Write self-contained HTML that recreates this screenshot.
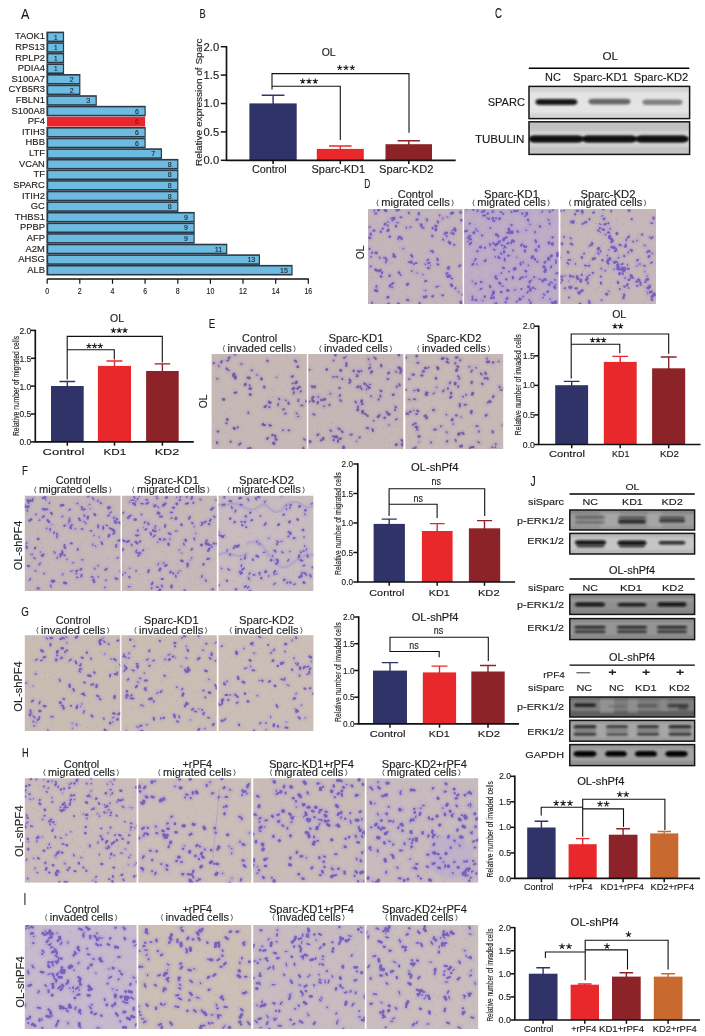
<!DOCTYPE html>
<html><head><meta charset="utf-8"><title>Figure</title>
<style>html,body{margin:0;padding:0;background:#fff;}body{width:705px;height:1036px;overflow:hidden;font-family:"Liberation Sans",sans-serif;}svg{display:block;opacity:0.999;}text{font-family:"Liberation Sans",sans-serif;}</style>
</head><body>
<svg width="705" height="1036" viewBox="0 0 705 1036" font-family="Liberation Sans, sans-serif"><rect x="46.4" y="31.6" width="17.7" height="10.6" fill="#2b3946" />
<rect x="48.2" y="33.2" width="14.7" height="7.4" fill="#6dbbe0" />
<text x="44.9" y="39.4" font-size="8.6" text-anchor="end" fill="#222" textLength="30.0" lengthAdjust="spacingAndGlyphs" stroke="#222" stroke-width="0.14">TAOK1</text>
<text x="55.7" y="39.5" font-size="8" text-anchor="middle" fill="#1c2733" textLength="3.6" lengthAdjust="spacingAndGlyphs" stroke="#1c2733" stroke-width="0.14">1</text>
<rect x="46.4" y="42.2" width="17.7" height="10.6" fill="#2b3946" />
<rect x="48.2" y="43.8" width="14.7" height="7.4" fill="#6dbbe0" />
<text x="44.9" y="50.0" font-size="8.6" text-anchor="end" fill="#222" textLength="29.7" lengthAdjust="spacingAndGlyphs" stroke="#222" stroke-width="0.14">RPS13</text>
<text x="55.7" y="50.1" font-size="8" text-anchor="middle" fill="#1c2733" textLength="3.6" lengthAdjust="spacingAndGlyphs" stroke="#1c2733" stroke-width="0.14">1</text>
<rect x="46.4" y="52.8" width="17.7" height="10.6" fill="#2b3946" />
<rect x="48.2" y="54.4" width="14.7" height="7.4" fill="#6dbbe0" />
<text x="44.9" y="60.6" font-size="8.6" text-anchor="end" fill="#222" textLength="29.7" lengthAdjust="spacingAndGlyphs" stroke="#222" stroke-width="0.14">RPLP2</text>
<text x="55.7" y="60.7" font-size="8" text-anchor="middle" fill="#1c2733" textLength="3.6" lengthAdjust="spacingAndGlyphs" stroke="#1c2733" stroke-width="0.14">1</text>
<rect x="46.4" y="63.4" width="17.7" height="10.6" fill="#2b3946" />
<rect x="48.2" y="65.0" width="14.7" height="7.4" fill="#6dbbe0" />
<text x="44.9" y="71.2" font-size="8.6" text-anchor="end" fill="#222" textLength="27.1" lengthAdjust="spacingAndGlyphs" stroke="#222" stroke-width="0.14">PDIA4</text>
<text x="55.7" y="71.3" font-size="8" text-anchor="middle" fill="#1c2733" textLength="3.6" lengthAdjust="spacingAndGlyphs" stroke="#1c2733" stroke-width="0.14">1</text>
<rect x="46.4" y="74.0" width="34.0" height="10.6" fill="#2b3946" />
<rect x="48.2" y="75.6" width="31.0" height="7.4" fill="#6dbbe0" />
<text x="44.9" y="81.8" font-size="8.6" text-anchor="end" fill="#222" textLength="33.4" lengthAdjust="spacingAndGlyphs" stroke="#222" stroke-width="0.14">S100A7</text>
<text x="71.7" y="81.9" font-size="8" text-anchor="middle" fill="#1c2733" textLength="3.9" lengthAdjust="spacingAndGlyphs" stroke="#1c2733" stroke-width="0.14">2</text>
<rect x="46.4" y="84.6" width="34.0" height="10.6" fill="#2b3946" />
<rect x="48.2" y="86.2" width="31.0" height="7.4" fill="#6dbbe0" />
<text x="44.9" y="92.4" font-size="8.6" text-anchor="end" fill="#222" textLength="36.5" lengthAdjust="spacingAndGlyphs" stroke="#222" stroke-width="0.14">CYB5R3</text>
<text x="71.7" y="92.5" font-size="8" text-anchor="middle" fill="#1c2733" textLength="3.9" lengthAdjust="spacingAndGlyphs" stroke="#1c2733" stroke-width="0.14">2</text>
<rect x="46.4" y="95.2" width="50.4" height="10.6" fill="#2b3946" />
<rect x="48.2" y="96.8" width="47.4" height="7.4" fill="#6dbbe0" />
<text x="44.9" y="103.0" font-size="8.6" text-anchor="end" fill="#222" textLength="29.2" lengthAdjust="spacingAndGlyphs" stroke="#222" stroke-width="0.14">FBLN1</text>
<text x="88.1" y="103.1" font-size="8" text-anchor="middle" fill="#1c2733" textLength="3.9" lengthAdjust="spacingAndGlyphs" stroke="#1c2733" stroke-width="0.14">3</text>
<rect x="46.4" y="105.8" width="99.3" height="10.6" fill="#2b3946" />
<rect x="48.2" y="107.4" width="96.3" height="7.4" fill="#6dbbe0" />
<text x="44.9" y="113.6" font-size="8.6" text-anchor="end" fill="#222" textLength="33.4" lengthAdjust="spacingAndGlyphs" stroke="#222" stroke-width="0.14">S100A8</text>
<text x="137.0" y="113.7" font-size="8" text-anchor="middle" fill="#1c2733" textLength="3.9" lengthAdjust="spacingAndGlyphs" stroke="#1c2733" stroke-width="0.14">6</text>
<rect x="47.0" y="116.8" width="98.1" height="9.8" fill="#e8262b" />
<text x="44.9" y="124.2" font-size="8.6" text-anchor="end" fill="#222" textLength="17.2" lengthAdjust="spacingAndGlyphs" stroke="#222" stroke-width="0.14">PF4</text>
<text x="137.0" y="124.3" font-size="8" text-anchor="middle" fill="#8a1518" textLength="3.9" lengthAdjust="spacingAndGlyphs" stroke="#8a1518" stroke-width="0.14">6</text>
<rect x="46.4" y="127.0" width="99.3" height="10.6" fill="#2b3946" />
<rect x="48.2" y="128.6" width="96.3" height="7.4" fill="#6dbbe0" />
<text x="44.9" y="134.8" font-size="8.6" text-anchor="end" fill="#222" textLength="22.9" lengthAdjust="spacingAndGlyphs" stroke="#222" stroke-width="0.14">ITIH3</text>
<text x="137.0" y="134.9" font-size="8" text-anchor="middle" fill="#1c2733" textLength="3.9" lengthAdjust="spacingAndGlyphs" stroke="#1c2733" stroke-width="0.14">6</text>
<rect x="46.4" y="137.7" width="99.3" height="10.6" fill="#2b3946" />
<rect x="48.2" y="139.3" width="96.3" height="7.4" fill="#6dbbe0" />
<text x="44.9" y="145.4" font-size="8.6" text-anchor="end" fill="#222" textLength="19.3" lengthAdjust="spacingAndGlyphs" stroke="#222" stroke-width="0.14">HBB</text>
<text x="137.0" y="145.5" font-size="8" text-anchor="middle" fill="#1c2733" textLength="3.9" lengthAdjust="spacingAndGlyphs" stroke="#1c2733" stroke-width="0.14">6</text>
<rect x="46.4" y="148.3" width="115.6" height="10.6" fill="#2b3946" />
<rect x="48.2" y="149.9" width="112.6" height="7.4" fill="#6dbbe0" />
<text x="44.9" y="156.1" font-size="8.6" text-anchor="end" fill="#222" textLength="16.0" lengthAdjust="spacingAndGlyphs" stroke="#222" stroke-width="0.14">LTF</text>
<text x="153.3" y="156.1" font-size="8" text-anchor="middle" fill="#1c2733" textLength="3.9" lengthAdjust="spacingAndGlyphs" stroke="#1c2733" stroke-width="0.14">7</text>
<rect x="46.4" y="158.9" width="132.0" height="10.6" fill="#2b3946" />
<rect x="48.2" y="160.5" width="129.0" height="7.4" fill="#6dbbe0" />
<text x="44.9" y="166.7" font-size="8.6" text-anchor="end" fill="#222" textLength="26.0" lengthAdjust="spacingAndGlyphs" stroke="#222" stroke-width="0.14">VCAN</text>
<text x="169.7" y="166.7" font-size="8" text-anchor="middle" fill="#1c2733" textLength="3.9" lengthAdjust="spacingAndGlyphs" stroke="#1c2733" stroke-width="0.14">8</text>
<rect x="46.4" y="169.5" width="132.0" height="10.6" fill="#2b3946" />
<rect x="48.2" y="171.1" width="129.0" height="7.4" fill="#6dbbe0" />
<text x="44.9" y="177.3" font-size="8.6" text-anchor="end" fill="#222" textLength="11.5" lengthAdjust="spacingAndGlyphs" stroke="#222" stroke-width="0.14">TF</text>
<text x="169.7" y="177.3" font-size="8" text-anchor="middle" fill="#1c2733" textLength="3.9" lengthAdjust="spacingAndGlyphs" stroke="#1c2733" stroke-width="0.14">8</text>
<rect x="46.4" y="180.1" width="132.0" height="10.6" fill="#2b3946" />
<rect x="48.2" y="181.7" width="129.0" height="7.4" fill="#6dbbe0" />
<text x="44.9" y="187.9" font-size="8.6" text-anchor="end" fill="#222" textLength="31.6" lengthAdjust="spacingAndGlyphs" stroke="#222" stroke-width="0.14">SPARC</text>
<text x="169.7" y="187.9" font-size="8" text-anchor="middle" fill="#1c2733" textLength="3.9" lengthAdjust="spacingAndGlyphs" stroke="#1c2733" stroke-width="0.14">8</text>
<rect x="46.4" y="190.7" width="132.0" height="10.6" fill="#2b3946" />
<rect x="48.2" y="192.3" width="129.0" height="7.4" fill="#6dbbe0" />
<text x="44.9" y="198.5" font-size="8.6" text-anchor="end" fill="#222" textLength="22.9" lengthAdjust="spacingAndGlyphs" stroke="#222" stroke-width="0.14">ITIH2</text>
<text x="169.7" y="198.6" font-size="8" text-anchor="middle" fill="#1c2733" textLength="3.9" lengthAdjust="spacingAndGlyphs" stroke="#1c2733" stroke-width="0.14">8</text>
<rect x="46.4" y="201.3" width="132.0" height="10.6" fill="#2b3946" />
<rect x="48.2" y="202.9" width="129.0" height="7.4" fill="#6dbbe0" />
<text x="44.9" y="209.1" font-size="8.6" text-anchor="end" fill="#222" textLength="14.1" lengthAdjust="spacingAndGlyphs" stroke="#222" stroke-width="0.14">GC</text>
<text x="169.7" y="209.2" font-size="8" text-anchor="middle" fill="#1c2733" textLength="3.9" lengthAdjust="spacingAndGlyphs" stroke="#1c2733" stroke-width="0.14">8</text>
<rect x="46.4" y="211.9" width="148.3" height="10.6" fill="#2b3946" />
<rect x="48.2" y="213.5" width="145.3" height="7.4" fill="#6dbbe0" />
<text x="44.9" y="219.7" font-size="8.6" text-anchor="end" fill="#222" textLength="30.2" lengthAdjust="spacingAndGlyphs" stroke="#222" stroke-width="0.14">THBS1</text>
<text x="186.0" y="219.8" font-size="8" text-anchor="middle" fill="#1c2733" textLength="3.9" lengthAdjust="spacingAndGlyphs" stroke="#1c2733" stroke-width="0.14">9</text>
<rect x="46.4" y="222.5" width="148.3" height="10.6" fill="#2b3946" />
<rect x="48.2" y="224.1" width="145.3" height="7.4" fill="#6dbbe0" />
<text x="44.9" y="230.3" font-size="8.6" text-anchor="end" fill="#222" textLength="25.0" lengthAdjust="spacingAndGlyphs" stroke="#222" stroke-width="0.14">PPBP</text>
<text x="186.0" y="230.4" font-size="8" text-anchor="middle" fill="#1c2733" textLength="3.9" lengthAdjust="spacingAndGlyphs" stroke="#1c2733" stroke-width="0.14">9</text>
<rect x="46.4" y="233.1" width="148.3" height="10.6" fill="#2b3946" />
<rect x="48.2" y="234.7" width="145.3" height="7.4" fill="#6dbbe0" />
<text x="44.9" y="240.9" font-size="8.6" text-anchor="end" fill="#222" textLength="18.2" lengthAdjust="spacingAndGlyphs" stroke="#222" stroke-width="0.14">AFP</text>
<text x="186.0" y="241.0" font-size="8" text-anchor="middle" fill="#1c2733" textLength="3.9" lengthAdjust="spacingAndGlyphs" stroke="#1c2733" stroke-width="0.14">9</text>
<rect x="46.4" y="243.7" width="180.9" height="10.6" fill="#2b3946" />
<rect x="48.2" y="245.3" width="177.9" height="7.4" fill="#6dbbe0" />
<text x="44.9" y="251.5" font-size="8.6" text-anchor="end" fill="#222" textLength="19.3" lengthAdjust="spacingAndGlyphs" stroke="#222" stroke-width="0.14">A2M</text>
<text x="218.6" y="251.6" font-size="8" text-anchor="middle" fill="#1c2733" textLength="7.8" lengthAdjust="spacingAndGlyphs" stroke="#1c2733" stroke-width="0.14">11</text>
<rect x="46.4" y="254.3" width="213.6" height="10.6" fill="#2b3946" />
<rect x="48.2" y="255.9" width="210.6" height="7.4" fill="#6dbbe0" />
<text x="44.9" y="262.1" font-size="8.6" text-anchor="end" fill="#222" textLength="26.6" lengthAdjust="spacingAndGlyphs" stroke="#222" stroke-width="0.14">AHSG</text>
<text x="251.3" y="262.2" font-size="8" text-anchor="middle" fill="#1c2733" textLength="7.8" lengthAdjust="spacingAndGlyphs" stroke="#1c2733" stroke-width="0.14">13</text>
<rect x="46.4" y="264.9" width="246.2" height="10.6" fill="#2b3946" />
<rect x="48.2" y="266.5" width="243.2" height="7.4" fill="#6dbbe0" />
<text x="44.9" y="272.7" font-size="8.6" text-anchor="end" fill="#222" textLength="17.7" lengthAdjust="spacingAndGlyphs" stroke="#222" stroke-width="0.14">ALB</text>
<text x="283.9" y="272.8" font-size="8" text-anchor="middle" fill="#1c2733" textLength="7.8" lengthAdjust="spacingAndGlyphs" stroke="#1c2733" stroke-width="0.14">15</text>
<path d="M47.2 279H308.82" stroke="#111" stroke-width="1.3" fill="none"/>
<path d="M47.2 279V283.8" stroke="#111" stroke-width="1.2" fill="none"/>
<text x="47.2" y="294.4" font-size="8.8" text-anchor="middle" fill="#1a1a1a" textLength="3.9" lengthAdjust="spacingAndGlyphs" stroke="#1a1a1a" stroke-width="0.14">0</text>
<path d="M79.8 279V283.8" stroke="#111" stroke-width="1.2" fill="none"/>
<text x="79.8" y="294.4" font-size="8.8" text-anchor="middle" fill="#1a1a1a" textLength="3.9" lengthAdjust="spacingAndGlyphs" stroke="#1a1a1a" stroke-width="0.14">2</text>
<path d="M112.5 279V283.8" stroke="#111" stroke-width="1.2" fill="none"/>
<text x="112.5" y="294.4" font-size="8.8" text-anchor="middle" fill="#1a1a1a" textLength="3.9" lengthAdjust="spacingAndGlyphs" stroke="#1a1a1a" stroke-width="0.14">4</text>
<path d="M145.1 279V283.8" stroke="#111" stroke-width="1.2" fill="none"/>
<text x="145.1" y="294.4" font-size="8.8" text-anchor="middle" fill="#1a1a1a" textLength="3.9" lengthAdjust="spacingAndGlyphs" stroke="#1a1a1a" stroke-width="0.14">6</text>
<path d="M177.8 279V283.8" stroke="#111" stroke-width="1.2" fill="none"/>
<text x="177.8" y="294.4" font-size="8.8" text-anchor="middle" fill="#1a1a1a" textLength="3.9" lengthAdjust="spacingAndGlyphs" stroke="#1a1a1a" stroke-width="0.14">8</text>
<path d="M210.4 279V283.8" stroke="#111" stroke-width="1.2" fill="none"/>
<text x="210.4" y="294.4" font-size="8.8" text-anchor="middle" fill="#1a1a1a" textLength="7.8" lengthAdjust="spacingAndGlyphs" stroke="#1a1a1a" stroke-width="0.14">10</text>
<path d="M243.0 279V283.8" stroke="#111" stroke-width="1.2" fill="none"/>
<text x="243.0" y="294.4" font-size="8.8" text-anchor="middle" fill="#1a1a1a" textLength="7.8" lengthAdjust="spacingAndGlyphs" stroke="#1a1a1a" stroke-width="0.14">12</text>
<path d="M275.7 279V283.8" stroke="#111" stroke-width="1.2" fill="none"/>
<text x="275.7" y="294.4" font-size="8.8" text-anchor="middle" fill="#1a1a1a" textLength="7.8" lengthAdjust="spacingAndGlyphs" stroke="#1a1a1a" stroke-width="0.14">14</text>
<path d="M308.3 279V283.8" stroke="#111" stroke-width="1.2" fill="none"/>
<text x="308.3" y="294.4" font-size="8.8" text-anchor="middle" fill="#1a1a1a" textLength="7.8" lengthAdjust="spacingAndGlyphs" stroke="#1a1a1a" stroke-width="0.14">16</text>
<text x="25.1" y="18.7" font-size="15.1" text-anchor="middle" fill="#1a1a1a" textLength="8.4" lengthAdjust="spacingAndGlyphs" stroke="#1a1a1a" stroke-width="0.14">A</text>
<path d="M273.1 104.4V95.2M261.7 95.2H284.4" stroke="#2f3368" stroke-width="1.4" fill="none"/>
<rect x="249.4" y="103.4" width="47.3" height="56.9" fill="#2f3368" />
<path d="M340.3 149.9V146.0M329.0 146.0H351.6" stroke="#e9282b" stroke-width="1.4" fill="none"/>
<rect x="316.8" y="148.9" width="47.0" height="11.4" fill="#e9282b" />
<path d="M408.8 145.2V140.7M397.6 140.7H419.9" stroke="#8c2329" stroke-width="1.4" fill="none"/>
<rect x="385.5" y="144.2" width="46.5" height="16.1" fill="#8c2329" />
<path d="M226.5 46.0V160.3H455.7" stroke="#111" stroke-width="1.65" fill="none"/>
<path d="M220.8 46.7H226.5" stroke="#111" stroke-width="1.5" fill="none"/>
<text x="219.2" y="50.5" font-size="10.6" text-anchor="end" fill="#222" textLength="15.6" lengthAdjust="spacingAndGlyphs" stroke="#222" stroke-width="0.14">2.0</text>
<path d="M220.8 75.1H226.5" stroke="#111" stroke-width="1.5" fill="none"/>
<text x="219.2" y="78.9" font-size="10.6" text-anchor="end" fill="#222" textLength="15.6" lengthAdjust="spacingAndGlyphs" stroke="#222" stroke-width="0.14">1.5</text>
<path d="M220.8 103.5H226.5" stroke="#111" stroke-width="1.5" fill="none"/>
<text x="219.2" y="107.3" font-size="10.6" text-anchor="end" fill="#222" textLength="15.6" lengthAdjust="spacingAndGlyphs" stroke="#222" stroke-width="0.14">1.0</text>
<path d="M220.8 131.9H226.5" stroke="#111" stroke-width="1.5" fill="none"/>
<text x="219.2" y="135.7" font-size="10.6" text-anchor="end" fill="#222" textLength="15.6" lengthAdjust="spacingAndGlyphs" stroke="#222" stroke-width="0.14">0.5</text>
<path d="M220.8 160.3H226.5" stroke="#111" stroke-width="1.5" fill="none"/>
<text x="219.2" y="164.1" font-size="10.6" text-anchor="end" fill="#222" textLength="15.6" lengthAdjust="spacingAndGlyphs" stroke="#222" stroke-width="0.14">0.0</text>
<path d="M273.1 160.3V164.1" stroke="#111" stroke-width="1.5" fill="none"/>
<path d="M340.3 160.3V164.1" stroke="#111" stroke-width="1.5" fill="none"/>
<path d="M408.8 160.3V164.1" stroke="#111" stroke-width="1.5" fill="none"/>
<text x="198.6" y="105.5" font-size="9.2" text-anchor="middle" fill="#222" textLength="127.7" lengthAdjust="spacingAndGlyphs" stroke="#222" stroke-width="0.14" transform="rotate(-90 198.6 102.2)">Relative expression of Sparc</text>
<path d="M272 89.4V73.6H409V132.8" stroke="#111" stroke-width="1.1" fill="none"/>
<path d="M272 86.3H340.3V139.9" stroke="#111" stroke-width="1.1" fill="none"/>
<path d="M302.7 81.2l0.00 -2.70M302.7 81.2l2.57 -0.83M302.7 81.2l1.59 2.18M302.7 81.2l-1.59 2.18M302.7 81.2l-2.57 -0.83M309.0 81.2l0.00 -2.70M309.0 81.2l2.57 -0.83M309.0 81.2l1.59 2.18M309.0 81.2l-1.59 2.18M309.0 81.2l-2.57 -0.83M315.3 81.2l0.00 -2.70M315.3 81.2l2.57 -0.83M315.3 81.2l1.59 2.18M315.3 81.2l-1.59 2.18M315.3 81.2l-2.57 -0.83" stroke="#1a1a1a" stroke-width="1.05" fill="none"/>
<path d="M339.7 67.8l0.00 -2.70M339.7 67.8l2.57 -0.83M339.7 67.8l1.59 2.18M339.7 67.8l-1.59 2.18M339.7 67.8l-2.57 -0.83M346.0 67.8l0.00 -2.70M346.0 67.8l2.57 -0.83M346.0 67.8l1.59 2.18M346.0 67.8l-1.59 2.18M346.0 67.8l-2.57 -0.83M352.3 67.8l0.00 -2.70M352.3 67.8l2.57 -0.83M352.3 67.8l1.59 2.18M352.3 67.8l-1.59 2.18M352.3 67.8l-2.57 -0.83" stroke="#1a1a1a" stroke-width="1.05" fill="none"/>
<text x="328.7" y="56.0" font-size="10.3" text-anchor="middle" fill="#1a1a1a" textLength="14.0" lengthAdjust="spacingAndGlyphs" stroke="#1a1a1a" stroke-width="0.14">OL</text>
<text x="269.4" y="173.4" font-size="10" text-anchor="middle" fill="#1a1a1a" textLength="34.7" lengthAdjust="spacingAndGlyphs" stroke="#1a1a1a" stroke-width="0.14">Control</text>
<text x="338.3" y="173.4" font-size="10" text-anchor="middle" fill="#1a1a1a" textLength="53.6" lengthAdjust="spacingAndGlyphs" stroke="#1a1a1a" stroke-width="0.14">Sparc-KD1</text>
<text x="406.2" y="173.4" font-size="10" text-anchor="middle" fill="#1a1a1a" textLength="54.2" lengthAdjust="spacingAndGlyphs" stroke="#1a1a1a" stroke-width="0.14">Sparc-KD2</text>
<text x="202.7" y="18.2" font-size="13.3" text-anchor="middle" fill="#1a1a1a" textLength="6.2" lengthAdjust="spacingAndGlyphs" stroke="#1a1a1a" stroke-width="0.14">B</text>
<defs><filter id="b1" x="-20%" y="-80%" width="140%" height="260%"><feGaussianBlur stdDeviation="1.0"/></filter><filter id="b2" x="-20%" y="-50%" width="140%" height="200%"><feGaussianBlur stdDeviation="0.7"/></filter><filter id="cb" x="-5%" y="-5%" width="110%" height="110%"><feGaussianBlur stdDeviation="0.65"/></filter><filter id="hb" x="-5%" y="-5%" width="110%" height="110%"><feGaussianBlur stdDeviation="1.2"/></filter></defs>
<text x="498.5" y="18.3" font-size="13.8" text-anchor="middle" fill="#1a1a1a" textLength="6.9" lengthAdjust="spacingAndGlyphs" stroke="#1a1a1a" stroke-width="0.14">C</text>
<text x="610.3" y="59.5" font-size="10.8" text-anchor="middle" fill="#1a1a1a" textLength="15.5" lengthAdjust="spacingAndGlyphs" stroke="#1a1a1a" stroke-width="0.14">OL</text>
<path d="M528.8 68.2L689.3 68.2" stroke="#000" stroke-width="1.45" fill="none"/>
<text x="552.9" y="80.8" font-size="10.4" text-anchor="middle" fill="#1a1a1a" textLength="15.8" lengthAdjust="spacingAndGlyphs" stroke="#1a1a1a" stroke-width="0.14">NC</text>
<text x="600.4" y="80.8" font-size="10.4" text-anchor="middle" fill="#1a1a1a" textLength="54.8" lengthAdjust="spacingAndGlyphs" stroke="#1a1a1a" stroke-width="0.14">Sparc-KD1</text>
<text x="661.0" y="80.8" font-size="10.4" text-anchor="middle" fill="#1a1a1a" textLength="54.6" lengthAdjust="spacingAndGlyphs" stroke="#1a1a1a" stroke-width="0.14">Sparc-KD2</text>
<clipPath id="bc1"><rect x="529" y="86.4" width="160.6" height="32.2"/></clipPath>
<rect x="529.0" y="86.4" width="160.6" height="32.2" fill="#e4e4e4" />
<g clip-path="url(#bc1)">
<rect x="529" y="86" width="161" height="6" fill="#cfcfcf" opacity="0.8" filter="url(#hb)"/>
<rect x="529" y="113" width="161" height="6" fill="#d0d0d0" opacity="0.7" filter="url(#hb)"/>
<rect x="535.4" y="99.0" width="42.0" height="6.0" rx="4.8" ry="3.0" fill="#101010" opacity="0.95" filter="url(#b1)"/>
<rect x="588.5" y="98.8" width="42.0" height="5.6" rx="4.5" ry="2.8" fill="#333" opacity="0.7" filter="url(#b1)"/>
<rect x="642.4" y="99.6" width="40.0" height="5.3" rx="4.2" ry="2.6" fill="#444" opacity="0.62" filter="url(#b1)"/>
</g>
<rect x="529" y="86.4" width="160.6" height="32.2" fill="none" stroke="#151515" stroke-width="1.5"/>
<clipPath id="bc2"><rect x="529" y="121.8" width="160.6" height="32.6"/></clipPath>
<rect x="529.0" y="121.8" width="160.6" height="32.6" fill="#d2d2d2" />
<g clip-path="url(#bc2)">
<rect x="529" y="121.8" width="161" height="9" fill="#bdbdbd" opacity="0.8" filter="url(#hb)"/>
<rect x="529" y="147" width="161" height="8" fill="#c0c0c0" opacity="0.8" filter="url(#hb)"/>
<rect x="529.0" y="135.6" width="54.0" height="6.9" rx="5.5" ry="3.4" fill="#0c0c0c" opacity="0.97" filter="url(#b1)"/>
<rect x="582.5" y="135.6" width="54.0" height="6.9" rx="5.5" ry="3.4" fill="#0c0c0c" opacity="0.97" filter="url(#b1)"/>
<rect x="636.0" y="135.6" width="52.0" height="6.9" rx="5.5" ry="3.4" fill="#0c0c0c" opacity="0.97" filter="url(#b1)"/>
<rect x="529.0" y="137.2" width="160.0" height="3.5" rx="2.8" ry="1.8" fill="#111" opacity="0.9" filter="url(#b1)"/>
</g>
<rect x="529" y="121.8" width="160.6" height="32.6" fill="none" stroke="#151515" stroke-width="1.5"/>
<text x="525.0" y="105.8" font-size="11.2" text-anchor="end" fill="#1a1a1a" textLength="37.3" lengthAdjust="spacingAndGlyphs" stroke="#1a1a1a" stroke-width="0.14">SPARC</text>
<text x="524.4" y="142.6" font-size="11.2" text-anchor="end" fill="#1a1a1a" textLength="49.5" lengthAdjust="spacingAndGlyphs" stroke="#1a1a1a" stroke-width="0.14">TUBULIN</text>
<text x="367.2" y="188.2" font-size="13.2" text-anchor="middle" fill="#1a1a1a" textLength="6.1" lengthAdjust="spacingAndGlyphs" stroke="#1a1a1a" stroke-width="0.14">D</text>
<clipPath id="tc1"><rect x="368.0" y="209.0" width="94.6" height="95.0"/></clipPath>
<rect x="368.0" y="209.0" width="94.6" height="95.0" fill="#c4b5ba" />
<g clip-path="url(#tc1)" fill="none" stroke-linecap="round">
<path d="M410.8 262.2l-0.1 0.3M412.1 257.2l-0.0 0.2M385.5 257.6l-1.5 0.2M443.0 217.9l-0.5 1.1M376.6 285.9l-0.5 0.7M372.0 302.3l0.1 1.4M429.9 267.5l-0.0 0.1M411.3 261.4l0.1 1.5M439.4 215.3l0.3 0.2M423.9 227.6l-1.6 0.4M395.8 209.4l0.9 0.4M394.2 218.3l-0.6 0.5M447.5 276.2l0.2 0.6M389.7 236.5l-0.2 0.7M448.5 277.0l1.1 0.1M374.3 210.6l0.0 0.3M388.2 297.1l-0.6 0.2M450.1 275.9l-0.0 0.3M430.2 265.4l0.5 0.1M398.5 209.7l-1.4 0.4M380.7 276.2l0.8 0.5M448.9 275.5l-1.4 1.0M410.3 227.1l0.4 0.2M380.4 270.2l-1.1 0.7M389.8 236.5l0.1 0.2M460.2 265.3l-0.9 0.8M369.9 226.8l-0.4 0.5M425.0 263.8l0.8 1.1M377.0 287.9l0.0 0.0M399.1 237.2l1.5 0.2M386.4 261.2l-0.8 1.4M392.3 220.4l0.1 0.4M413.8 263.6l0.3 0.9M385.3 223.6l-0.6 0.9M445.4 232.7l1.7 0.1M446.5 273.9l0.1 0.1M375.4 213.5l0.7 0.1M415.6 263.1l1.1 0.0M392.3 287.3l-0.4 0.1M395.8 225.7l0.2 0.9M374.5 230.7l-1.0 0.0M448.6 267.4l-0.3 0.7M454.8 228.4l-0.7 0.7M448.4 277.0l-0.6 0.1M427.9 267.9l0.7 0.4M382.2 272.3l-0.3 0.9M437.3 258.6l0.4 1.6M423.8 296.7l0.4 0.6M401.8 238.6l-0.2 0.4M390.4 285.0l-0.8 1.4M398.2 303.9l0.5 0.0M444.8 233.3l-0.4 0.9M437.7 221.3l0.4 1.2M400.3 217.1l1.3 0.2M375.3 290.4l1.6 0.4M370.9 256.5l0.1 0.7M452.2 230.7l0.1 0.0M375.6 269.7l1.4 0.7M451.2 278.2l1.0 0.4M437.5 264.2l0.7 0.3M447.3 217.0l0.5 0.3M370.8 266.1l-0.4 0.7M389.8 275.3l-0.4 0.9M426.1 296.4l-0.5 0.5M369.1 237.6l1.3 0.6M387.2 225.1l0.9 0.8M430.4 251.0l0.5 0.7M398.9 272.3l0.5 1.0M372.3 252.4l-0.7 0.8M388.3 229.9l-0.4 0.9M387.9 221.8l0.2 0.2M452.7 212.9l-1.4 0.6M447.0 272.7l1.1 0.0M455.6 287.9l-0.3 0.7M417.2 272.9l0.2 0.3M447.6 268.4l1.4 0.8M446.4 235.4l0.4 1.0M432.2 235.7l0.3 0.5M429.4 262.6l-1.1 0.6M406.3 227.0l0.2 1.3M393.2 283.0l-1.1 0.9M461.1 220.0l0.5 0.5M369.7 248.5l-0.3 0.6M432.8 227.9l-0.1 0.5M384.9 210.0l1.2 0.8M435.6 226.0l0.6 0.2M400.7 275.2l0.1 0.0M426.1 280.8l-0.8 0.5M442.9 295.1l-0.4 0.3M392.3 287.1l-0.5 0.1M454.1 244.8l0.1 0.1M451.2 284.7l0.7 1.1M411.9 270.9l-0.2 0.3M436.3 286.7l0.6 0.2M435.9 229.3l-0.2 0.7M460.8 301.8l0.3 1.5M442.8 239.4l0.6 0.5M449.0 242.1l1.1 1.1M450.8 233.0l1.4 0.1M455.0 229.7l0.2 0.6M408.6 212.3l0.5 1.1M433.0 296.0l-0.8 0.5M462.6 294.6l0.3 0.1M432.1 250.8l0.9 1.2M422.8 274.5l0.4 0.1M409.6 262.1l-1.0 0.1M421.1 224.6l0.3 1.4M453.8 233.4l-0.7 0.6M458.3 291.7l0.4 0.4M396.8 222.4l1.5 0.4M393.8 256.3l1.1 0.3M378.8 209.5l-0.4 0.6M418.9 213.2l-0.1 1.3M419.5 303.0l0.3 0.6M393.9 217.4l0.0 1.1M407.1 299.9l1.3 0.3M393.5 254.0l0.4 1.5M375.8 252.9l0.6 0.0M417.7 219.3l-1.3 0.5M370.8 233.7l-0.1 1.1M460.5 212.4l0.0 0.0M411.2 255.1l1.1 1.1M426.6 219.0l0.6 1.6M379.6 257.5l0.2 0.5M386.7 259.4l-0.5 0.0M403.5 248.3l-0.5 0.6M383.1 228.4l-0.8 0.7M428.4 259.3l-1.1 1.1M425.9 290.4l-1.0 0.3M438.1 286.0l0.4 0.3M397.9 238.9l0.3 0.2M388.6 303.8l-0.0 0.8M380.7 231.7l0.2 0.2M392.5 218.2l-1.5 0.3M407.9 284.0l-0.8 0.5" stroke="#ab96d8" stroke-width="4.8" opacity="0.5" filter="url(#hb)"/>
<g stroke="#5c48b2" opacity="0.72" filter="url(#cb)">
<path d="M412.1 257.2l-0.0 0.2M443.0 217.9l-0.5 1.1M429.9 267.5l-0.0 0.1M395.8 209.4l0.9 0.4M448.5 277.0l1.1 0.1M430.2 265.4l0.5 0.1M425.0 263.8l0.8 1.1M377.0 287.9l0.0 0.0M448.4 277.0l-0.6 0.1M447.3 217.0l0.5 0.3M430.4 251.0l0.5 0.7M447.0 272.7l1.1 0.0M417.2 272.9l0.2 0.3M447.6 268.4l1.4 0.8M406.3 227.0l0.2 1.3M392.3 287.1l-0.5 0.1M422.8 274.5l0.4 0.1M458.3 291.7l0.4 0.4M396.8 222.4l1.5 0.4M403.5 248.3l-0.5 0.6M425.9 290.4l-1.0 0.3M438.1 286.0l0.4 0.3" stroke-width="1.2"/>
<path d="M410.8 262.2l-0.1 0.3M385.5 257.6l-1.5 0.2M376.6 285.9l-0.5 0.7M372.0 302.3l0.1 1.4M439.4 215.3l0.3 0.2M423.9 227.6l-1.6 0.4M447.5 276.2l0.2 0.6M389.7 236.5l-0.2 0.7M374.3 210.6l0.0 0.3M410.3 227.1l0.4 0.2M369.9 226.8l-0.4 0.5M386.4 261.2l-0.8 1.4M392.3 220.4l0.1 0.4M413.8 263.6l0.3 0.9M415.6 263.1l1.1 0.0M392.3 287.3l-0.4 0.1M444.8 233.3l-0.4 0.9M400.3 217.1l1.3 0.2M370.9 256.5l0.1 0.7M452.2 230.7l0.1 0.0M451.2 278.2l1.0 0.4M370.8 266.1l-0.4 0.7M387.2 225.1l0.9 0.8M372.3 252.4l-0.7 0.8M387.9 221.8l0.2 0.2M455.6 287.9l-0.3 0.7M446.4 235.4l0.4 1.0M369.7 248.5l-0.3 0.6M400.7 275.2l0.1 0.0M411.9 270.9l-0.2 0.3M436.3 286.7l0.6 0.2M442.8 239.4l0.6 0.5M450.8 233.0l1.4 0.1M408.6 212.3l0.5 1.1M409.6 262.1l-1.0 0.1M393.9 217.4l0.0 1.1M426.6 219.0l0.6 1.6M379.6 257.5l0.2 0.5M383.1 228.4l-0.8 0.7M428.4 259.3l-1.1 1.1M397.9 238.9l0.3 0.2M392.5 218.2l-1.5 0.3" stroke-width="1.7"/>
<path d="M411.3 261.4l0.1 1.5M450.1 275.9l-0.0 0.3M380.7 276.2l0.8 0.5M448.9 275.5l-1.4 1.0M389.8 236.5l0.1 0.2M460.2 265.3l-0.9 0.8M385.3 223.6l-0.6 0.9M445.4 232.7l1.7 0.1M446.5 273.9l0.1 0.1M375.4 213.5l0.7 0.1M395.8 225.7l0.2 0.9M374.5 230.7l-1.0 0.0M454.8 228.4l-0.7 0.7M427.9 267.9l0.7 0.4M382.2 272.3l-0.3 0.9M437.3 258.6l0.4 1.6M423.8 296.7l0.4 0.6M401.8 238.6l-0.2 0.4M390.4 285.0l-0.8 1.4M437.7 221.3l0.4 1.2M437.5 264.2l0.7 0.3M389.8 275.3l-0.4 0.9M369.1 237.6l1.3 0.6M398.9 272.3l0.5 1.0M432.2 235.7l0.3 0.5M429.4 262.6l-1.1 0.6M393.2 283.0l-1.1 0.9M461.1 220.0l0.5 0.5M432.8 227.9l-0.1 0.5M426.1 280.8l-0.8 0.5M442.9 295.1l-0.4 0.3M454.1 244.8l0.1 0.1M433.0 296.0l-0.8 0.5M462.6 294.6l0.3 0.1M432.1 250.8l0.9 1.2M453.8 233.4l-0.7 0.6M418.9 213.2l-0.1 1.3M419.5 303.0l0.3 0.6M407.1 299.9l1.3 0.3M393.5 254.0l0.4 1.5M417.7 219.3l-1.3 0.5M370.8 233.7l-0.1 1.1M411.2 255.1l1.1 1.1M386.7 259.4l-0.5 0.0M380.7 231.7l0.2 0.2" stroke-width="2.2"/>
<path d="M394.2 218.3l-0.6 0.5M388.2 297.1l-0.6 0.2M398.5 209.7l-1.4 0.4M380.4 270.2l-1.1 0.7M399.1 237.2l1.5 0.2M448.6 267.4l-0.3 0.7M398.2 303.9l0.5 0.0M375.3 290.4l1.6 0.4M375.6 269.7l1.4 0.7M426.1 296.4l-0.5 0.5M388.3 229.9l-0.4 0.9M452.7 212.9l-1.4 0.6M384.9 210.0l1.2 0.8M435.6 226.0l0.6 0.2M451.2 284.7l0.7 1.1M435.9 229.3l-0.2 0.7M460.8 301.8l0.3 1.5M449.0 242.1l1.1 1.1M455.0 229.7l0.2 0.6M421.1 224.6l0.3 1.4M393.8 256.3l1.1 0.3M378.8 209.5l-0.4 0.6M375.8 252.9l0.6 0.0M460.5 212.4l0.0 0.0M388.6 303.8l-0.0 0.8M407.9 284.0l-0.8 0.5" stroke-width="2.8"/>
</g>
<path d="M413.4 233.7h0M451.9 295.9h0M400.4 261.0h0M458.5 254.8h0M388.9 213.7h0M457.6 285.1h0M404.4 259.1h0M416.8 235.1h0M461.7 271.5h0M390.5 210.0h0M412.7 244.3h0M443.4 276.8h0M425.3 223.9h0M382.8 239.6h0M392.5 291.6h0M416.8 269.5h0M461.9 234.3h0M418.6 223.3h0M440.9 209.1h0M445.7 289.4h0M445.8 216.8h0M393.5 277.1h0M377.2 254.6h0M412.3 299.8h0M423.5 290.4h0M396.7 284.0h0M407.4 296.1h0M376.6 287.5h0M387.7 260.6h0M417.7 224.0h0M446.7 238.6h0M397.4 216.2h0M396.9 253.4h0M435.7 243.2h0M433.0 219.0h0M405.3 252.9h0M459.5 287.8h0M429.9 210.2h0M403.7 276.5h0M390.5 262.6h0M411.3 210.0h0M461.8 284.9h0M387.6 267.5h0M395.5 244.7h0M419.1 237.3h0M399.9 246.3h0M431.1 233.4h0M386.9 278.5h0M399.2 298.8h0M421.2 277.8h0M399.4 287.6h0M376.7 222.4h0M376.9 273.4h0M435.0 226.1h0M406.1 288.5h0M424.1 217.6h0M389.4 223.9h0M379.7 247.6h0M374.9 296.5h0M408.4 257.6h0M429.2 281.9h0M445.7 245.7h0M399.4 248.2h0M369.5 247.1h0M434.2 302.3h0M442.7 271.7h0M425.6 210.8h0M399.3 241.5h0M429.6 219.1h0M403.7 257.4h0M442.6 287.4h0M425.8 224.0h0M440.5 294.8h0M419.9 242.5h0M415.3 222.5h0M435.5 302.7h0M416.8 277.0h0M447.0 227.7h0M457.4 268.6h0M386.7 216.9h0M391.1 263.8h0M433.9 240.3h0M455.9 243.3h0M411.8 220.8h0M460.1 221.9h0M453.5 260.6h0M421.0 262.2h0M393.0 295.4h0M461.9 286.7h0M424.9 220.7h0M446.0 236.4h0M452.9 231.9h0M422.3 287.9h0M385.6 261.0h0M375.2 212.0h0M385.0 302.8h0M456.9 271.5h0M397.1 272.8h0M437.8 245.3h0M424.0 285.4h0M369.5 228.0h0M412.3 222.6h0M404.6 263.1h0M384.4 258.4h0M392.9 263.0h0M399.4 270.0h0M371.6 272.7h0M381.7 300.1h0M424.8 253.6h0M406.9 268.3h0M433.2 281.0h0M439.1 255.1h0M462.1 288.6h0M448.9 247.9h0M409.1 262.8h0M453.6 259.0h0M417.7 250.1h0M453.5 239.5h0M373.2 277.9h0M453.2 278.5h0M424.5 280.4h0" stroke="#8d7cb6" stroke-width="0.9" opacity="0.45"/>
</g>
<clipPath id="tc2"><rect x="464.1" y="209.0" width="94.5" height="95.0"/></clipPath>
<rect x="464.1" y="209.0" width="94.5" height="95.0" fill="#beadc4" />
<g clip-path="url(#tc2)" fill="none" stroke-linecap="round">
<path d="M508.9 271.5l0.1 0.1M477.6 210.0l-0.2 1.5M490.0 286.0l0.3 1.1M520.9 262.0l-0.0 0.8M477.8 250.8l-0.8 0.7M482.1 211.8l0.3 0.1M483.7 208.2l-0.0 0.0M472.4 296.3l-0.1 0.7M526.7 230.2l-0.7 0.2M504.1 251.2l-0.0 1.4M555.9 260.3l0.1 0.1M516.8 301.7l0.0 0.0M516.6 257.2l0.2 0.1M501.1 252.9l0.5 1.2M500.4 211.9l1.1 0.4M555.5 301.7l0.2 1.0M497.8 243.5l-0.1 0.1M527.8 219.8l0.4 0.5M498.4 257.6l1.6 0.6M511.4 211.7l0.2 0.3M504.7 258.3l0.1 1.3M504.5 245.9l0.0 0.0M473.8 261.2l0.1 0.3M473.4 264.0l-1.0 0.5M521.0 278.0l-1.1 1.0M498.9 241.3l1.1 0.3M530.0 290.3l0.9 0.5M557.5 253.1l0.2 1.4M481.3 281.8l-0.3 0.4M521.5 299.0l0.0 0.0M539.8 226.1l0.4 0.6M511.5 232.5l-1.6 0.4M476.5 264.0l0.7 0.2M507.6 255.7l1.7 0.0M475.3 283.5l0.5 0.1M510.4 242.6l0.6 0.2M506.1 279.2l0.3 0.2M522.4 213.4l-0.2 0.1M545.6 269.8l-0.6 1.6M539.0 278.7l1.0 0.8M466.8 209.4l-0.1 0.1M512.4 240.8l1.1 0.5M505.2 302.1l0.9 0.2M523.1 296.4l0.1 0.3M536.0 248.7l0.1 0.0M549.2 284.0l0.0 0.6M496.9 244.0l-0.7 0.8M517.3 210.6l0.6 0.4M549.5 284.8l-0.4 0.4M550.1 259.8l0.0 0.0M500.0 218.3l-0.9 0.8M493.6 297.7l0.0 0.0M515.3 268.1l0.2 0.7M472.1 281.2l0.5 0.2M470.9 242.8l-0.9 1.4M505.2 246.8l-0.3 0.7M529.9 281.2l-0.3 1.3M552.4 243.7l0.0 0.9M509.3 230.4l-0.1 1.0M544.5 271.4l0.2 0.1M553.3 209.7l-1.2 1.0M490.5 228.1l-0.3 0.0M484.9 296.3l-0.1 0.5M530.1 224.4l-0.3 0.2M521.4 289.1l0.0 0.0M507.5 290.2l0.6 0.5M485.6 260.1l-0.6 1.0M501.5 273.0l-0.2 0.3M556.0 261.6l-0.2 1.5M497.2 278.6l-1.1 0.3M511.3 243.3l-0.0 0.0M476.9 230.4l1.1 1.0M487.9 213.4l-0.3 0.3M491.1 297.9l0.2 0.4M500.9 291.9l0.7 0.2M494.4 221.0l-0.0 0.0M543.7 266.8l0.8 0.3M503.1 267.7l0.8 0.4M502.6 245.1l-0.9 0.2M501.9 285.7l1.4 0.6M530.6 289.2l-0.7 0.1M548.0 291.5l-0.6 0.4M534.2 277.0l0.0 0.1M550.6 282.2l1.5 0.5M493.5 291.9l-0.2 1.6M545.3 261.8l-0.5 0.8M505.1 247.5l0.5 0.2M551.7 302.2l0.0 0.4M515.7 211.1l-1.5 0.1M498.6 256.3l-0.5 1.2M473.4 209.6l-0.1 0.1M496.3 218.2l-0.5 0.5M524.0 245.9l-0.0 0.6M512.9 276.9l0.0 1.4M551.5 255.7l-0.4 0.6M529.3 299.9l0.0 0.5M504.4 247.6l-0.9 0.7M535.3 288.7l0.0 0.0M472.7 299.0l-0.3 0.7M543.2 297.6l-0.1 0.0M550.3 298.9l-0.4 0.8M554.9 279.9l0.4 0.1M466.8 230.7l-1.5 0.6M509.0 228.6l-0.4 1.2M504.1 260.6l1.1 0.4M486.9 217.3l-0.1 0.3M554.1 302.7l-1.5 0.1M552.3 243.4l-0.3 0.2M551.4 266.0l-0.5 1.6M465.3 230.7l1.6 0.5M533.2 287.5l-0.5 0.4M496.2 245.3l-0.4 0.1M557.6 255.1l-0.5 0.5M499.5 283.0l0.4 0.3M520.4 298.8l-0.2 0.1M495.8 276.1l-0.5 1.3M496.6 303.1l-0.1 0.1M493.3 219.8l-0.9 1.0M520.4 263.8l0.4 0.6M493.4 242.7l-1.0 0.6M495.3 256.7l0.0 0.5M480.4 247.0l0.2 0.2M494.6 243.9l-0.3 0.1M552.7 237.2l-0.2 0.2M526.2 246.7l-1.0 0.3M525.3 216.0l-0.5 0.2M473.7 232.8l0.4 0.2M557.6 273.0l-1.4 0.6M557.7 256.0l-0.2 0.2M481.8 235.0l0.5 0.9M468.4 241.2l-0.7 0.7M507.4 298.0l-0.8 1.1M508.1 243.1l-0.6 0.5M535.1 231.7l-0.3 0.8M532.8 256.6l-0.9 1.0M522.3 276.9l0.8 0.4M493.1 211.3l-0.5 0.6M538.7 246.1l0.3 0.8M549.4 223.4l0.4 0.6M503.9 238.9l-0.4 1.0M503.2 213.9l-0.0 0.0M519.5 298.7l0.2 1.1M537.7 261.4l-0.6 0.7M493.2 217.8l-0.9 0.7M507.0 232.6l1.2 0.6M554.5 286.9l0.6 0.9M476.0 228.7l0.2 0.8M474.3 231.7l-1.0 1.2M504.9 238.2l0.9 0.0M481.6 288.6l-1.3 0.6M525.0 250.4l0.0 1.2M469.9 236.1l-0.2 0.1M506.6 237.3l-0.8 0.2M543.7 294.2l0.8 0.7M515.5 289.5l-0.9 0.5M549.2 211.3l0.8 0.5M514.0 268.1l-0.1 0.7M484.9 247.7l0.0 0.2M534.7 258.8l0.3 0.9M528.1 291.6l-1.0 1.2M498.4 236.2l-0.5 0.1M512.1 231.4l0.4 1.2M470.2 223.3l-0.8 0.6M511.7 224.9l-0.2 0.1M548.9 242.6l0.3 0.6M542.7 210.9l-0.9 1.2M489.7 218.1l0.0 0.0M542.0 280.3l1.2 1.0M535.5 250.2l1.1 0.4M484.3 210.8l-1.2 0.8M522.0 244.3l-0.8 1.2M467.9 237.7l-0.0 0.0M522.9 261.7l0.6 1.3M529.7 289.9l0.4 0.8M469.5 239.2l1.5 0.2M526.6 276.1l-1.2 1.0M475.6 300.2l0.8 0.0M535.6 240.4l0.4 1.7M496.3 234.4l0.4 0.2M531.8 280.0l-0.7 0.5M529.0 286.7l-0.6 0.2M484.8 215.4l-1.6 0.1M489.8 244.1l0.6 1.4M492.2 295.1l-0.5 0.9M530.8 302.6l-0.2 1.0M528.2 265.1l0.5 0.4M493.8 249.3l0.7 0.6M488.3 218.9l0.5 0.0M495.1 302.8l-0.3 1.3M512.9 250.2l0.2 0.4M483.0 300.5l-0.4 0.5M525.5 270.8l0.7 0.7M548.1 219.4l1.1 0.9M526.7 213.1l0.1 1.0M544.6 279.4l0.9 0.2M475.6 259.0l-0.1 0.7M517.2 230.8l0.8 1.4M555.8 284.4l-0.7 0.4M548.5 258.1l-0.1 1.2M513.7 268.9l0.5 0.7" stroke="#ab96d8" stroke-width="4.8" opacity="0.6" filter="url(#hb)"/>
<g stroke="#5c48b2" opacity="0.72" filter="url(#cb)">
<path d="M520.9 262.0l-0.0 0.8M483.7 208.2l-0.0 0.0M526.7 230.2l-0.7 0.2M516.6 257.2l0.2 0.1M473.8 261.2l0.1 0.3M521.5 299.0l0.0 0.0M476.5 264.0l0.7 0.2M539.0 278.7l1.0 0.8M466.8 209.4l-0.1 0.1M536.0 248.7l0.1 0.0M550.1 259.8l0.0 0.0M472.1 281.2l0.5 0.2M505.2 246.8l-0.3 0.7M553.3 209.7l-1.2 1.0M530.1 224.4l-0.3 0.2M476.9 230.4l1.1 1.0M501.9 285.7l1.4 0.6M504.4 247.6l-0.9 0.7M550.3 298.9l-0.4 0.8M504.1 260.6l1.1 0.4M486.9 217.3l-0.1 0.3M465.3 230.7l1.6 0.5M493.3 219.8l-0.9 1.0M493.4 242.7l-1.0 0.6M495.3 256.7l0.0 0.5M468.4 241.2l-0.7 0.7M476.0 228.7l0.2 0.8M515.5 289.5l-0.9 0.5M514.0 268.1l-0.1 0.7M542.7 210.9l-0.9 1.2M489.7 218.1l0.0 0.0M522.9 261.7l0.6 1.3M526.6 276.1l-1.2 1.0M531.8 280.0l-0.7 0.5M528.2 265.1l0.5 0.4M495.1 302.8l-0.3 1.3M483.0 300.5l-0.4 0.5M548.1 219.4l1.1 0.9M555.8 284.4l-0.7 0.4" stroke-width="1.2"/>
<path d="M508.9 271.5l0.1 0.1M477.6 210.0l-0.2 1.5M477.8 250.8l-0.8 0.7M472.4 296.3l-0.1 0.7M555.9 260.3l0.1 0.1M501.1 252.9l0.5 1.2M500.4 211.9l1.1 0.4M498.4 257.6l1.6 0.6M511.4 211.7l0.2 0.3M504.7 258.3l0.1 1.3M504.5 245.9l0.0 0.0M530.0 290.3l0.9 0.5M507.6 255.7l1.7 0.0M510.4 242.6l0.6 0.2M505.2 302.1l0.9 0.2M523.1 296.4l0.1 0.3M496.9 244.0l-0.7 0.8M517.3 210.6l0.6 0.4M549.5 284.8l-0.4 0.4M490.5 228.1l-0.3 0.0M501.5 273.0l-0.2 0.3M556.0 261.6l-0.2 1.5M497.2 278.6l-1.1 0.3M511.3 243.3l-0.0 0.0M502.6 245.1l-0.9 0.2M550.6 282.2l1.5 0.5M505.1 247.5l0.5 0.2M551.7 302.2l0.0 0.4M498.6 256.3l-0.5 1.2M496.3 218.2l-0.5 0.5M529.3 299.9l0.0 0.5M535.3 288.7l0.0 0.0M543.2 297.6l-0.1 0.0M554.9 279.9l0.4 0.1M551.4 266.0l-0.5 1.6M496.6 303.1l-0.1 0.1M525.3 216.0l-0.5 0.2M557.6 273.0l-1.4 0.6M481.8 235.0l0.5 0.9M535.1 231.7l-0.3 0.8M522.3 276.9l0.8 0.4M549.4 223.4l0.4 0.6M537.7 261.4l-0.6 0.7M507.0 232.6l1.2 0.6M474.3 231.7l-1.0 1.2M504.9 238.2l0.9 0.0M481.6 288.6l-1.3 0.6M543.7 294.2l0.8 0.7M549.2 211.3l0.8 0.5M528.1 291.6l-1.0 1.2M470.2 223.3l-0.8 0.6M529.7 289.9l0.4 0.8M489.8 244.1l0.6 1.4M492.2 295.1l-0.5 0.9M493.8 249.3l0.7 0.6M512.9 250.2l0.2 0.4M517.2 230.8l0.8 1.4" stroke-width="1.7"/>
<path d="M490.0 286.0l0.3 1.1M482.1 211.8l0.3 0.1M504.1 251.2l-0.0 1.4M516.8 301.7l0.0 0.0M527.8 219.8l0.4 0.5M473.4 264.0l-1.0 0.5M521.0 278.0l-1.1 1.0M498.9 241.3l1.1 0.3M481.3 281.8l-0.3 0.4M539.8 226.1l0.4 0.6M475.3 283.5l0.5 0.1M506.1 279.2l0.3 0.2M522.4 213.4l-0.2 0.1M549.2 284.0l0.0 0.6M500.0 218.3l-0.9 0.8M515.3 268.1l0.2 0.7M470.9 242.8l-0.9 1.4M529.9 281.2l-0.3 1.3M509.3 230.4l-0.1 1.0M544.5 271.4l0.2 0.1M484.9 296.3l-0.1 0.5M521.4 289.1l0.0 0.0M485.6 260.1l-0.6 1.0M487.9 213.4l-0.3 0.3M491.1 297.9l0.2 0.4M500.9 291.9l0.7 0.2M494.4 221.0l-0.0 0.0M503.1 267.7l0.8 0.4M530.6 289.2l-0.7 0.1M548.0 291.5l-0.6 0.4M534.2 277.0l0.0 0.1M545.3 261.8l-0.5 0.8M515.7 211.1l-1.5 0.1M473.4 209.6l-0.1 0.1M524.0 245.9l-0.0 0.6M512.9 276.9l0.0 1.4M472.7 299.0l-0.3 0.7M466.8 230.7l-1.5 0.6M509.0 228.6l-0.4 1.2M554.1 302.7l-1.5 0.1M552.3 243.4l-0.3 0.2M533.2 287.5l-0.5 0.4M496.2 245.3l-0.4 0.1M557.6 255.1l-0.5 0.5M520.4 298.8l-0.2 0.1M495.8 276.1l-0.5 1.3M520.4 263.8l0.4 0.6M494.6 243.9l-0.3 0.1M552.7 237.2l-0.2 0.2M526.2 246.7l-1.0 0.3M473.7 232.8l0.4 0.2M557.7 256.0l-0.2 0.2M507.4 298.0l-0.8 1.1M508.1 243.1l-0.6 0.5M493.1 211.3l-0.5 0.6M538.7 246.1l0.3 0.8M503.2 213.9l-0.0 0.0M519.5 298.7l0.2 1.1M493.2 217.8l-0.9 0.7M525.0 250.4l0.0 1.2M506.6 237.3l-0.8 0.2M484.9 247.7l0.0 0.2M534.7 258.8l0.3 0.9M498.4 236.2l-0.5 0.1M512.1 231.4l0.4 1.2M511.7 224.9l-0.2 0.1M542.0 280.3l1.2 1.0M535.5 250.2l1.1 0.4M484.3 210.8l-1.2 0.8M522.0 244.3l-0.8 1.2M467.9 237.7l-0.0 0.0M469.5 239.2l1.5 0.2M475.6 300.2l0.8 0.0M535.6 240.4l0.4 1.7M484.8 215.4l-1.6 0.1M530.8 302.6l-0.2 1.0M488.3 218.9l0.5 0.0M525.5 270.8l0.7 0.7M475.6 259.0l-0.1 0.7M513.7 268.9l0.5 0.7" stroke-width="2.2"/>
<path d="M555.5 301.7l0.2 1.0M497.8 243.5l-0.1 0.1M557.5 253.1l0.2 1.4M511.5 232.5l-1.6 0.4M545.6 269.8l-0.6 1.6M512.4 240.8l1.1 0.5M493.6 297.7l0.0 0.0M552.4 243.7l0.0 0.9M507.5 290.2l0.6 0.5M543.7 266.8l0.8 0.3M493.5 291.9l-0.2 1.6M551.5 255.7l-0.4 0.6M499.5 283.0l0.4 0.3M480.4 247.0l0.2 0.2M532.8 256.6l-0.9 1.0M503.9 238.9l-0.4 1.0M554.5 286.9l0.6 0.9M469.9 236.1l-0.2 0.1M548.9 242.6l0.3 0.6M496.3 234.4l0.4 0.2M529.0 286.7l-0.6 0.2M526.7 213.1l0.1 1.0M544.6 279.4l0.9 0.2M548.5 258.1l-0.1 1.2" stroke-width="2.8"/>
</g>
<path d="M474.7 242.9h0M473.4 287.3h0M493.4 233.7h0M531.9 213.9h0M548.6 230.6h0M530.7 261.3h0M503.7 247.1h0M525.2 270.7h0M473.6 216.5h0M513.6 219.3h0M530.8 209.7h0M508.4 272.6h0M467.6 256.7h0M536.1 209.3h0M516.2 270.1h0M482.4 263.4h0M545.6 280.3h0M508.9 224.1h0M557.2 241.6h0M539.5 244.8h0M495.4 250.2h0M517.9 292.5h0M531.9 231.2h0M498.2 274.7h0M472.9 252.1h0M505.7 297.5h0M474.7 252.1h0M488.7 292.3h0M545.2 226.2h0M491.8 277.0h0M483.0 263.9h0M488.1 278.7h0M493.6 296.6h0M521.3 272.7h0M497.4 262.8h0M498.2 248.6h0M514.0 218.6h0M527.4 302.1h0M478.6 302.3h0M509.2 262.5h0M551.0 256.8h0M539.7 289.6h0M512.9 288.1h0M486.6 283.3h0M471.0 272.0h0M551.4 226.8h0M515.7 241.9h0M504.0 245.9h0M519.8 212.2h0M498.5 228.1h0M550.5 286.7h0M477.0 263.2h0M537.0 252.7h0M523.6 275.0h0M481.0 299.0h0M493.3 219.1h0M555.4 260.8h0M555.1 236.9h0M509.2 219.5h0M529.0 218.8h0M465.7 226.8h0M551.2 276.7h0M549.4 237.0h0M491.2 263.4h0M524.6 228.6h0M557.8 298.3h0M505.2 219.5h0M534.8 293.3h0M538.6 298.4h0M553.7 263.9h0M547.0 257.3h0M507.0 290.1h0M509.3 210.4h0M466.9 297.4h0M468.8 299.5h0M483.3 282.8h0M502.1 283.5h0M479.8 237.8h0M471.5 262.9h0M491.7 219.3h0M492.5 218.4h0M492.6 263.7h0M537.1 282.7h0M511.0 246.0h0M477.5 291.1h0M511.8 235.7h0M481.3 225.4h0M495.4 272.1h0M525.4 227.5h0M537.8 289.3h0M476.7 223.1h0M527.6 213.8h0M509.3 291.0h0M539.4 266.8h0M520.7 220.7h0M557.7 300.7h0M536.8 224.6h0M475.4 259.9h0M479.5 256.4h0M528.7 217.3h0M482.6 260.5h0M499.9 219.6h0M529.0 222.7h0M497.3 228.4h0M525.2 288.7h0M480.7 300.3h0M499.2 285.9h0M554.6 281.8h0M478.5 269.3h0M467.0 230.7h0M541.2 223.8h0M554.5 217.4h0M522.8 269.5h0M515.6 295.4h0M529.0 275.0h0M551.3 210.1h0M550.4 285.2h0M511.7 255.9h0M514.8 286.5h0M558.6 217.7h0M488.8 241.7h0M475.0 224.6h0M530.7 287.3h0M525.8 238.1h0M505.7 211.9h0M474.2 224.5h0M470.4 249.7h0M540.5 226.0h0M521.4 209.0h0M483.9 278.6h0M488.8 247.5h0M549.7 259.0h0M545.9 299.7h0M543.3 261.9h0M480.7 264.3h0M515.7 270.7h0M558.2 292.6h0M472.0 298.6h0M548.9 281.7h0M512.4 244.0h0M495.5 290.2h0M544.4 267.5h0M547.1 246.0h0M548.8 229.2h0M504.5 236.7h0M519.8 231.6h0M499.3 275.1h0M509.2 246.2h0M480.9 272.2h0M476.5 297.2h0M535.6 267.0h0M470.8 258.6h0M526.7 282.4h0M540.3 299.5h0M547.6 301.8h0M470.5 222.3h0M493.4 236.4h0M472.7 240.6h0M547.7 218.7h0M492.7 232.9h0M480.2 212.1h0M500.4 253.7h0M502.2 254.2h0M522.7 210.0h0M498.5 237.5h0M478.7 265.1h0M495.1 212.9h0M550.5 242.3h0M494.7 255.4h0M481.1 235.1h0M485.0 233.3h0M492.4 227.2h0M512.4 277.4h0M487.9 232.8h0M479.1 276.1h0M513.8 290.6h0M507.9 241.3h0M536.2 278.7h0M490.2 274.2h0M555.6 263.6h0" stroke="#8d7cb6" stroke-width="0.9" opacity="0.45"/>
</g>
<clipPath id="tc3"><rect x="560.4" y="209.0" width="95.6" height="95.0"/></clipPath>
<rect x="560.4" y="209.0" width="95.6" height="95.0" fill="#c6b8b8" />
<g clip-path="url(#tc3)" fill="none" stroke-linecap="round">
<path d="M613.0 261.2L656.0 296.4" stroke="#9b88c4" stroke-width="0.8" opacity="0.6"/>
<path d="M603.4 218.5L619.7 256.5" stroke="#9b88c4" stroke-width="0.8" opacity="0.6"/>
<path d="M570.0 289.8L603.4 242.2" stroke="#9b88c4" stroke-width="0.8" opacity="0.6"/>
<path d="M623.2 268.1l1.4 0.0M650.0 292.2l-0.2 0.0M619.7 269.0l0.5 0.3M617.5 265.6l-0.7 1.1M622.9 272.9l-0.3 0.4M640.4 282.8l0.3 0.1M621.3 264.3l0.1 0.1M648.9 287.2l-0.4 1.3M654.2 293.4l-0.6 1.3M646.9 291.3l-0.0 0.0M635.9 281.7l1.6 0.3M631.2 277.1l1.1 0.5M649.6 285.6l0.3 1.5M640.2 284.6l0.4 0.4M618.0 264.4l-0.3 0.6M621.1 269.3l-0.2 0.1M621.8 270.7l0.1 0.0M631.3 276.5l0.3 0.1M623.2 270.6l0.4 0.4M630.8 275.2l0.8 0.3M652.0 296.4l0.2 0.5M654.0 294.3l0.2 0.7M648.9 287.6l-0.0 1.0M617.1 268.5l-0.3 0.4M651.5 291.4l-0.1 0.9M647.9 293.1l-0.5 0.3M608.3 223.2l0.0 0.0M615.8 248.7l0.3 1.0M611.3 239.5l0.6 0.3M614.3 247.6l-0.3 0.1M605.7 223.9l-1.3 0.6M609.7 228.3l0.8 0.6M611.9 239.5l0.5 1.4M610.1 235.9l-1.0 0.5M604.5 218.6l-0.9 0.4M608.0 232.6l1.2 0.0M570.2 286.5l0.0 1.4M600.1 250.2l0.6 1.5M589.5 265.6l-1.1 0.5M584.8 265.4l1.4 0.2M565.5 288.2l-1.3 0.1M594.5 258.5l-1.4 0.5M598.2 252.7l0.6 1.3M581.9 274.9l-0.0 0.1M593.9 212.6l-0.7 0.0M568.7 281.0l0.0 0.0M560.8 282.5l-1.3 1.0M608.3 223.7l0.0 0.0M608.8 236.5l0.2 1.7M571.1 287.2l-1.6 0.2M589.4 245.9l-0.1 0.1M656.6 295.2l0.0 0.1M616.2 250.3l-1.3 0.8M588.6 300.9l0.5 0.6M638.4 279.7l0.7 0.7M627.7 264.6l-0.3 0.8M569.0 297.5l0.0 0.0M622.3 269.0l0.3 0.7M624.1 297.9l-0.9 0.4M648.4 250.9l-1.0 1.2M619.7 288.8l0.3 0.5M571.4 222.0l0.9 0.2M638.1 259.7l-1.2 0.8M652.4 237.3l-1.1 1.0M622.7 263.6l-0.2 0.5M611.4 210.9l-0.3 0.6M601.0 268.1l0.4 1.2M628.9 236.6l-1.2 1.1M570.9 238.3l-0.5 0.1M605.4 234.4l0.0 0.1M603.4 209.3l-0.1 0.1M609.8 237.8l1.1 0.8M651.6 299.5l0.7 0.3M575.4 288.4l1.6 0.0M599.5 223.7l1.4 0.9M652.0 253.0l0.5 0.7M628.7 288.0l-0.1 0.0M619.8 273.2l-0.4 0.6M621.3 266.9l0.4 0.3M607.9 258.5l0.1 1.5M580.9 279.8l-0.1 1.5M601.4 300.1l0.3 0.0M622.1 274.0l0.9 0.1M630.4 249.7l1.0 1.2M582.0 211.0l0.4 1.0M565.2 288.1l-0.1 0.3M633.0 241.3l0.2 0.5M565.3 275.6l-0.0 0.2M647.8 279.4l-1.0 0.1M627.6 268.6l1.1 0.2M625.5 277.5l-0.6 0.9M616.9 233.4l0.0 0.5M648.1 287.1l-0.7 0.9M618.7 257.6l-0.4 0.1M644.2 245.2l1.2 0.5M608.1 263.3l0.3 0.4M649.6 251.2l0.1 0.6M592.7 272.9l0.3 0.1M625.8 244.7l-0.0 0.4M573.4 221.1l-0.1 0.2M562.9 276.7l0.1 0.0M606.4 294.0l0.5 0.2M612.2 240.9l-0.9 1.2M589.1 301.0l-0.1 1.6M649.6 237.0l0.0 0.0M653.5 217.5l-0.0 1.3M624.9 269.8l-0.0 0.3M590.4 303.2l-0.4 1.6M618.9 269.1l-0.3 0.2M644.9 271.6l-0.0 0.1M627.4 284.7l-0.6 1.0M575.2 214.1l-0.1 0.3M610.0 258.5l-0.8 1.2M577.1 276.1l-0.4 0.8M600.7 232.2l0.1 0.0M615.7 261.6l-1.1 1.3M587.2 277.0l-0.0 0.5M631.1 250.1l1.1 0.2M649.5 255.9l-1.0 1.3M589.6 218.8l-0.4 0.8M570.4 275.9l0.1 0.5M600.6 276.4l0.5 0.2M592.1 243.5l-0.6 1.2M573.1 276.3l0.5 0.3M642.2 234.5l-0.5 0.2M631.2 250.2l0.5 1.4M583.7 223.3l-1.4 0.7M562.2 243.4l-0.3 0.9M631.8 219.2l-0.1 0.0M614.3 268.8l-0.5 0.7M636.7 265.9l0.4 0.1M607.4 261.4l0.1 0.8M619.6 244.8l0.9 0.3M561.4 279.1l0.8 1.5M613.5 247.1l-1.7 0.1M617.2 262.0l-1.2 0.2M602.5 260.0l-0.1 0.4M629.5 279.6l-0.9 0.3M613.7 261.7l-0.2 0.1M572.2 221.9l1.0 0.6M601.0 282.6l-0.1 1.0M628.2 252.2l0.1 0.5M580.1 280.6l0.3 0.6M597.8 230.1l1.0 1.0M578.7 292.5l0.5 0.9M563.9 210.6l-0.0 0.0M625.9 246.3l-1.0 0.3M608.6 291.2l0.5 0.2M607.5 255.5l-0.1 0.0M568.2 259.8l0.6 0.1M561.7 276.5l-1.2 0.0M577.3 277.7l0.7 1.2M599.8 228.0l-0.1 0.4M637.1 285.8l0.3 0.0M652.5 223.0l-1.6 0.0M629.3 210.6l-0.4 0.0M588.6 275.1l1.6 0.2M624.1 255.9l0.2 0.1M584.2 253.4l-0.2 0.3M602.7 229.2l1.4 0.7M582.3 290.4l-1.2 0.9M580.0 303.9l0.7 1.4M637.3 240.2l-0.4 0.7M617.8 281.9l0.5 1.0M640.6 264.0l-1.5 0.2M627.5 284.2l-0.1 0.5M608.6 249.8l0.4 0.1M598.6 248.3l-0.5 0.7M587.8 282.3l-0.0 1.3M573.1 277.2l0.4 0.2M578.1 210.9l-1.4 0.0M652.1 262.2l-1.3 1.0M647.5 276.0l-0.6 0.1M623.7 296.5l-0.7 0.9M582.1 213.8l-0.1 0.2M586.3 222.1l-1.3 0.2M602.7 215.7l-0.8 0.4M570.9 243.7l1.4 0.7M623.9 294.4l0.4 0.9M560.6 210.9l0.2 0.0M560.5 257.6l-0.3 0.0M581.9 257.0l0.1 0.9M645.3 281.6l0.3 0.2M643.9 265.6l1.1 0.6M575.3 263.5l0.3 0.8M567.4 262.7l1.1 1.3M624.3 286.5l0.3 0.3M570.3 259.9l0.1 0.0M567.8 251.9l0.5 0.8M618.6 266.5l0.2 1.6M587.3 278.6l-1.1 1.3M626.3 239.7l-0.1 0.8M605.4 270.6l-0.2 0.1M564.0 236.7l-0.1 0.5" stroke="#ab96d8" stroke-width="4.8" opacity="0.5" filter="url(#hb)"/>
<g stroke="#5c48b2" opacity="0.72" filter="url(#cb)">
<path d="M619.7 269.0l0.5 0.3M646.9 291.3l-0.0 0.0M621.8 270.7l0.1 0.0M647.9 293.1l-0.5 0.3M609.7 228.3l0.8 0.6M565.5 288.2l-1.3 0.1M568.7 281.0l0.0 0.0M608.3 223.7l0.0 0.0M588.6 300.9l0.5 0.6M627.7 264.6l-0.3 0.8M601.0 268.1l0.4 1.2M599.5 223.7l1.4 0.9M652.0 253.0l0.5 0.7M621.3 266.9l0.4 0.3M607.9 258.5l0.1 1.5M565.3 275.6l-0.0 0.2M625.5 277.5l-0.6 0.9M644.2 245.2l1.2 0.5M590.4 303.2l-0.4 1.6M644.9 271.6l-0.0 0.1M600.7 232.2l0.1 0.0M631.2 250.2l0.5 1.4M614.3 268.8l-0.5 0.7M636.7 265.9l0.4 0.1M580.1 280.6l0.3 0.6M608.6 291.2l0.5 0.2M588.6 275.1l1.6 0.2M637.3 240.2l-0.4 0.7M640.6 264.0l-1.5 0.2M608.6 249.8l0.4 0.1M573.1 277.2l0.4 0.2M647.5 276.0l-0.6 0.1M582.1 213.8l-0.1 0.2M602.7 215.7l-0.8 0.4M560.5 257.6l-0.3 0.0M575.3 263.5l0.3 0.8" stroke-width="1.2"/>
<path d="M617.5 265.6l-0.7 1.1M622.9 272.9l-0.3 0.4M621.3 264.3l0.1 0.1M648.9 287.2l-0.4 1.3M635.9 281.7l1.6 0.3M640.2 284.6l0.4 0.4M631.3 276.5l0.3 0.1M648.9 287.6l-0.0 1.0M617.1 268.5l-0.3 0.4M570.2 286.5l0.0 1.4M600.1 250.2l0.6 1.5M589.5 265.6l-1.1 0.5M584.8 265.4l1.4 0.2M598.2 252.7l0.6 1.3M560.8 282.5l-1.3 1.0M608.8 236.5l0.2 1.7M589.4 245.9l-0.1 0.1M624.1 297.9l-0.9 0.4M619.7 288.8l0.3 0.5M638.1 259.7l-1.2 0.8M622.7 263.6l-0.2 0.5M611.4 210.9l-0.3 0.6M570.9 238.3l-0.5 0.1M605.4 234.4l0.0 0.1M628.7 288.0l-0.1 0.0M601.4 300.1l0.3 0.0M622.1 274.0l0.9 0.1M630.4 249.7l1.0 1.2M565.2 288.1l-0.1 0.3M633.0 241.3l0.2 0.5M618.7 257.6l-0.4 0.1M649.6 251.2l0.1 0.6M562.9 276.7l0.1 0.0M649.6 237.0l0.0 0.0M631.1 250.1l1.1 0.2M589.6 218.8l-0.4 0.8M600.6 276.4l0.5 0.2M573.1 276.3l0.5 0.3M583.7 223.3l-1.4 0.7M617.2 262.0l-1.2 0.2M613.7 261.7l-0.2 0.1M628.2 252.2l0.1 0.5M597.8 230.1l1.0 1.0M563.9 210.6l-0.0 0.0M607.5 255.5l-0.1 0.0M568.2 259.8l0.6 0.1M652.5 223.0l-1.6 0.0M584.2 253.4l-0.2 0.3M587.8 282.3l-0.0 1.3M652.1 262.2l-1.3 1.0M623.7 296.5l-0.7 0.9M560.6 210.9l0.2 0.0M643.9 265.6l1.1 0.6M567.4 262.7l1.1 1.3M570.3 259.9l0.1 0.0M626.3 239.7l-0.1 0.8M605.4 270.6l-0.2 0.1M564.0 236.7l-0.1 0.5" stroke-width="1.7"/>
<path d="M650.0 292.2l-0.2 0.0M640.4 282.8l0.3 0.1M654.2 293.4l-0.6 1.3M649.6 285.6l0.3 1.5M621.1 269.3l-0.2 0.1M630.8 275.2l0.8 0.3M651.5 291.4l-0.1 0.9M608.3 223.2l0.0 0.0M615.8 248.7l0.3 1.0M611.3 239.5l0.6 0.3M605.7 223.9l-1.3 0.6M610.1 235.9l-1.0 0.5M604.5 218.6l-0.9 0.4M608.0 232.6l1.2 0.0M581.9 274.9l-0.0 0.1M593.9 212.6l-0.7 0.0M656.6 295.2l0.0 0.1M616.2 250.3l-1.3 0.8M569.0 297.5l0.0 0.0M648.4 250.9l-1.0 1.2M652.4 237.3l-1.1 1.0M628.9 236.6l-1.2 1.1M603.4 209.3l-0.1 0.1M651.6 299.5l0.7 0.3M575.4 288.4l1.6 0.0M627.6 268.6l1.1 0.2M648.1 287.1l-0.7 0.9M608.1 263.3l0.3 0.4M592.7 272.9l0.3 0.1M625.8 244.7l-0.0 0.4M573.4 221.1l-0.1 0.2M612.2 240.9l-0.9 1.2M589.1 301.0l-0.1 1.6M653.5 217.5l-0.0 1.3M624.9 269.8l-0.0 0.3M627.4 284.7l-0.6 1.0M575.2 214.1l-0.1 0.3M577.1 276.1l-0.4 0.8M615.7 261.6l-1.1 1.3M587.2 277.0l-0.0 0.5M649.5 255.9l-1.0 1.3M642.2 234.5l-0.5 0.2M562.2 243.4l-0.3 0.9M631.8 219.2l-0.1 0.0M619.6 244.8l0.9 0.3M561.4 279.1l0.8 1.5M602.5 260.0l-0.1 0.4M629.5 279.6l-0.9 0.3M601.0 282.6l-0.1 1.0M625.9 246.3l-1.0 0.3M561.7 276.5l-1.2 0.0M599.8 228.0l-0.1 0.4M637.1 285.8l0.3 0.0M624.1 255.9l0.2 0.1M602.7 229.2l1.4 0.7M617.8 281.9l0.5 1.0M627.5 284.2l-0.1 0.5M578.1 210.9l-1.4 0.0M586.3 222.1l-1.3 0.2M570.9 243.7l1.4 0.7M623.9 294.4l0.4 0.9M581.9 257.0l0.1 0.9M645.3 281.6l0.3 0.2M624.3 286.5l0.3 0.3M567.8 251.9l0.5 0.8M618.6 266.5l0.2 1.6" stroke-width="2.2"/>
<path d="M623.2 268.1l1.4 0.0M631.2 277.1l1.1 0.5M618.0 264.4l-0.3 0.6M623.2 270.6l0.4 0.4M652.0 296.4l0.2 0.5M654.0 294.3l0.2 0.7M614.3 247.6l-0.3 0.1M611.9 239.5l0.5 1.4M594.5 258.5l-1.4 0.5M571.1 287.2l-1.6 0.2M638.4 279.7l0.7 0.7M622.3 269.0l0.3 0.7M571.4 222.0l0.9 0.2M609.8 237.8l1.1 0.8M619.8 273.2l-0.4 0.6M580.9 279.8l-0.1 1.5M582.0 211.0l0.4 1.0M647.8 279.4l-1.0 0.1M616.9 233.4l0.0 0.5M606.4 294.0l0.5 0.2M618.9 269.1l-0.3 0.2M610.0 258.5l-0.8 1.2M570.4 275.9l0.1 0.5M592.1 243.5l-0.6 1.2M607.4 261.4l0.1 0.8M613.5 247.1l-1.7 0.1M572.2 221.9l1.0 0.6M578.7 292.5l0.5 0.9M577.3 277.7l0.7 1.2M629.3 210.6l-0.4 0.0M582.3 290.4l-1.2 0.9M580.0 303.9l0.7 1.4M598.6 248.3l-0.5 0.7M587.3 278.6l-1.1 1.3" stroke-width="2.8"/>
</g>
<path d="M567.9 215.4h0M608.6 267.3h0M588.5 234.1h0M649.6 238.5h0M610.1 278.9h0M609.5 223.8h0M564.9 282.5h0M595.1 217.6h0M613.7 248.1h0M588.0 280.5h0M596.3 257.5h0M596.8 303.6h0M569.5 236.3h0M634.8 266.5h0M602.3 263.0h0M602.4 303.7h0M640.7 265.9h0M619.9 225.8h0M566.7 275.4h0M654.0 223.5h0M576.7 282.3h0M565.4 213.6h0M650.9 251.9h0M592.4 245.4h0M644.6 299.8h0M598.3 287.5h0M576.5 291.5h0M597.2 291.6h0M571.3 269.6h0M568.4 273.8h0M601.4 246.6h0M616.8 230.4h0M601.5 291.5h0M571.2 289.6h0M588.8 212.6h0M608.3 267.3h0M567.3 267.3h0M562.6 226.5h0M596.4 272.2h0M648.0 289.5h0M597.2 254.7h0M592.0 301.8h0M649.1 274.9h0M602.5 284.9h0M616.3 220.6h0M625.1 291.1h0M643.4 302.7h0M632.2 284.0h0M641.9 213.9h0M622.6 246.7h0M616.7 219.2h0M644.7 252.4h0M609.6 256.6h0M600.0 264.9h0M610.4 282.7h0M583.3 286.1h0M591.4 241.6h0M653.1 257.1h0M607.4 290.3h0M616.5 266.6h0M581.6 290.5h0M655.9 254.4h0M605.1 234.4h0M591.3 296.0h0M573.5 258.9h0M637.4 234.3h0M569.4 296.6h0M602.6 268.4h0M610.9 287.3h0M651.1 245.9h0M573.6 266.0h0M606.8 263.3h0M606.5 234.9h0M638.1 236.0h0M567.2 291.0h0M636.0 230.3h0M602.8 270.4h0M603.7 301.9h0M569.9 230.5h0M569.7 232.9h0M652.3 231.5h0M595.9 223.5h0M560.4 243.8h0M622.4 285.7h0M634.1 242.0h0M627.1 247.5h0M580.5 257.2h0M578.2 230.0h0M613.9 277.8h0M594.5 210.4h0M580.6 266.4h0M563.2 224.1h0M625.3 224.0h0M572.7 238.5h0M623.4 224.2h0M573.5 261.1h0M651.7 284.4h0M598.9 211.9h0M594.0 290.2h0M587.1 283.2h0M599.8 227.4h0M595.9 289.4h0M616.5 224.0h0M623.4 252.3h0M595.5 223.2h0M653.5 235.2h0M586.6 274.8h0M626.9 269.6h0M560.4 260.6h0M631.5 240.5h0M649.2 293.8h0M576.7 223.5h0M621.5 237.5h0M570.3 222.8h0M560.8 225.0h0M588.0 236.4h0M630.3 235.4h0M646.5 297.1h0M563.3 269.9h0M605.5 243.4h0M617.0 283.8h0M628.9 233.9h0M638.8 226.7h0M566.1 262.4h0M602.1 238.9h0M588.2 272.9h0M600.2 216.6h0M589.0 251.6h0M649.4 219.9h0M593.0 239.1h0M590.9 254.5h0M638.8 254.4h0M613.1 230.4h0M561.9 301.3h0M616.2 209.5h0" stroke="#8d7cb6" stroke-width="0.9" opacity="0.45"/>
</g>
<text x="415.5" y="197.5" font-size="10.4" text-anchor="middle" fill="#222" textLength="35.5" lengthAdjust="spacingAndGlyphs" stroke="#222" stroke-width="0.14">Control</text>
<text x="415.5" y="206.3" font-size="10.4" text-anchor="middle" fill="#222" textLength="68.5" lengthAdjust="spacingAndGlyphs" stroke="#222" stroke-width="0.14">migrated cells</text>
<path d="M378.2 199.7Q375.6 203.0 378.2 206.3M452.0 199.7Q454.6 203.0 452.0 206.3" stroke="#333" stroke-width="0.75" fill="none"/>
<text x="511.5" y="197.5" font-size="10.4" text-anchor="middle" fill="#222" textLength="55.0" lengthAdjust="spacingAndGlyphs" stroke="#222" stroke-width="0.14">Sparc-KD1</text>
<text x="511.5" y="206.3" font-size="10.4" text-anchor="middle" fill="#222" textLength="68.5" lengthAdjust="spacingAndGlyphs" stroke="#222" stroke-width="0.14">migrated cells</text>
<path d="M474.2 199.7Q471.6 203.0 474.2 206.3M548.0 199.7Q550.6 203.0 548.0 206.3" stroke="#333" stroke-width="0.75" fill="none"/>
<text x="608.0" y="197.5" font-size="10.4" text-anchor="middle" fill="#222" textLength="55.0" lengthAdjust="spacingAndGlyphs" stroke="#222" stroke-width="0.14">Sparc-KD2</text>
<text x="608.0" y="206.3" font-size="10.4" text-anchor="middle" fill="#222" textLength="68.5" lengthAdjust="spacingAndGlyphs" stroke="#222" stroke-width="0.14">migrated cells</text>
<path d="M570.7 199.7Q568.1 203.0 570.7 206.3M644.5 199.7Q647.1 203.0 644.5 206.3" stroke="#333" stroke-width="0.75" fill="none"/>
<text x="360.2" y="256.2" font-size="10.6" text-anchor="middle" fill="#222" textLength="13.6" lengthAdjust="spacingAndGlyphs" stroke="#222" stroke-width="0.14" transform="rotate(-90 360.2 252.4)">OL</text>
<path d="M67.3 387.0V381.5M59.5 381.5H75.2" stroke="#2f3368" stroke-width="1.4" fill="none"/>
<rect x="51.0" y="386.0" width="32.7" height="55.9" fill="#2f3368" />
<path d="M114.5 366.9V361.0M106.5 361.0H122.4" stroke="#e9282b" stroke-width="1.4" fill="none"/>
<rect x="97.9" y="365.9" width="33.1" height="76.0" fill="#e9282b" />
<path d="M162.4 372.0V363.9M154.6 363.9H170.2" stroke="#8c2329" stroke-width="1.4" fill="none"/>
<rect x="146.1" y="371.0" width="32.6" height="70.9" fill="#8c2329" />
<path d="M35.3 329.7V441.9H193.8" stroke="#111" stroke-width="1.65" fill="none"/>
<path d="M30.8 330.4H35.3" stroke="#111" stroke-width="1.5" fill="none"/>
<text x="31.2" y="333.7" font-size="9.2" text-anchor="end" fill="#222" textLength="11.8" lengthAdjust="spacingAndGlyphs" stroke="#222" stroke-width="0.14">2.0</text>
<path d="M30.8 358.3H35.3" stroke="#111" stroke-width="1.5" fill="none"/>
<text x="31.2" y="361.6" font-size="9.2" text-anchor="end" fill="#222" textLength="11.8" lengthAdjust="spacingAndGlyphs" stroke="#222" stroke-width="0.14">1.5</text>
<path d="M30.8 386.1H35.3" stroke="#111" stroke-width="1.5" fill="none"/>
<text x="31.2" y="389.5" font-size="9.2" text-anchor="end" fill="#222" textLength="11.8" lengthAdjust="spacingAndGlyphs" stroke="#222" stroke-width="0.14">1.0</text>
<path d="M30.8 414.0H35.3" stroke="#111" stroke-width="1.5" fill="none"/>
<text x="31.2" y="417.3" font-size="9.2" text-anchor="end" fill="#222" textLength="11.8" lengthAdjust="spacingAndGlyphs" stroke="#222" stroke-width="0.14">0.5</text>
<path d="M30.8 441.9H35.3" stroke="#111" stroke-width="1.5" fill="none"/>
<text x="31.2" y="445.2" font-size="9.2" text-anchor="end" fill="#222" textLength="11.8" lengthAdjust="spacingAndGlyphs" stroke="#222" stroke-width="0.14">0.0</text>
<path d="M67.3 441.9V445.7" stroke="#111" stroke-width="1.5" fill="none"/>
<path d="M114.5 441.9V445.7" stroke="#111" stroke-width="1.5" fill="none"/>
<path d="M162.4 441.9V445.7" stroke="#111" stroke-width="1.5" fill="none"/>
<text x="15.6" y="389.1" font-size="8.6" text-anchor="middle" fill="#222" textLength="100.0" lengthAdjust="spacingAndGlyphs" stroke="#222" stroke-width="0.14" transform="rotate(-90 15.6 386.0)">Relative number of migrated cells</text>
<path d="M67.2 379.5V336.4H162.3V362.5" stroke="#111" stroke-width="1.1" fill="none"/>
<path d="M67.2 349.7H114.3V359.6" stroke="#111" stroke-width="1.1" fill="none"/>
<path d="M113.4 330.4l0.00 -2.70M113.4 330.4l2.57 -0.83M113.4 330.4l1.59 2.18M113.4 330.4l-1.59 2.18M113.4 330.4l-2.57 -0.83M119.2 330.4l0.00 -2.70M119.2 330.4l2.57 -0.83M119.2 330.4l1.59 2.18M119.2 330.4l-1.59 2.18M119.2 330.4l-2.57 -0.83M125.0 330.4l0.00 -2.70M125.0 330.4l2.57 -0.83M125.0 330.4l1.59 2.18M125.0 330.4l-1.59 2.18M125.0 330.4l-2.57 -0.83" stroke="#1a1a1a" stroke-width="1.05" fill="none"/>
<path d="M88.9 346.0l0.00 -2.70M88.9 346.0l2.57 -0.83M88.9 346.0l1.59 2.18M88.9 346.0l-1.59 2.18M88.9 346.0l-2.57 -0.83M94.6 346.0l0.00 -2.70M94.6 346.0l2.57 -0.83M94.6 346.0l1.59 2.18M94.6 346.0l-1.59 2.18M94.6 346.0l-2.57 -0.83M100.3 346.0l0.00 -2.70M100.3 346.0l2.57 -0.83M100.3 346.0l1.59 2.18M100.3 346.0l-1.59 2.18M100.3 346.0l-2.57 -0.83" stroke="#1a1a1a" stroke-width="1.05" fill="none"/>
<text x="117.0" y="321.6" font-size="10.3" text-anchor="middle" fill="#1a1a1a" textLength="14.0" lengthAdjust="spacingAndGlyphs" stroke="#1a1a1a" stroke-width="0.14">OL</text>
<text x="63.5" y="455.0" font-size="8.8" text-anchor="middle" fill="#1a1a1a" textLength="42.0" lengthAdjust="spacingAndGlyphs" stroke="#1a1a1a" stroke-width="0.14">Control</text>
<text x="114.8" y="455.0" font-size="8.8" text-anchor="middle" fill="#1a1a1a" textLength="22.7" lengthAdjust="spacingAndGlyphs" stroke="#1a1a1a" stroke-width="0.14">KD1</text>
<text x="167.0" y="455.0" font-size="8.8" text-anchor="middle" fill="#1a1a1a" textLength="24.7" lengthAdjust="spacingAndGlyphs" stroke="#1a1a1a" stroke-width="0.14">KD2</text>
<text x="211.9" y="328.2" font-size="13.2" text-anchor="middle" fill="#1a1a1a" textLength="6.5" lengthAdjust="spacingAndGlyphs" stroke="#1a1a1a" stroke-width="0.14">E</text>
<clipPath id="tc4"><rect x="211.6" y="354.0" width="95.2" height="95.0"/></clipPath>
<rect x="211.6" y="354.0" width="95.2" height="95.0" fill="#c6b8b5" />
<g clip-path="url(#tc4)" fill="none" stroke-linecap="round">
<path d="M227.3 419.5l-0.0 0.2M257.2 374.5l-0.3 0.8M288.5 402.7l0.1 1.3M234.1 354.3l1.5 0.8M267.3 360.6l0.2 0.3M233.7 376.1l0.8 0.6M234.1 373.5l0.9 1.4M302.7 405.3l-1.6 0.2M273.4 443.1l0.6 0.6M261.4 378.7l0.2 0.4M264.2 386.6l0.2 0.8M229.4 357.5l-0.6 1.0M234.0 428.1l0.4 0.5M303.8 438.9l1.3 1.0M284.2 409.2l-1.3 0.3M223.3 399.3l0.6 0.1M230.7 441.7l-0.0 0.1M250.6 388.7l-0.8 0.0M248.3 448.5l-0.3 0.0M214.2 362.9l-0.7 0.3M306.1 401.1l-0.1 0.3M264.0 425.1l0.9 0.1M269.6 406.9l-0.7 0.3M228.8 370.2l-0.3 0.2M299.9 386.9l-1.5 0.6M240.8 363.8l1.1 0.3M234.1 373.6l-1.1 1.1M275.9 439.4l0.3 0.1M250.3 448.0l-0.4 1.0M267.8 437.9l-0.6 1.0M247.4 377.5l0.2 0.4M227.1 360.6l1.1 0.0M285.3 399.9l0.9 0.6M216.6 378.5l1.0 0.6M251.5 370.2l0.5 0.3M263.1 423.9l-0.5 0.7M248.7 377.9l0.7 0.1M298.4 399.5l-0.2 1.6M297.2 388.7l0.3 0.2M226.6 368.5l0.4 0.6M292.5 383.3l0.4 0.0M237.9 427.0l-0.4 0.9M273.9 442.9l-0.2 0.2M272.9 434.9l-0.7 0.3M236.1 392.5l-1.3 0.4M297.8 366.7l-0.1 0.1M235.5 376.9l-0.2 1.5M218.4 365.3l0.6 1.6M240.5 443.5l-1.3 1.0M296.1 413.0l1.3 0.8M301.1 391.0l-0.7 0.7M269.1 402.0l1.1 0.7M217.0 442.3l0.2 0.8M293.9 391.8l-0.3 1.7M292.9 376.2l-1.2 0.5M269.2 424.9l1.1 1.1M226.5 423.0l-0.0 0.3M289.4 430.3l-1.0 0.0M266.1 405.8l-1.2 1.1M296.6 382.0l-0.9 0.9M278.2 403.9l-0.1 1.6M217.7 431.4l0.4 0.2M245.4 384.2l-0.3 0.7M221.8 361.2l-0.6 1.1M283.1 430.1l-0.3 0.2M278.8 398.7l0.6 0.6M295.0 360.7l1.2 0.9M271.2 425.4l-0.8 0.6M250.1 394.6l0.2 0.2M249.6 385.1l0.2 0.6M298.7 416.2l-1.2 0.5M265.4 407.1l-1.0 0.0M285.8 413.5l-0.8 0.3M275.2 435.6l0.1 1.4M276.6 377.3l-0.0 0.0M248.3 412.4l0.1 0.8M303.3 448.0l0.2 0.9M294.0 388.3l-1.1 0.5" stroke="#a893c6" stroke-width="4.8" opacity="0.5" filter="url(#hb)"/>
<g stroke="#5a4299" opacity="0.72" filter="url(#cb)">
<path d="M257.2 374.5l-0.3 0.8M234.1 354.3l1.5 0.8M234.1 373.5l0.9 1.4M240.8 363.8l1.1 0.3M285.3 399.9l0.9 0.6M216.6 378.5l1.0 0.6M218.4 365.3l0.6 1.6M296.1 413.0l1.3 0.8M298.7 416.2l-1.2 0.5M276.6 377.3l-0.0 0.0" stroke-width="1.2"/>
<path d="M302.7 405.3l-1.6 0.2M303.8 438.9l1.3 1.0M284.2 409.2l-1.3 0.3M214.2 362.9l-0.7 0.3M306.1 401.1l-0.1 0.3M269.6 406.9l-0.7 0.3M228.8 370.2l-0.3 0.2M247.4 377.5l0.2 0.4M227.1 360.6l1.1 0.0M251.5 370.2l0.5 0.3M298.4 399.5l-0.2 1.6M292.5 383.3l0.4 0.0M237.9 427.0l-0.4 0.9M301.1 391.0l-0.7 0.7M293.9 391.8l-0.3 1.7M269.2 424.9l1.1 1.1M289.4 430.3l-1.0 0.0M278.2 403.9l-0.1 1.6M283.1 430.1l-0.3 0.2M278.8 398.7l0.6 0.6M271.2 425.4l-0.8 0.6M249.6 385.1l0.2 0.6M265.4 407.1l-1.0 0.0M285.8 413.5l-0.8 0.3M248.3 412.4l0.1 0.8" stroke-width="1.7"/>
<path d="M288.5 402.7l0.1 1.3M267.3 360.6l0.2 0.3M264.2 386.6l0.2 0.8M229.4 357.5l-0.6 1.0M230.7 441.7l-0.0 0.1M248.3 448.5l-0.3 0.0M264.0 425.1l0.9 0.1M299.9 386.9l-1.5 0.6M234.1 373.6l-1.1 1.1M250.3 448.0l-0.4 1.0M267.8 437.9l-0.6 1.0M263.1 423.9l-0.5 0.7M297.2 388.7l0.3 0.2M226.6 368.5l0.4 0.6M272.9 434.9l-0.7 0.3M236.1 392.5l-1.3 0.4M240.5 443.5l-1.3 1.0M217.0 442.3l0.2 0.8M292.9 376.2l-1.2 0.5M226.5 423.0l-0.0 0.3M266.1 405.8l-1.2 1.1M217.7 431.4l0.4 0.2M221.8 361.2l-0.6 1.1M295.0 360.7l1.2 0.9M275.2 435.6l0.1 1.4M303.3 448.0l0.2 0.9" stroke-width="2.2"/>
<path d="M227.3 419.5l-0.0 0.2M233.7 376.1l0.8 0.6M273.4 443.1l0.6 0.6M261.4 378.7l0.2 0.4M234.0 428.1l0.4 0.5M223.3 399.3l0.6 0.1M250.6 388.7l-0.8 0.0M275.9 439.4l0.3 0.1M248.7 377.9l0.7 0.1M273.9 442.9l-0.2 0.2M297.8 366.7l-0.1 0.1M235.5 376.9l-0.2 1.5M269.1 402.0l1.1 0.7M296.6 382.0l-0.9 0.9M245.4 384.2l-0.3 0.7M250.1 394.6l0.2 0.2M294.0 388.3l-1.1 0.5" stroke-width="2.8"/>
</g>
<path d="M283.1 389.6h0M235.4 428.3h0M287.1 442.2h0M230.5 434.5h0M296.4 361.3h0M240.9 414.2h0M225.5 433.0h0M236.8 418.8h0M239.8 374.7h0M231.3 401.3h0M279.5 374.7h0M276.9 385.8h0M273.4 389.0h0M230.0 367.4h0M217.1 420.2h0M251.0 365.7h0M295.4 416.2h0M213.6 422.9h0M268.2 396.2h0M259.3 445.4h0M247.2 414.4h0M272.1 388.7h0M244.6 425.7h0M272.1 397.4h0M260.5 375.2h0M286.8 355.9h0M272.8 397.2h0M232.7 409.7h0M267.1 362.2h0M258.3 369.7h0M287.7 385.1h0M242.9 374.5h0M216.2 371.7h0M226.0 413.3h0M292.3 375.0h0M222.2 404.8h0M222.6 392.5h0M284.0 373.3h0M278.2 405.2h0M219.7 377.0h0M268.7 363.1h0M231.0 408.8h0M289.5 403.4h0M274.8 354.9h0M240.4 384.2h0M298.6 388.0h0M286.3 357.3h0M259.0 438.7h0M285.0 409.1h0M228.9 442.0h0M219.2 445.6h0M285.5 422.4h0M262.1 369.6h0M244.0 417.1h0M274.0 391.0h0M287.9 359.1h0M238.9 362.6h0M242.5 429.3h0M283.3 368.2h0M241.0 364.7h0M274.6 396.0h0M233.6 389.5h0M294.0 394.4h0M277.4 413.6h0M256.7 406.9h0M246.2 372.8h0M258.7 382.9h0M243.0 371.7h0M298.6 394.4h0M230.7 357.0h0" stroke="#8d7cb6" stroke-width="0.9" opacity="0.45"/>
</g>
<clipPath id="tc5"><rect x="308.2" y="354.0" width="95.1" height="95.0"/></clipPath>
<rect x="308.2" y="354.0" width="95.1" height="95.0" fill="#c5b7b6" />
<g clip-path="url(#tc5)" fill="none" stroke-linecap="round">
<path d="M399.3 367.3l-0.8 0.3M399.9 368.5l0.6 0.1M341.1 438.5l-1.6 0.4M399.4 384.3l0.3 1.1M396.8 419.1l-0.9 0.5M375.5 358.6l0.3 0.1M364.3 383.5l1.2 0.7M366.7 385.6l1.6 0.6M401.7 444.3l0.8 1.2M374.0 357.3l0.7 0.4M337.9 428.2l1.4 1.0M370.1 367.5l-1.0 0.8M371.7 371.6l-0.2 0.4M403.9 442.7l0.5 1.1M335.2 437.8l-0.9 0.1M396.1 371.6l0.1 0.3M346.0 356.4l-1.0 0.9M361.6 404.1l1.3 0.0M393.7 394.6l-0.8 0.3M333.5 440.0l0.3 0.2M396.6 444.5l-0.5 0.2M346.3 363.2l0.1 0.2M324.5 405.9l-1.1 0.2M339.4 387.9l0.2 0.2M401.1 369.1l-0.5 1.2M378.5 416.3l-0.5 0.5M360.1 386.1l0.2 0.1M352.0 434.4l-1.6 0.4M358.0 409.5l-0.4 0.5M378.9 398.9l-0.5 0.9M369.4 387.6l-0.6 0.2M386.2 411.8l1.0 0.4M309.9 401.5l-0.4 0.1M340.6 370.3l0.4 0.1M349.5 379.6l0.9 1.1M370.9 372.6l-0.5 0.5M332.4 436.3l1.3 0.1M361.6 400.6l0.1 1.3M346.5 365.2l-0.4 0.6M358.1 371.1l1.1 0.7M388.2 413.3l0.1 0.0M379.9 414.3l0.2 1.3M358.2 386.5l0.4 0.8M333.5 360.2l0.2 0.4M323.2 438.5l0.1 0.0M313.6 401.4l0.0 0.0M312.2 400.2l0.6 0.2M400.4 372.0l-0.0 0.9M371.1 396.1l0.0 0.2M342.0 378.6l0.5 0.5M373.7 420.8l0.1 0.1M318.4 434.4l-1.0 0.7M367.3 415.5l0.4 0.4M388.5 379.0l-1.2 0.2M358.2 387.1l-1.3 0.1M355.3 401.5l0.9 1.1M350.5 382.0l-1.3 1.0M380.6 390.7l0.8 0.5M326.7 369.4l0.1 0.1M400.7 369.8l1.0 0.9M389.1 372.7l-0.9 0.6M398.8 354.1l0.1 1.4M381.1 364.8l0.2 1.6M313.1 414.1l1.5 0.6M403.5 443.3l-1.1 0.2M337.9 440.7l0.2 1.0M358.2 406.2l-0.5 1.6M372.5 429.3l0.5 1.6M380.1 395.4l0.5 1.2M335.0 376.7l-1.2 0.2M388.0 413.9l1.4 0.5M318.0 396.3l0.6 1.1M324.9 399.3l-1.4 0.5M341.9 431.3l0.7 0.9M359.7 437.4l0.0 0.0M343.8 357.8l0.8 0.1M357.1 374.7l0.7 1.5M369.4 384.3l0.9 0.1M332.7 377.2l-0.0 0.0M313.4 396.9l-1.2 1.2M314.8 386.3l-0.3 1.1M395.2 409.4l-0.2 0.8M368.2 358.6l0.8 1.2M385.0 417.7l-0.6 0.1M335.4 355.0l0.1 0.0M335.9 436.4l1.1 0.8M321.2 399.9l-0.0 0.3M310.2 441.5l-0.1 0.4M337.0 376.7l0.3 0.4M396.9 386.0l-0.2 1.3M361.2 370.6l0.4 0.5M395.5 406.9l0.4 0.5M333.1 436.5l1.6 0.2M329.6 404.3l-0.4 1.1M362.7 411.2l-0.4 1.5M360.9 387.7l0.8 1.5M343.6 447.0l-0.1 1.3M329.9 393.5l0.9 0.4M364.8 413.7l0.6 0.5M370.1 364.3l-0.2 0.1M356.6 441.2l-0.0 0.2M317.9 402.0l-0.3 1.2M309.4 369.7l0.2 0.0M340.1 399.9l1.1 1.2M357.7 375.7l-1.4 0.9M353.5 370.7l0.3 0.4M401.5 439.9l0.7 1.2M339.2 428.5l0.9 1.0M388.8 424.7l0.2 0.6M366.6 388.5l-0.1 1.5M366.8 427.8l1.2 0.4M340.1 394.9l-0.5 1.2M330.2 430.3l1.0 0.7M312.2 386.6l0.2 0.1M322.1 440.0l-1.1 0.3" stroke="#a893c6" stroke-width="4.8" opacity="0.5" filter="url(#hb)"/>
<g stroke="#5a4299" opacity="0.72" filter="url(#cb)">
<path d="M337.9 428.2l1.4 1.0M335.2 437.8l-0.9 0.1M346.0 356.4l-1.0 0.9M324.5 405.9l-1.1 0.2M370.9 372.6l-0.5 0.5M332.4 436.3l1.3 0.1M379.9 414.3l0.2 1.3M335.0 376.7l-1.2 0.2M318.0 396.3l0.6 1.1M369.4 384.3l0.9 0.1M332.7 377.2l-0.0 0.0M368.2 358.6l0.8 1.2M329.9 393.5l0.9 0.4M370.1 364.3l-0.2 0.1M356.6 441.2l-0.0 0.2M357.7 375.7l-1.4 0.9M388.8 424.7l0.2 0.6M366.6 388.5l-0.1 1.5" stroke-width="1.2"/>
<path d="M396.8 419.1l-0.9 0.5M366.7 385.6l1.6 0.6M374.0 357.3l0.7 0.4M403.9 442.7l0.5 1.1M396.1 371.6l0.1 0.3M361.6 404.1l1.3 0.0M401.1 369.1l-0.5 1.2M360.1 386.1l0.2 0.1M352.0 434.4l-1.6 0.4M378.9 398.9l-0.5 0.9M386.2 411.8l1.0 0.4M309.9 401.5l-0.4 0.1M388.2 413.3l0.1 0.0M333.5 360.2l0.2 0.4M371.1 396.1l0.0 0.2M342.0 378.6l0.5 0.5M373.7 420.8l0.1 0.1M388.5 379.0l-1.2 0.2M358.2 387.1l-1.3 0.1M355.3 401.5l0.9 1.1M350.5 382.0l-1.3 1.0M400.7 369.8l1.0 0.9M313.1 414.1l1.5 0.6M403.5 443.3l-1.1 0.2M358.2 406.2l-0.5 1.6M380.1 395.4l0.5 1.2M343.8 357.8l0.8 0.1M357.1 374.7l0.7 1.5M395.2 409.4l-0.2 0.8M337.0 376.7l0.3 0.4M396.9 386.0l-0.2 1.3M361.2 370.6l0.4 0.5M333.1 436.5l1.6 0.2M329.6 404.3l-0.4 1.1M360.9 387.7l0.8 1.5M309.4 369.7l0.2 0.0M340.1 399.9l1.1 1.2M339.2 428.5l0.9 1.0M340.1 394.9l-0.5 1.2M330.2 430.3l1.0 0.7" stroke-width="1.7"/>
<path d="M399.3 367.3l-0.8 0.3M341.1 438.5l-1.6 0.4M399.4 384.3l0.3 1.1M375.5 358.6l0.3 0.1M364.3 383.5l1.2 0.7M401.7 444.3l0.8 1.2M370.1 367.5l-1.0 0.8M393.7 394.6l-0.8 0.3M333.5 440.0l0.3 0.2M346.3 363.2l0.1 0.2M339.4 387.9l0.2 0.2M349.5 379.6l0.9 1.1M346.5 365.2l-0.4 0.6M358.1 371.1l1.1 0.7M358.2 386.5l0.4 0.8M312.2 400.2l0.6 0.2M400.4 372.0l-0.0 0.9M318.4 434.4l-1.0 0.7M367.3 415.5l0.4 0.4M380.6 390.7l0.8 0.5M389.1 372.7l-0.9 0.6M398.8 354.1l0.1 1.4M381.1 364.8l0.2 1.6M337.9 440.7l0.2 1.0M372.5 429.3l0.5 1.6M341.9 431.3l0.7 0.9M359.7 437.4l0.0 0.0M313.4 396.9l-1.2 1.2M314.8 386.3l-0.3 1.1M385.0 417.7l-0.6 0.1M321.2 399.9l-0.0 0.3M395.5 406.9l0.4 0.5M364.8 413.7l0.6 0.5M317.9 402.0l-0.3 1.2M353.5 370.7l0.3 0.4M401.5 439.9l0.7 1.2M366.8 427.8l1.2 0.4M322.1 440.0l-1.1 0.3" stroke-width="2.2"/>
<path d="M399.9 368.5l0.6 0.1M371.7 371.6l-0.2 0.4M396.6 444.5l-0.5 0.2M378.5 416.3l-0.5 0.5M358.0 409.5l-0.4 0.5M369.4 387.6l-0.6 0.2M340.6 370.3l0.4 0.1M361.6 400.6l0.1 1.3M323.2 438.5l0.1 0.0M313.6 401.4l0.0 0.0M326.7 369.4l0.1 0.1M388.0 413.9l1.4 0.5M324.9 399.3l-1.4 0.5M335.4 355.0l0.1 0.0M335.9 436.4l1.1 0.8M310.2 441.5l-0.1 0.4M362.7 411.2l-0.4 1.5M343.6 447.0l-0.1 1.3M312.2 386.6l0.2 0.1" stroke-width="2.8"/>
</g>
<path d="M401.0 373.9h0M353.8 358.3h0M402.0 364.1h0M348.7 412.6h0M349.0 370.3h0M356.0 375.2h0M354.8 421.9h0M336.6 396.4h0M368.3 404.5h0M384.4 438.7h0M400.2 369.7h0M354.1 365.2h0M374.6 391.6h0M389.0 399.9h0M384.1 356.9h0M366.5 393.3h0M387.4 363.8h0M316.7 419.3h0M339.2 395.3h0M346.6 447.6h0M367.5 433.1h0M388.0 435.5h0M350.7 381.6h0M357.2 439.0h0M392.2 399.4h0M394.4 426.4h0M312.0 414.2h0M383.7 358.1h0M344.1 415.3h0M356.4 404.3h0M316.8 378.9h0M390.8 387.2h0M353.8 410.1h0M335.1 393.4h0M356.3 436.5h0M388.3 370.8h0M356.1 425.4h0M393.5 404.4h0M368.3 415.3h0M371.7 438.9h0M401.9 448.2h0M320.0 422.1h0M345.1 380.6h0M317.7 440.5h0M393.2 404.2h0M355.5 373.5h0M396.4 425.9h0M324.1 408.5h0M402.9 379.0h0M343.7 388.5h0M343.6 365.2h0M367.9 377.3h0M372.9 398.5h0M388.4 424.9h0M389.8 368.7h0M383.8 427.6h0M336.0 354.1h0M317.6 427.4h0M400.3 360.4h0M331.3 392.2h0M314.7 414.9h0M389.8 434.0h0M325.2 440.5h0M382.9 368.8h0M389.4 442.4h0M391.8 425.4h0M385.9 404.8h0M309.0 418.5h0M355.7 368.1h0M320.9 438.1h0M394.2 358.9h0M310.0 420.3h0M335.9 436.6h0M352.2 421.7h0M312.6 427.8h0M327.2 394.8h0M354.4 384.9h0M331.3 396.5h0M313.1 369.0h0M320.6 435.1h0M337.9 447.5h0M393.8 369.7h0M389.6 447.8h0M350.3 399.9h0M372.3 400.6h0M333.2 423.6h0M329.1 390.5h0M310.4 384.8h0M384.9 367.1h0M326.3 391.6h0M336.5 354.6h0M313.4 373.1h0M383.6 427.8h0M384.9 420.0h0M403.1 378.5h0M375.5 396.7h0M399.5 396.1h0M377.0 427.7h0M399.9 426.7h0M339.3 415.7h0M384.0 443.3h0M331.7 423.4h0M376.8 369.0h0" stroke="#8d7cb6" stroke-width="0.9" opacity="0.45"/>
</g>
<clipPath id="tc6"><rect x="405.4" y="354.0" width="97.8" height="95.0"/></clipPath>
<rect x="405.4" y="354.0" width="97.8" height="95.0" fill="#c7b9b6" />
<g clip-path="url(#tc6)" fill="none" stroke-linecap="round">
<path d="M495.9 444.1l-0.3 0.2M413.6 410.2l0.2 0.1M457.2 366.4l1.1 0.4M417.2 410.6l1.0 0.7M415.8 447.2l-0.1 0.9M407.3 413.6l-1.0 0.3M480.8 373.5l1.0 1.1M455.3 363.3l-0.0 0.2M440.9 426.2l0.0 0.2M461.3 416.8l-0.0 0.3M413.8 399.0l1.2 0.4M463.2 396.5l-0.1 0.2M423.2 371.0l0.7 0.4M485.2 372.6l0.7 1.2M410.6 411.8l-1.0 0.0M432.8 410.0l1.1 0.6M456.0 415.3l0.6 0.1M426.7 368.2l0.7 0.1M417.1 429.5l0.5 0.4M437.5 367.5l0.6 1.2M415.2 390.4l-1.3 0.4M408.7 413.9l-0.3 0.6M421.3 375.4l1.1 0.1M457.4 357.4l-1.5 0.3M502.0 425.2l-0.1 0.0M500.7 389.8l1.1 0.4M456.9 369.6l-0.5 1.0M450.3 382.1l-0.7 1.5M425.2 367.9l0.1 0.2M484.9 378.0l-0.1 0.5M493.5 396.2l-0.4 1.0M492.7 431.3l-0.0 1.1M472.7 393.2l-0.4 1.2M486.6 414.8l-0.8 0.9M434.3 392.9l-1.2 0.9M459.9 406.2l0.0 0.1M416.0 414.0l1.2 0.2M460.1 433.4l-1.0 0.5M498.5 361.5l0.3 0.0M458.4 376.3l-0.4 0.0M451.4 396.7l-1.3 0.8M405.8 389.8l-0.1 0.1M419.3 436.4l-0.4 0.1M472.0 370.5l-0.9 1.4M446.7 361.8l1.5 0.8M452.4 419.5l-0.4 0.4M459.8 404.0l-0.1 0.6M493.3 362.2l-0.5 0.5M489.8 401.3l0.4 0.5M471.3 411.5l0.2 0.0M436.7 387.2l-0.3 0.1M499.3 386.4l0.6 1.3M446.4 431.6l0.6 1.4M459.6 378.3l-0.7 0.7M414.1 374.6l-1.6 0.0M488.8 401.7l-1.1 1.0M487.0 377.9l0.8 1.0M406.1 357.5l-0.0 0.1M416.3 426.4l-1.1 0.6M451.3 392.7l-0.4 0.8M422.3 372.1l0.2 0.0M414.2 424.1l-1.4 0.7M471.8 381.8l-0.2 1.3M415.1 423.1l0.9 0.6M434.2 409.2l-0.4 0.3M428.7 367.3l-0.2 0.0M434.3 429.5l1.5 0.0M404.5 411.5l-0.0 0.4M418.5 362.8l-1.4 0.0M425.6 394.5l1.3 0.5M466.0 404.7l-1.6 0.1M448.0 388.4l-0.1 0.2M478.2 441.9l-0.3 0.2M492.1 447.2l0.4 0.0M418.0 390.1l0.4 0.3M486.7 357.8l0.4 1.6M476.2 426.0l1.5 0.2M426.0 392.6l1.5 0.3M451.2 393.8l0.0 0.0M455.2 383.1l-0.0 1.0M458.6 433.9l0.0 0.6M461.7 445.9l-1.2 0.5M466.3 394.6l-0.3 0.3M495.3 447.2l0.0 0.0M447.5 360.0l0.1 0.1M443.7 390.3l-0.8 1.2M413.6 448.4l0.0 0.9M471.1 447.1l-1.0 0.7M475.7 367.6l0.8 0.5M478.9 431.1l-0.3 0.8M478.8 442.1l0.7 0.7M472.5 447.0l1.0 0.1M416.9 355.7l-0.5 0.8M425.8 415.3l-1.2 0.8M482.0 383.7l0.5 0.4M447.5 440.7l-0.8 1.2M458.4 386.1l-0.5 0.9M426.9 417.5l-0.4 0.3M460.4 360.0l-0.3 0.6M419.1 442.0l-0.1 0.0M435.8 377.8l0.4 1.0M462.4 432.8l1.2 1.0M408.7 399.3l1.3 0.7M408.9 379.1l0.7 0.2M446.7 414.3l-0.4 0.7M504.0 388.0l0.2 0.4M469.7 366.5l-0.8 0.4M453.2 424.0l-0.0 0.0M430.8 442.0l0.3 0.8M443.2 358.3l-1.2 0.3M446.6 358.4l1.3 1.0M417.8 427.2l-1.1 0.9M455.5 439.9l0.5 1.3M488.9 361.8l-1.6 0.1M471.0 412.1l0.4 1.3" stroke="#a893c6" stroke-width="4.8" opacity="0.5" filter="url(#hb)"/>
<g stroke="#5a4299" opacity="0.72" filter="url(#cb)">
<path d="M413.6 410.2l0.2 0.1M461.3 416.8l-0.0 0.3M426.7 368.2l0.7 0.1M415.2 390.4l-1.3 0.4M408.7 413.9l-0.3 0.6M502.0 425.2l-0.1 0.0M434.3 392.9l-1.2 0.9M436.7 387.2l-0.3 0.1M446.4 431.6l0.6 1.4M422.3 372.1l0.2 0.0M434.2 409.2l-0.4 0.3M486.7 357.8l0.4 1.6M451.2 393.8l0.0 0.0M447.5 360.0l0.1 0.1M475.7 367.6l0.8 0.5M478.8 442.1l0.7 0.7M419.1 442.0l-0.1 0.0M408.7 399.3l1.3 0.7M446.7 414.3l-0.4 0.7M469.7 366.5l-0.8 0.4" stroke-width="1.2"/>
<path d="M495.9 444.1l-0.3 0.2M415.8 447.2l-0.1 0.9M480.8 373.5l1.0 1.1M440.9 426.2l0.0 0.2M413.8 399.0l1.2 0.4M463.2 396.5l-0.1 0.2M432.8 410.0l1.1 0.6M417.1 429.5l0.5 0.4M500.7 389.8l1.1 0.4M450.3 382.1l-0.7 1.5M416.0 414.0l1.2 0.2M498.5 361.5l0.3 0.0M472.0 370.5l-0.9 1.4M499.3 386.4l0.6 1.3M459.6 378.3l-0.7 0.7M488.8 401.7l-1.1 1.0M416.3 426.4l-1.1 0.6M414.2 424.1l-1.4 0.7M415.1 423.1l0.9 0.6M428.7 367.3l-0.2 0.0M404.5 411.5l-0.0 0.4M418.5 362.8l-1.4 0.0M466.0 404.7l-1.6 0.1M478.2 441.9l-0.3 0.2M492.1 447.2l0.4 0.0M476.2 426.0l1.5 0.2M466.3 394.6l-0.3 0.3M495.3 447.2l0.0 0.0M443.7 390.3l-0.8 1.2M478.9 431.1l-0.3 0.8M447.5 440.7l-0.8 1.2M458.4 386.1l-0.5 0.9M460.4 360.0l-0.3 0.6M408.9 379.1l0.7 0.2M453.2 424.0l-0.0 0.0M430.8 442.0l0.3 0.8M446.6 358.4l1.3 1.0M417.8 427.2l-1.1 0.9M455.5 439.9l0.5 1.3M471.0 412.1l0.4 1.3" stroke-width="1.7"/>
<path d="M457.2 366.4l1.1 0.4M417.2 410.6l1.0 0.7M407.3 413.6l-1.0 0.3M455.3 363.3l-0.0 0.2M423.2 371.0l0.7 0.4M485.2 372.6l0.7 1.2M410.6 411.8l-1.0 0.0M456.0 415.3l0.6 0.1M421.3 375.4l1.1 0.1M457.4 357.4l-1.5 0.3M484.9 378.0l-0.1 0.5M493.5 396.2l-0.4 1.0M492.7 431.3l-0.0 1.1M486.6 414.8l-0.8 0.9M459.9 406.2l0.0 0.1M460.1 433.4l-1.0 0.5M458.4 376.3l-0.4 0.0M451.4 396.7l-1.3 0.8M405.8 389.8l-0.1 0.1M446.7 361.8l1.5 0.8M459.8 404.0l-0.1 0.6M493.3 362.2l-0.5 0.5M414.1 374.6l-1.6 0.0M487.0 377.9l0.8 1.0M406.1 357.5l-0.0 0.1M451.3 392.7l-0.4 0.8M471.8 381.8l-0.2 1.3M434.3 429.5l1.5 0.0M425.6 394.5l1.3 0.5M448.0 388.4l-0.1 0.2M426.0 392.6l1.5 0.3M413.6 448.4l0.0 0.9M471.1 447.1l-1.0 0.7M472.5 447.0l1.0 0.1M416.9 355.7l-0.5 0.8M425.8 415.3l-1.2 0.8M482.0 383.7l0.5 0.4M435.8 377.8l0.4 1.0M462.4 432.8l1.2 1.0M504.0 388.0l0.2 0.4" stroke-width="2.2"/>
<path d="M437.5 367.5l0.6 1.2M456.9 369.6l-0.5 1.0M425.2 367.9l0.1 0.2M472.7 393.2l-0.4 1.2M419.3 436.4l-0.4 0.1M452.4 419.5l-0.4 0.4M489.8 401.3l0.4 0.5M471.3 411.5l0.2 0.0M418.0 390.1l0.4 0.3M455.2 383.1l-0.0 1.0M458.6 433.9l0.0 0.6M461.7 445.9l-1.2 0.5M426.9 417.5l-0.4 0.3M443.2 358.3l-1.2 0.3M488.9 361.8l-1.6 0.1" stroke-width="2.8"/>
</g>
<path d="M409.9 438.7h0M447.3 408.2h0M494.5 368.0h0M496.1 356.8h0M490.2 411.0h0M452.6 375.5h0M486.2 405.9h0M496.0 426.5h0M449.5 363.6h0M439.4 429.6h0M460.0 393.7h0M413.8 375.7h0M436.7 369.3h0M434.6 437.1h0M424.4 387.6h0M471.0 381.7h0M490.6 377.1h0M414.3 411.0h0M499.6 358.8h0M499.7 361.5h0M412.4 362.8h0M442.8 364.5h0M428.0 411.5h0M416.8 388.7h0M418.0 377.5h0M450.6 420.6h0M479.0 364.1h0M474.9 440.3h0M428.5 410.2h0M475.8 404.8h0M431.6 372.4h0M490.5 418.2h0M475.3 413.2h0M444.0 425.3h0M435.5 436.4h0M443.8 399.0h0M463.3 430.3h0M463.9 431.1h0M405.6 435.7h0M423.4 436.8h0M417.9 399.9h0M438.9 383.7h0M470.8 425.4h0M467.9 427.2h0M430.4 387.3h0M425.9 391.3h0M468.5 444.6h0M443.0 366.6h0M474.3 392.9h0M472.8 441.2h0M443.0 393.0h0M456.2 445.7h0M474.7 430.4h0M495.0 369.3h0M503.0 397.4h0M413.3 407.7h0M419.9 410.3h0M435.0 364.8h0M461.2 399.2h0M489.0 401.2h0M484.8 393.5h0M451.1 354.4h0M424.1 398.0h0M454.3 361.3h0M427.6 419.6h0M419.4 361.0h0M459.2 358.2h0M475.1 364.8h0M498.4 421.2h0M407.0 427.7h0M416.8 413.0h0M495.7 442.6h0M440.0 398.6h0M457.4 447.0h0M491.4 365.9h0M427.0 419.7h0M487.2 355.1h0M435.6 354.9h0M499.3 430.2h0M427.2 355.5h0M417.1 433.6h0M483.2 418.2h0M457.6 433.9h0M418.1 432.5h0M486.6 382.1h0M471.8 432.8h0M438.6 409.6h0M469.2 405.0h0M417.3 402.3h0M425.7 367.5h0M423.1 363.8h0M454.7 379.2h0M501.9 430.3h0M415.3 432.2h0M431.1 400.5h0M462.3 389.5h0M464.9 375.0h0M439.7 445.3h0M472.1 426.0h0M459.2 396.6h0M473.1 354.9h0M503.1 395.2h0M409.8 361.8h0" stroke="#8d7cb6" stroke-width="0.9" opacity="0.45"/>
</g>
<text x="259.6" y="342.3" font-size="10.4" text-anchor="middle" fill="#222" textLength="35.0" lengthAdjust="spacingAndGlyphs" stroke="#222" stroke-width="0.14">Control</text>
<text x="259.6" y="352.0" font-size="10.4" text-anchor="middle" fill="#222" textLength="64.2" lengthAdjust="spacingAndGlyphs" stroke="#222" stroke-width="0.14">invaded cells</text>
<path d="M224.5 345.4Q221.9 348.7 224.5 352.0M293.9 345.4Q296.5 348.7 293.9 352.0" stroke="#333" stroke-width="0.75" fill="none"/>
<text x="356.0" y="342.3" font-size="10.4" text-anchor="middle" fill="#222" textLength="55.0" lengthAdjust="spacingAndGlyphs" stroke="#222" stroke-width="0.14">Sparc-KD1</text>
<text x="356.0" y="352.0" font-size="10.4" text-anchor="middle" fill="#222" textLength="64.2" lengthAdjust="spacingAndGlyphs" stroke="#222" stroke-width="0.14">invaded cells</text>
<path d="M320.9 345.4Q318.3 348.7 320.9 352.0M390.3 345.4Q392.9 348.7 390.3 352.0" stroke="#333" stroke-width="0.75" fill="none"/>
<text x="454.0" y="342.3" font-size="10.4" text-anchor="middle" fill="#222" textLength="55.0" lengthAdjust="spacingAndGlyphs" stroke="#222" stroke-width="0.14">Sparc-KD2</text>
<text x="454.0" y="352.0" font-size="10.4" text-anchor="middle" fill="#222" textLength="64.2" lengthAdjust="spacingAndGlyphs" stroke="#222" stroke-width="0.14">invaded cells</text>
<path d="M418.9 345.4Q416.3 348.7 418.9 352.0M488.3 345.4Q490.9 348.7 488.3 352.0" stroke="#333" stroke-width="0.75" fill="none"/>
<text x="203.2" y="405.2" font-size="10.6" text-anchor="middle" fill="#222" textLength="13.6" lengthAdjust="spacingAndGlyphs" stroke="#222" stroke-width="0.14" transform="rotate(-90 203.2 401.4)">OL</text>
<path d="M571.7 386.2V381.4M563.8 381.4H579.5" stroke="#2f3368" stroke-width="1.4" fill="none"/>
<rect x="555.2" y="385.2" width="32.9" height="59.3" fill="#2f3368" />
<path d="M620.2 362.9V356.4M612.4 356.4H628.1" stroke="#e9282b" stroke-width="1.4" fill="none"/>
<rect x="603.8" y="361.9" width="32.9" height="82.6" fill="#e9282b" />
<path d="M668.7 369.3V357.0M660.7 357.0H676.6" stroke="#8c2329" stroke-width="1.4" fill="none"/>
<rect x="652.1" y="368.3" width="33.1" height="76.2" fill="#8c2329" />
<path d="M538.7 325.5V444.5H700.6" stroke="#111" stroke-width="1.65" fill="none"/>
<path d="M534.2 326.2H538.7" stroke="#111" stroke-width="1.5" fill="none"/>
<text x="535.0" y="329.3" font-size="8.6" text-anchor="end" fill="#222" textLength="12.2" lengthAdjust="spacingAndGlyphs" stroke="#222" stroke-width="0.14">2.0</text>
<path d="M534.2 355.8H538.7" stroke="#111" stroke-width="1.5" fill="none"/>
<text x="535.0" y="358.9" font-size="8.6" text-anchor="end" fill="#222" textLength="12.2" lengthAdjust="spacingAndGlyphs" stroke="#222" stroke-width="0.14">1.5</text>
<path d="M534.2 385.4H538.7" stroke="#111" stroke-width="1.5" fill="none"/>
<text x="535.0" y="388.4" font-size="8.6" text-anchor="end" fill="#222" textLength="12.2" lengthAdjust="spacingAndGlyphs" stroke="#222" stroke-width="0.14">1.0</text>
<path d="M534.2 414.9H538.7" stroke="#111" stroke-width="1.5" fill="none"/>
<text x="535.0" y="418.0" font-size="8.6" text-anchor="end" fill="#222" textLength="12.2" lengthAdjust="spacingAndGlyphs" stroke="#222" stroke-width="0.14">0.5</text>
<path d="M534.2 444.5H538.7" stroke="#111" stroke-width="1.5" fill="none"/>
<text x="535.0" y="447.6" font-size="8.6" text-anchor="end" fill="#222" textLength="12.2" lengthAdjust="spacingAndGlyphs" stroke="#222" stroke-width="0.14">0.0</text>
<path d="M571.7 444.5V448.3" stroke="#111" stroke-width="1.5" fill="none"/>
<path d="M620.2 444.5V448.3" stroke="#111" stroke-width="1.5" fill="none"/>
<path d="M668.7 444.5V448.3" stroke="#111" stroke-width="1.5" fill="none"/>
<text x="518.0" y="387.8" font-size="8.6" text-anchor="middle" fill="#222" textLength="100.9" lengthAdjust="spacingAndGlyphs" stroke="#222" stroke-width="0.14" transform="rotate(-90 518.0 384.8)">Relative number of invaded cells</text>
<path d="M571.2 378.5V334H668.7V353.8" stroke="#111" stroke-width="1.1" fill="none"/>
<path d="M571.2 344.2H619.8V353.2" stroke="#111" stroke-width="1.1" fill="none"/>
<path d="M615.0 326.2l0.00 -2.70M615.0 326.2l2.57 -0.83M615.0 326.2l1.59 2.18M615.0 326.2l-1.59 2.18M615.0 326.2l-2.57 -0.83M620.6 326.2l0.00 -2.70M620.6 326.2l2.57 -0.83M620.6 326.2l1.59 2.18M620.6 326.2l-1.59 2.18M620.6 326.2l-2.57 -0.83" stroke="#1a1a1a" stroke-width="1.05" fill="none"/>
<path d="M592.5 340.1l0.00 -2.70M592.5 340.1l2.57 -0.83M592.5 340.1l1.59 2.18M592.5 340.1l-1.59 2.18M592.5 340.1l-2.57 -0.83M598.1 340.1l0.00 -2.70M598.1 340.1l2.57 -0.83M598.1 340.1l1.59 2.18M598.1 340.1l-1.59 2.18M598.1 340.1l-2.57 -0.83M603.7 340.1l0.00 -2.70M603.7 340.1l2.57 -0.83M603.7 340.1l1.59 2.18M603.7 340.1l-1.59 2.18M603.7 340.1l-2.57 -0.83" stroke="#1a1a1a" stroke-width="1.05" fill="none"/>
<text x="619.2" y="317.7" font-size="10.3" text-anchor="middle" fill="#1a1a1a" textLength="14.0" lengthAdjust="spacingAndGlyphs" stroke="#1a1a1a" stroke-width="0.14">OL</text>
<text x="566.9" y="457.4" font-size="9.2" text-anchor="middle" fill="#1a1a1a" textLength="36.0" lengthAdjust="spacingAndGlyphs" stroke="#1a1a1a" stroke-width="0.14">Control</text>
<text x="620.7" y="457.4" font-size="9.2" text-anchor="middle" fill="#1a1a1a" textLength="17.4" lengthAdjust="spacingAndGlyphs" stroke="#1a1a1a" stroke-width="0.14">KD1</text>
<text x="669.4" y="457.4" font-size="9.2" text-anchor="middle" fill="#1a1a1a" textLength="18.9" lengthAdjust="spacingAndGlyphs" stroke="#1a1a1a" stroke-width="0.14">KD2</text>
<text x="24.9" y="474.9" font-size="13.3" text-anchor="middle" fill="#1a1a1a" textLength="5.9" lengthAdjust="spacingAndGlyphs" stroke="#1a1a1a" stroke-width="0.14">F</text>
<clipPath id="tc7"><rect x="24.8" y="495.7" width="95.7" height="95.3"/></clipPath>
<rect x="24.8" y="495.7" width="95.7" height="95.3" fill="#c5b8b8" />
<g clip-path="url(#tc7)" fill="none" stroke-linecap="round">
<path d="M26.0 506.4l-1.0 0.9M90.2 508.9l-0.0 0.0M25.6 505.0l-2.3 0.4M28.0 501.5l0.6 1.7M94.9 545.8l0.9 0.5M81.6 507.0l0.5 0.3M109.7 528.2l2.1 0.9M62.3 552.6l-0.2 1.7M94.1 535.4l-0.1 0.0M30.5 500.6l-2.1 1.0M27.0 509.8l0.7 2.0M27.7 565.7l1.5 0.5M87.1 516.5l0.2 2.2M94.6 514.2l0.5 0.7M45.8 499.6l0.1 0.2M56.8 533.5l0.6 1.3M104.8 587.3l0.2 0.2M119.9 571.0l0.1 0.1M41.7 555.1l0.1 0.7M89.4 504.6l0.2 0.0M84.7 509.2l-0.8 0.4M52.1 524.8l0.1 0.0M109.5 506.6l-0.1 0.3M56.8 534.1l-0.1 0.1M110.4 507.4l-0.8 0.4M36.2 514.2l-0.6 0.4M93.1 577.1l-1.9 0.0M72.5 570.8l-1.9 0.8M60.4 554.1l0.0 2.3M28.4 506.4l-0.6 0.9M54.4 532.2l-0.6 1.2M27.2 542.4l-1.1 1.6M69.8 518.3l-0.8 2.2M33.9 557.9l1.3 0.7M32.8 499.0l-0.5 2.1M115.4 578.3l1.9 0.7M77.9 548.9l-0.2 0.9M92.7 543.7l0.1 1.8M43.4 554.3l-0.9 1.6M103.2 526.8l-0.0 2.1M74.8 528.8l0.9 0.1M40.4 552.0l0.0 0.0M62.1 550.8l0.2 0.1M109.3 515.2l-1.4 0.8M54.2 551.7l0.8 1.4M50.6 585.2l0.5 1.5M50.2 528.6l-0.1 1.9M44.1 573.3l0.3 0.4M63.2 573.6l-0.9 1.4M43.8 516.1l-0.4 0.6M91.6 530.8l-1.2 0.2M31.1 519.4l-1.7 1.2M70.7 543.3l1.1 0.2M51.3 513.0l0.1 0.1M57.0 536.1l-0.1 1.6M118.7 522.1l1.2 1.3M52.0 580.5l-0.3 1.0M54.2 580.9l-1.2 0.8M47.7 509.3l-2.3 0.5M98.3 576.7l-0.1 0.1M92.5 497.7l1.1 1.8M71.9 524.9l-1.4 1.7M114.7 520.4l-0.0 0.1M62.9 516.0l-1.0 1.0M98.2 500.3l-0.6 0.8M116.6 518.5l0.5 0.9M64.2 582.7l1.8 0.6M35.1 548.1l-0.0 0.1M94.6 568.2l0.2 0.9M98.1 525.2l0.1 2.3M114.2 517.2l-0.7 1.0M77.1 503.0l0.9 0.9M70.1 521.6l-1.0 0.0M88.6 496.0l-0.6 0.3M118.4 557.6l-1.6 0.7M119.8 540.0l-1.5 0.8M114.4 533.1l-1.1 0.6M84.0 515.0l0.6 1.4M30.4 578.6l-0.8 1.6M109.3 535.0l-0.6 1.3M37.8 587.7l-0.7 0.8M116.3 544.9l-0.1 2.0M47.7 520.2l1.4 1.8M64.6 555.2l-0.2 0.1M108.1 507.6l0.5 0.9M46.7 528.2l-0.3 0.3M65.1 525.5l-0.9 0.2M66.9 559.5l0.1 0.0M42.6 517.2l0.0 0.0M111.5 511.8l-1.8 1.4M35.2 570.6l0.6 0.3M99.4 536.9l-0.3 0.5M84.3 521.3l-0.8 0.4M70.4 509.4l-1.3 0.8M39.7 520.1l-0.6 0.1M106.3 525.1l1.1 0.5M43.4 554.8l-1.7 0.8M106.2 580.0l-0.4 0.4M81.5 568.8l-1.1 0.8M76.9 570.7l-0.5 0.3M76.7 577.3l1.2 0.2M49.6 502.8l-0.2 0.5M39.0 588.1l-0.2 0.8M75.9 573.6l1.0 0.2M38.4 538.9l-0.5 0.0M43.8 509.0l2.0 0.3M101.5 542.2l0.8 1.9M70.4 527.5l0.7 0.8M42.8 508.7l0.6 1.3M40.3 563.2l-1.1 1.6M81.4 528.7l1.3 0.6M100.1 502.5l1.2 1.1M85.7 523.3l-0.0 0.0M88.0 516.6l-0.2 2.0M79.0 518.4l1.0 1.9M64.5 544.9l0.1 2.1M63.1 505.1l-2.1 0.4M83.2 509.1l-1.7 0.4M28.0 499.9l-0.6 0.3M98.2 565.5l0.2 0.2M27.2 547.6l-0.5 0.8M113.2 529.9l0.9 1.1M93.5 579.8l0.7 2.1M33.0 554.3l-2.1 0.2M45.3 497.4l-2.2 0.5M82.3 559.6l0.3 0.3M51.7 513.6l0.1 1.0M68.5 523.2l0.0 0.1M114.7 522.1l1.5 0.9M116.4 521.1l-1.3 0.7M57.6 557.3l-0.6 0.9M64.5 547.1l0.8 0.9M26.4 546.6l0.5 0.4M81.6 574.7l-0.3 1.9M73.7 562.5l-1.1 0.5M106.7 568.8l-1.4 1.1" stroke="#ab96d8" stroke-width="4.3" opacity="0.5" filter="url(#hb)"/>
<g stroke="#5a47b0" opacity="0.72" filter="url(#cb)">
<path d="M90.2 508.9l-0.0 0.0M25.6 505.0l-2.3 0.4M94.9 545.8l0.9 0.5M27.0 509.8l0.7 2.0M87.1 516.5l0.2 2.2M119.9 571.0l0.1 0.1M41.7 555.1l0.1 0.7M52.1 524.8l0.1 0.0M56.8 534.1l-0.1 0.1M72.5 570.8l-1.9 0.8M27.2 542.4l-1.1 1.6M92.7 543.7l0.1 1.8M74.8 528.8l0.9 0.1M63.2 573.6l-0.9 1.4M62.9 516.0l-1.0 1.0M77.1 503.0l0.9 0.9M118.4 557.6l-1.6 0.7M111.5 511.8l-1.8 1.4M99.4 536.9l-0.3 0.5M84.3 521.3l-0.8 0.4M75.9 573.6l1.0 0.2M33.0 554.3l-2.1 0.2M116.4 521.1l-1.3 0.7M73.7 562.5l-1.1 0.5" stroke-width="1.1"/>
<path d="M28.0 501.5l0.6 1.7M94.1 535.4l-0.1 0.0M45.8 499.6l0.1 0.2M56.8 533.5l0.6 1.3M104.8 587.3l0.2 0.2M89.4 504.6l0.2 0.0M109.5 506.6l-0.1 0.3M110.4 507.4l-0.8 0.4M36.2 514.2l-0.6 0.4M93.1 577.1l-1.9 0.0M54.4 532.2l-0.6 1.2M69.8 518.3l-0.8 2.2M33.9 557.9l1.3 0.7M40.4 552.0l0.0 0.0M62.1 550.8l0.2 0.1M109.3 515.2l-1.4 0.8M54.2 551.7l0.8 1.4M50.6 585.2l0.5 1.5M50.2 528.6l-0.1 1.9M44.1 573.3l0.3 0.4M91.6 530.8l-1.2 0.2M57.0 536.1l-0.1 1.6M47.7 509.3l-2.3 0.5M98.3 576.7l-0.1 0.1M92.5 497.7l1.1 1.8M98.2 500.3l-0.6 0.8M94.6 568.2l0.2 0.9M114.2 517.2l-0.7 1.0M70.1 521.6l-1.0 0.0M84.0 515.0l0.6 1.4M30.4 578.6l-0.8 1.6M37.8 587.7l-0.7 0.8M46.7 528.2l-0.3 0.3M66.9 559.5l0.1 0.0M35.2 570.6l0.6 0.3M70.4 509.4l-1.3 0.8M39.7 520.1l-0.6 0.1M106.3 525.1l1.1 0.5M106.2 580.0l-0.4 0.4M76.7 577.3l1.2 0.2M49.6 502.8l-0.2 0.5M39.0 588.1l-0.2 0.8M42.8 508.7l0.6 1.3M40.3 563.2l-1.1 1.6M81.4 528.7l1.3 0.6M100.1 502.5l1.2 1.1M83.2 509.1l-1.7 0.4M98.2 565.5l0.2 0.2M27.2 547.6l-0.5 0.8M82.3 559.6l0.3 0.3M51.7 513.6l0.1 1.0M68.5 523.2l0.0 0.1M57.6 557.3l-0.6 0.9" stroke-width="1.5"/>
<path d="M26.0 506.4l-1.0 0.9M81.6 507.0l0.5 0.3M109.7 528.2l2.1 0.9M27.7 565.7l1.5 0.5M84.7 509.2l-0.8 0.4M60.4 554.1l0.0 2.3M32.8 499.0l-0.5 2.1M115.4 578.3l1.9 0.7M77.9 548.9l-0.2 0.9M43.4 554.3l-0.9 1.6M103.2 526.8l-0.0 2.1M43.8 516.1l-0.4 0.6M70.7 543.3l1.1 0.2M118.7 522.1l1.2 1.3M52.0 580.5l-0.3 1.0M71.9 524.9l-1.4 1.7M114.7 520.4l-0.0 0.1M116.6 518.5l0.5 0.9M98.1 525.2l0.1 2.3M88.6 496.0l-0.6 0.3M119.8 540.0l-1.5 0.8M114.4 533.1l-1.1 0.6M116.3 544.9l-0.1 2.0M64.6 555.2l-0.2 0.1M65.1 525.5l-0.9 0.2M42.6 517.2l0.0 0.0M43.4 554.8l-1.7 0.8M81.5 568.8l-1.1 0.8M43.8 509.0l2.0 0.3M101.5 542.2l0.8 1.9M70.4 527.5l0.7 0.8M85.7 523.3l-0.0 0.0M88.0 516.6l-0.2 2.0M79.0 518.4l1.0 1.9M64.5 544.9l0.1 2.1M28.0 499.9l-0.6 0.3M114.7 522.1l1.5 0.9M64.5 547.1l0.8 0.9M26.4 546.6l0.5 0.4M81.6 574.7l-0.3 1.9M106.7 568.8l-1.4 1.1" stroke-width="2.0"/>
<path d="M62.3 552.6l-0.2 1.7M30.5 500.6l-2.1 1.0M94.6 514.2l0.5 0.7M28.4 506.4l-0.6 0.9M31.1 519.4l-1.7 1.2M51.3 513.0l0.1 0.1M54.2 580.9l-1.2 0.8M64.2 582.7l1.8 0.6M35.1 548.1l-0.0 0.1M109.3 535.0l-0.6 1.3M47.7 520.2l1.4 1.8M108.1 507.6l0.5 0.9M76.9 570.7l-0.5 0.3M38.4 538.9l-0.5 0.0M63.1 505.1l-2.1 0.4M113.2 529.9l0.9 1.1M93.5 579.8l0.7 2.1M45.3 497.4l-2.2 0.5" stroke-width="2.5"/>
</g>
<path d="M61.0 542.3h0M84.7 564.7h0M40.3 588.8h0M37.3 546.4h0M76.4 512.3h0M29.3 537.7h0M94.2 509.4h0M102.1 532.2h0M32.5 580.5h0M86.0 513.4h0M34.5 496.5h0M58.7 554.1h0M31.6 504.6h0M74.6 583.6h0M41.1 543.3h0M111.9 544.8h0M97.5 532.3h0M80.2 559.9h0M117.4 543.4h0M97.5 576.8h0M49.0 564.1h0M28.0 499.6h0M68.8 528.9h0M58.4 582.9h0M105.6 500.7h0M103.9 503.3h0M104.0 590.2h0M25.5 569.2h0M81.4 576.5h0M50.5 548.0h0M27.2 501.4h0M57.4 523.1h0M37.7 580.8h0M50.9 496.3h0M84.8 559.3h0M103.8 524.0h0M104.0 538.7h0M70.7 586.7h0M87.5 506.2h0M47.6 553.8h0M92.8 507.5h0M77.7 557.5h0M114.1 504.4h0M107.8 539.4h0M38.8 571.7h0M69.0 585.8h0M103.6 521.3h0M59.9 535.9h0M103.6 497.6h0M86.7 537.6h0M26.5 558.1h0M26.6 505.1h0M83.8 538.0h0M38.2 588.8h0M87.4 518.7h0M115.5 580.2h0M32.1 562.3h0M75.7 498.2h0M58.3 570.2h0M94.5 514.5h0M47.4 538.8h0M66.2 563.0h0M90.1 556.4h0M42.3 590.7h0M25.1 510.4h0M107.1 558.9h0M37.2 530.9h0M45.2 539.0h0M99.1 533.8h0M93.0 513.1h0M107.5 567.5h0M73.6 503.3h0M69.0 533.5h0M27.4 515.7h0M82.1 590.7h0M70.9 520.3h0M37.7 529.4h0M26.7 525.8h0M60.5 582.1h0M62.1 497.1h0M49.8 541.5h0M55.3 527.2h0M25.7 545.4h0M89.7 561.7h0M37.8 585.2h0M47.3 513.0h0M65.9 507.7h0M47.8 571.7h0M101.1 549.5h0M98.8 526.8h0M29.9 589.6h0M30.7 498.4h0M73.9 524.2h0M38.3 562.9h0M93.8 514.4h0M105.0 497.5h0M92.0 574.3h0M47.9 508.8h0M112.7 541.9h0M66.0 508.9h0M105.5 540.8h0M64.8 569.5h0M99.0 529.4h0M28.5 497.7h0M88.6 531.0h0M70.3 580.6h0M113.8 550.2h0M86.1 502.5h0M79.1 496.3h0M98.9 520.0h0M80.0 556.0h0M30.3 562.5h0M108.0 558.5h0M38.0 536.2h0M90.5 573.2h0M114.2 574.2h0M78.4 562.9h0M65.5 525.8h0M81.5 542.9h0M66.2 540.0h0M95.4 562.5h0M42.2 548.7h0" stroke="#8d7cb6" stroke-width="0.9" opacity="0.45"/>
</g>
<clipPath id="tc8"><rect x="122.0" y="495.7" width="94.8" height="95.3"/></clipPath>
<rect x="122.0" y="495.7" width="94.8" height="95.3" fill="#c6b9b8" />
<g clip-path="url(#tc8)" fill="none" stroke-linecap="round">
<path d="M129.3 516.1l-1.4 1.6M207.3 543.0l0.7 0.2M131.5 544.2l0.2 1.3M171.6 585.7l-0.1 1.6M157.2 495.8l-1.0 0.5M134.0 496.6l0.8 1.8M201.9 575.4l-0.1 1.9M141.1 503.5l2.0 0.3M206.9 540.2l-0.8 0.7M209.4 548.6l-1.2 2.0M166.4 565.1l-1.0 0.7M172.7 573.1l1.0 0.8M176.6 503.6l0.4 0.4M157.5 498.1l-0.6 0.6M160.0 589.8l-1.1 1.3M128.6 541.1l-1.4 0.7M164.2 562.6l-1.3 0.7M208.7 544.5l0.4 0.3M135.8 501.0l0.1 0.1M168.4 543.8l0.2 1.0M153.0 530.1l0.5 0.9M210.7 519.5l-0.8 1.4M176.1 517.9l-0.3 1.0M177.0 531.0l-1.8 0.1M212.8 508.0l-1.6 1.7M155.3 531.0l-0.1 0.1M213.7 543.3l0.5 0.5M123.6 512.3l-0.8 0.8M151.9 587.9l-0.4 0.7M165.3 503.6l-1.4 1.5M137.8 530.5l0.1 0.2M171.6 517.9l-0.0 0.1M158.6 563.2l-0.8 1.9M199.8 499.0l1.3 1.1M139.3 496.1l0.0 0.5M190.4 560.0l-0.1 0.0M157.8 506.6l0.9 1.1M212.4 589.2l0.6 0.1M163.9 538.6l1.5 1.1M122.5 574.7l-1.5 0.7M174.1 508.0l-0.1 0.3M134.2 503.3l0.7 1.5M193.3 502.8l0.2 0.1M216.1 543.6l0.7 0.4M173.2 573.0l0.4 0.9M150.6 532.9l0.6 1.9M180.4 496.6l-0.1 0.6M123.1 549.2l-1.3 1.5M175.8 575.6l0.2 1.6M143.5 549.8l-0.8 1.0M132.8 503.2l-0.2 0.4M141.5 514.5l0.0 0.1M155.5 526.0l0.2 0.3M156.6 586.8l1.7 0.6M136.6 550.2l-0.7 1.8M172.7 507.4l1.4 0.3M194.0 538.1l0.7 1.5M209.4 523.9l-0.7 0.4M187.3 495.9l-1.0 1.7M136.1 570.6l0.1 0.4M130.1 586.4l-1.7 0.7M179.6 549.8l-0.8 0.0M205.9 543.2l0.7 1.2M166.8 497.4l-0.7 0.3M168.7 533.2l1.9 1.1M203.5 564.2l-0.1 0.2M155.1 505.7l1.3 0.6M179.0 570.7l0.9 0.3M181.7 553.0l0.2 0.2M176.5 497.2l0.2 0.3M148.1 502.6l-1.8 1.2M201.7 522.6l0.5 0.5M181.3 560.6l1.2 0.6M188.0 503.3l-2.1 0.4M155.0 535.4l-1.8 1.4M138.5 555.5l-0.0 0.1M129.2 576.8l0.4 0.6M160.3 568.7l-0.6 1.6M154.7 527.2l0.4 1.4M138.8 534.7l-0.3 0.9M158.5 513.1l-0.6 0.9M136.3 552.4l1.9 1.0M124.3 572.8l1.2 0.1M137.7 498.8l-0.0 0.1M135.7 541.9l1.6 1.5M162.7 504.5l0.4 1.7M189.8 516.8l-0.8 2.0M185.5 539.8l0.4 0.9M148.9 570.3l-0.9 1.9M145.8 499.6l1.8 0.3M152.6 582.6l-0.8 1.7M129.7 568.1l0.0 0.5M187.5 563.7l-0.1 0.6M213.6 516.2l1.3 0.9M216.3 500.1l-0.4 0.2M161.7 578.9l1.1 0.1M159.5 529.7l-0.0 0.0M194.2 526.7l0.0 0.0M201.2 544.8l0.7 0.4M202.8 524.1l-1.7 1.2M209.0 558.7l-1.8 0.2M130.7 515.5l-1.0 0.6M181.4 524.5l0.2 0.5M129.3 501.9l0.4 0.3M140.0 541.4l0.0 0.0M170.7 571.6l-0.5 0.9M170.0 538.6l-0.2 0.9M184.4 590.2l1.4 1.8M165.2 524.9l-0.2 1.9M163.1 540.2l0.4 0.4M161.6 585.1l0.9 1.7M188.3 565.3l-1.0 1.6M180.1 499.7l-0.3 0.6M155.5 505.1l-1.4 1.2M139.3 552.6l1.1 1.0M177.8 572.8l0.2 0.4M128.6 517.5l-0.2 0.6M211.6 546.7l0.2 0.1M123.0 540.3l1.7 1.1M195.6 533.2l0.2 0.3M136.1 535.3l0.9 0.3M149.1 569.6l-0.6 0.7M143.4 527.7l-0.0 0.0M191.8 496.5l0.7 1.2M162.0 516.4l-2.0 0.2M159.8 539.0l0.3 0.3M211.3 592.9l-0.6 0.2M146.4 529.0l-1.0 0.6M192.0 548.8l-0.6 0.9M158.0 512.6l1.2 0.7M145.2 521.7l-0.7 1.2M170.3 512.3l2.2 0.2M191.6 557.7l0.1 0.2M192.0 522.9l0.6 0.2M205.6 579.7l0.3 1.6M135.7 519.5l-1.0 0.2M131.2 500.2l2.3 0.0M205.9 521.5l-1.5 1.0M211.9 544.8l-1.3 0.2M158.0 542.2l-0.6 0.2M148.0 523.2l0.6 1.0M192.1 497.0l-0.7 1.9M183.6 543.5l0.6 1.4" stroke="#ab96d8" stroke-width="4.3" opacity="0.5" filter="url(#hb)"/>
<g stroke="#5a47b0" opacity="0.72" filter="url(#cb)">
<path d="M164.2 562.6l-1.3 0.7M177.0 531.0l-1.8 0.1M158.6 563.2l-0.8 1.9M199.8 499.0l1.3 1.1M139.3 496.1l0.0 0.5M190.4 560.0l-0.1 0.0M157.8 506.6l0.9 1.1M174.1 508.0l-0.1 0.3M187.3 495.9l-1.0 1.7M130.1 586.4l-1.7 0.7M179.6 549.8l-0.8 0.0M155.1 505.7l1.3 0.6M179.0 570.7l0.9 0.3M181.7 553.0l0.2 0.2M176.5 497.2l0.2 0.3M154.7 527.2l0.4 1.4M138.8 534.7l-0.3 0.9M124.3 572.8l1.2 0.1M129.7 568.1l0.0 0.5M159.5 529.7l-0.0 0.0M129.3 501.9l0.4 0.3M170.0 538.6l-0.2 0.9M163.1 540.2l0.4 0.4M195.6 533.2l0.2 0.3M149.1 569.6l-0.6 0.7M143.4 527.7l-0.0 0.0M211.9 544.8l-1.3 0.2M158.0 542.2l-0.6 0.2" stroke-width="1.1"/>
<path d="M207.3 543.0l0.7 0.2M131.5 544.2l0.2 1.3M157.2 495.8l-1.0 0.5M134.0 496.6l0.8 1.8M201.9 575.4l-0.1 1.9M141.1 503.5l2.0 0.3M172.7 573.1l1.0 0.8M157.5 498.1l-0.6 0.6M135.8 501.0l0.1 0.1M123.6 512.3l-0.8 0.8M151.9 587.9l-0.4 0.7M163.9 538.6l1.5 1.1M216.1 543.6l0.7 0.4M173.2 573.0l0.4 0.9M180.4 496.6l-0.1 0.6M175.8 575.6l0.2 1.6M143.5 549.8l-0.8 1.0M132.8 503.2l-0.2 0.4M155.5 526.0l0.2 0.3M156.6 586.8l1.7 0.6M136.6 550.2l-0.7 1.8M194.0 538.1l0.7 1.5M136.1 570.6l0.1 0.4M155.0 535.4l-1.8 1.4M158.5 513.1l-0.6 0.9M136.3 552.4l1.9 1.0M162.7 504.5l0.4 1.7M145.8 499.6l1.8 0.3M213.6 516.2l1.3 0.9M216.3 500.1l-0.4 0.2M194.2 526.7l0.0 0.0M202.8 524.1l-1.7 1.2M161.6 585.1l0.9 1.7M188.3 565.3l-1.0 1.6M177.8 572.8l0.2 0.4M191.8 496.5l0.7 1.2M211.3 592.9l-0.6 0.2M145.2 521.7l-0.7 1.2M170.3 512.3l2.2 0.2M191.6 557.7l0.1 0.2M205.6 579.7l0.3 1.6M131.2 500.2l2.3 0.0M183.6 543.5l0.6 1.4" stroke-width="1.5"/>
<path d="M129.3 516.1l-1.4 1.6M206.9 540.2l-0.8 0.7M153.0 530.1l0.5 0.9M210.7 519.5l-0.8 1.4M213.7 543.3l0.5 0.5M137.8 530.5l0.1 0.2M171.6 517.9l-0.0 0.1M212.4 589.2l0.6 0.1M122.5 574.7l-1.5 0.7M193.3 502.8l0.2 0.1M150.6 532.9l0.6 1.9M123.1 549.2l-1.3 1.5M141.5 514.5l0.0 0.1M172.7 507.4l1.4 0.3M209.4 523.9l-0.7 0.4M168.7 533.2l1.9 1.1M148.1 502.6l-1.8 1.2M201.7 522.6l0.5 0.5M188.0 503.3l-2.1 0.4M129.2 576.8l0.4 0.6M137.7 498.8l-0.0 0.1M189.8 516.8l-0.8 2.0M148.9 570.3l-0.9 1.9M152.6 582.6l-0.8 1.7M161.7 578.9l1.1 0.1M209.0 558.7l-1.8 0.2M130.7 515.5l-1.0 0.6M170.7 571.6l-0.5 0.9M184.4 590.2l1.4 1.8M165.2 524.9l-0.2 1.9M180.1 499.7l-0.3 0.6M155.5 505.1l-1.4 1.2M139.3 552.6l1.1 1.0M128.6 517.5l-0.2 0.6M211.6 546.7l0.2 0.1M123.0 540.3l1.7 1.1M136.1 535.3l0.9 0.3M162.0 516.4l-2.0 0.2M146.4 529.0l-1.0 0.6M192.0 548.8l-0.6 0.9M192.0 522.9l0.6 0.2M205.9 521.5l-1.5 1.0M148.0 523.2l0.6 1.0M192.1 497.0l-0.7 1.9" stroke-width="2.0"/>
<path d="M171.6 585.7l-0.1 1.6M209.4 548.6l-1.2 2.0M166.4 565.1l-1.0 0.7M176.6 503.6l0.4 0.4M160.0 589.8l-1.1 1.3M128.6 541.1l-1.4 0.7M208.7 544.5l0.4 0.3M168.4 543.8l0.2 1.0M176.1 517.9l-0.3 1.0M212.8 508.0l-1.6 1.7M155.3 531.0l-0.1 0.1M165.3 503.6l-1.4 1.5M134.2 503.3l0.7 1.5M205.9 543.2l0.7 1.2M166.8 497.4l-0.7 0.3M203.5 564.2l-0.1 0.2M181.3 560.6l1.2 0.6M138.5 555.5l-0.0 0.1M160.3 568.7l-0.6 1.6M135.7 541.9l1.6 1.5M185.5 539.8l0.4 0.9M187.5 563.7l-0.1 0.6M201.2 544.8l0.7 0.4M181.4 524.5l0.2 0.5M140.0 541.4l0.0 0.0M159.8 539.0l0.3 0.3M158.0 512.6l1.2 0.7M135.7 519.5l-1.0 0.2" stroke-width="2.5"/>
</g>
<path d="M149.6 548.3h0M145.2 590.6h0M210.6 581.9h0M195.2 577.5h0M181.0 590.3h0M133.2 515.8h0M166.9 507.5h0M126.4 558.8h0M194.6 585.3h0M190.6 582.5h0M149.3 519.6h0M167.0 496.1h0M129.8 527.0h0M178.4 580.5h0M165.7 552.5h0M139.7 584.1h0M190.9 534.4h0M123.4 566.5h0M158.4 569.4h0M142.6 579.1h0M179.5 544.8h0M161.2 523.4h0M155.2 527.3h0M174.5 504.2h0M134.8 572.5h0M135.6 495.9h0M209.5 518.9h0M194.1 525.6h0M212.9 507.4h0M146.1 558.5h0M138.1 529.3h0M161.2 573.4h0M183.7 541.0h0M146.8 502.6h0M214.9 529.3h0M133.2 536.0h0M133.7 533.5h0M142.3 555.1h0M170.4 587.5h0M211.4 525.2h0M178.1 508.6h0M215.7 577.1h0M163.2 565.6h0M142.1 496.6h0M124.2 525.9h0M170.0 519.6h0M144.1 563.3h0M143.6 524.1h0M154.1 498.4h0M210.9 557.6h0M126.8 499.2h0M144.1 509.0h0M146.1 567.0h0M203.4 568.4h0M123.9 564.2h0M187.5 552.5h0M140.0 553.3h0M133.8 545.3h0M199.2 566.3h0M201.3 583.5h0M150.5 517.5h0M155.2 562.8h0M146.8 507.3h0M181.5 570.8h0M124.5 549.8h0M154.8 531.1h0M186.6 573.7h0M155.9 513.7h0M142.7 587.6h0M137.4 547.9h0M157.4 570.3h0M160.2 569.2h0M215.4 507.0h0M176.1 582.0h0M199.8 578.1h0M185.6 546.6h0M148.7 548.0h0M131.2 550.8h0M166.6 582.6h0M211.1 537.7h0M157.8 578.3h0M161.6 551.5h0M140.0 574.7h0M182.7 539.5h0M122.1 532.9h0M202.5 572.7h0M214.7 522.2h0M166.6 514.9h0M192.5 534.3h0M126.4 542.6h0M139.8 574.4h0M193.4 500.0h0M173.2 547.8h0M162.6 502.3h0M153.7 504.4h0M215.2 507.7h0M127.5 524.5h0M173.1 525.8h0M190.7 580.1h0M155.1 521.3h0M130.6 539.1h0M152.5 503.8h0M179.7 586.1h0M191.7 517.9h0M193.0 553.1h0M200.7 498.1h0M163.5 551.2h0M140.8 512.0h0M144.4 544.8h0M202.4 555.7h0M167.2 555.3h0M153.3 524.7h0M181.3 546.4h0M132.3 584.4h0M149.9 520.2h0M148.0 579.7h0M207.3 557.0h0M123.4 521.1h0M126.5 546.0h0M141.5 517.4h0M194.1 502.3h0M203.1 511.6h0M213.6 559.7h0M201.4 524.5h0M177.1 563.8h0M207.9 543.2h0M132.2 589.8h0M134.6 551.6h0" stroke="#8d7cb6" stroke-width="0.9" opacity="0.45"/>
</g>
<clipPath id="tc9"><rect x="218.5" y="495.7" width="94.9" height="95.3"/></clipPath>
<rect x="218.5" y="495.7" width="94.9" height="95.3" fill="#c8bcbf" />
<g clip-path="url(#tc9)" fill="none" stroke-linecap="round">
<path d="M223.2 507.1C237.5 495.7 247.0 516.7 258.4 507.1S270.7 522.4 284.9 507.1S303.9 514.8 313.4 505.2" stroke="#b09fd2" stroke-width="3.2" opacity="0.55" filter="url(#hb)"/>
<path d="M223.2 507.1C237.5 495.7 247.0 516.7 258.4 507.1S270.7 522.4 284.9 507.1S303.9 514.8 313.4 505.2" stroke="#9d8bc6" stroke-width="0.9" opacity="0.5" filter="url(#cb)"/>
<path d="M247.0 543.4C261.2 535.7 265.9 552.9 277.3 564.3S294.4 552.9 313.4 554.8" stroke="#b09fd2" stroke-width="3.2" opacity="0.55" filter="url(#hb)"/>
<path d="M247.0 543.4C261.2 535.7 265.9 552.9 277.3 564.3S294.4 552.9 313.4 554.8" stroke="#9d8bc6" stroke-width="0.9" opacity="0.5" filter="url(#cb)"/>
<path d="M218.5 554.8C228.0 548.1 237.5 562.4 247.0 552.9" stroke="#b09fd2" stroke-width="3.2" opacity="0.55" filter="url(#hb)"/>
<path d="M218.5 554.8C228.0 548.1 237.5 562.4 247.0 552.9" stroke="#9d8bc6" stroke-width="0.9" opacity="0.5" filter="url(#cb)"/>
<path d="M272.6 556.0l0.1 0.1M244.8 557.8l0.1 0.9M304.7 513.5l0.7 1.5M277.1 543.7l-0.0 0.8M268.6 538.1l0.2 0.4M278.8 524.4l-0.5 0.4M265.6 500.7l-1.1 2.1M288.3 536.3l-0.0 0.3M306.6 548.6l-0.4 1.9M229.6 501.0l1.7 0.2M245.5 516.0l0.6 0.7M289.7 507.4l0.4 0.8M241.5 521.7l0.1 0.2M304.8 545.9l-0.1 0.2M283.7 579.5l1.3 0.1M278.0 560.8l-0.4 2.0M224.5 504.6l-2.2 0.2M218.8 534.8l-0.5 0.4M300.8 560.2l0.1 0.2M275.2 571.0l-1.2 1.4M261.6 577.7l-0.5 0.7M219.4 531.9l-2.0 0.9M252.8 559.3l0.3 0.7M307.4 556.2l0.4 0.6M301.3 576.1l0.7 0.5M304.8 565.2l-1.7 0.5M284.1 580.1l-0.1 0.1M245.2 522.4l-0.3 0.4M257.1 540.7l-0.2 1.8M290.4 532.7l-0.0 1.2M248.6 586.9l-1.1 1.1M250.3 590.7l-1.5 1.2M245.7 555.1l-0.8 1.7M310.2 574.9l0.6 1.8M295.3 583.9l-1.4 0.5M289.7 551.6l0.0 0.0M299.2 555.3l-0.5 2.1M240.1 504.5l1.9 0.4M273.9 550.3l1.3 0.8M242.7 525.1l-0.7 0.1M265.0 552.1l-1.7 0.4M219.1 585.2l-1.5 0.6M305.5 573.3l1.0 2.1M305.4 510.1l0.1 0.3M271.3 560.1l-0.3 0.2M226.9 580.8l-0.0 0.0M247.9 498.7l0.8 1.7M303.6 572.4l1.1 0.1M246.1 527.0l0.2 0.1M286.7 505.0l-0.9 0.6M289.8 521.5l-0.5 0.6M268.6 575.6l0.1 1.1M235.0 546.2l2.2 0.0M245.9 586.1l-1.3 0.9M240.8 497.9l-1.2 0.4M221.1 535.8l1.9 1.1M276.8 573.4l-0.0 0.7M275.4 550.3l0.3 1.8M244.0 568.3l-1.8 1.4M255.9 498.3l0.4 1.1M238.6 545.5l-1.2 1.3M249.9 572.9l-0.7 1.1M277.4 559.6l-0.9 0.1M240.0 571.8l1.7 1.2M240.7 573.4l-0.4 0.8M259.3 573.1l0.7 2.2M287.8 582.2l0.0 0.0M240.8 559.4l0.2 0.1M294.5 538.0l-0.9 0.2M227.9 568.9l1.5 1.1M245.8 521.3l-2.0 0.4M303.9 573.5l0.7 0.5M290.4 504.9l0.7 0.3M286.5 582.9l0.8 0.3M266.0 571.4l-0.7 0.6M227.4 549.6l-0.5 1.8M218.8 504.9l-2.2 0.6M260.4 515.8l0.1 0.4M235.6 589.2l0.9 0.1M275.1 583.3l-1.1 1.0M257.8 497.0l1.7 0.2M248.3 577.5l1.0 2.0M301.6 572.4l0.5 2.1M281.8 551.9l1.3 0.8M259.7 543.5l-0.6 0.8M284.1 514.5l-0.8 0.2M241.5 564.9l-0.2 1.6M312.1 567.0l0.6 0.7M274.5 574.1l-0.4 0.4M221.2 568.0l0.7 0.7M259.8 572.8l-0.4 0.4M224.4 535.5l-1.0 0.3M304.2 537.0l-0.3 0.1M252.3 520.0l-1.1 0.4M224.4 497.1l-0.2 0.4M288.6 559.6l-0.8 1.4M312.3 503.2l-1.2 0.9M250.2 512.8l0.0 0.0M286.4 508.2l-0.1 1.4M301.0 575.9l-1.6 1.4M281.8 495.8l-0.0 0.0M302.9 550.8l1.3 0.2M235.9 510.0l-0.9 2.0M230.4 518.5l-0.2 0.1M300.9 552.2l0.1 0.2M302.8 560.3l-0.8 0.5M230.2 554.1l0.1 1.0M233.5 548.0l0.2 0.2M276.7 541.1l1.9 1.0M234.8 521.9l-0.4 0.6M299.8 506.4l-0.5 0.2M280.9 541.4l1.1 0.1M256.5 555.7l1.6 1.0M276.5 563.7l-0.5 0.1M307.4 554.8l0.0 0.0M288.8 531.9l-0.3 0.2M253.2 574.7l1.7 0.2M303.6 582.4l0.8 0.4M265.8 523.2l-1.3 1.8M303.2 529.9l-0.3 0.3M290.3 582.4l0.5 0.5M231.7 506.4l0.3 2.0M297.5 519.3l0.2 0.3" stroke="#ab96d8" stroke-width="4.3" opacity="0.5" filter="url(#hb)"/>
<g stroke="#5a47b0" opacity="0.72" filter="url(#cb)">
<path d="M304.7 513.5l0.7 1.5M268.6 538.1l0.2 0.4M265.6 500.7l-1.1 2.1M306.6 548.6l-0.4 1.9M219.4 531.9l-2.0 0.9M257.1 540.7l-0.2 1.8M245.7 555.1l-0.8 1.7M265.0 552.1l-1.7 0.4M303.6 572.4l1.1 0.1M286.7 505.0l-0.9 0.6M268.6 575.6l0.1 1.1M276.8 573.4l-0.0 0.7M259.3 573.1l0.7 2.2M245.8 521.3l-2.0 0.4M303.9 573.5l0.7 0.5M286.5 582.9l0.8 0.3M227.4 549.6l-0.5 1.8M218.8 504.9l-2.2 0.6M259.7 543.5l-0.6 0.8M221.2 568.0l0.7 0.7M224.4 535.5l-1.0 0.3M312.3 503.2l-1.2 0.9M286.4 508.2l-0.1 1.4M280.9 541.4l1.1 0.1" stroke-width="1.1"/>
<path d="M272.6 556.0l0.1 0.1M289.7 507.4l0.4 0.8M304.8 545.9l-0.1 0.2M283.7 579.5l1.3 0.1M301.3 576.1l0.7 0.5M304.8 565.2l-1.7 0.5M245.2 522.4l-0.3 0.4M248.6 586.9l-1.1 1.1M295.3 583.9l-1.4 0.5M289.7 551.6l0.0 0.0M240.1 504.5l1.9 0.4M273.9 550.3l1.3 0.8M219.1 585.2l-1.5 0.6M305.5 573.3l1.0 2.1M247.9 498.7l0.8 1.7M275.4 550.3l0.3 1.8M249.9 572.9l-0.7 1.1M240.7 573.4l-0.4 0.8M240.8 559.4l0.2 0.1M227.9 568.9l1.5 1.1M260.4 515.8l0.1 0.4M275.1 583.3l-1.1 1.0M248.3 577.5l1.0 2.0M301.6 572.4l0.5 2.1M281.8 551.9l1.3 0.8M241.5 564.9l-0.2 1.6M312.1 567.0l0.6 0.7M274.5 574.1l-0.4 0.4M304.2 537.0l-0.3 0.1M288.6 559.6l-0.8 1.4M281.8 495.8l-0.0 0.0M302.9 550.8l1.3 0.2M235.9 510.0l-0.9 2.0M302.8 560.3l-0.8 0.5M230.2 554.1l0.1 1.0M276.7 541.1l1.9 1.0M307.4 554.8l0.0 0.0M253.2 574.7l1.7 0.2M231.7 506.4l0.3 2.0" stroke-width="1.5"/>
<path d="M244.8 557.8l0.1 0.9M277.1 543.7l-0.0 0.8M288.3 536.3l-0.0 0.3M229.6 501.0l1.7 0.2M245.5 516.0l0.6 0.7M241.5 521.7l0.1 0.2M278.0 560.8l-0.4 2.0M224.5 504.6l-2.2 0.2M218.8 534.8l-0.5 0.4M275.2 571.0l-1.2 1.4M261.6 577.7l-0.5 0.7M252.8 559.3l0.3 0.7M307.4 556.2l0.4 0.6M284.1 580.1l-0.1 0.1M250.3 590.7l-1.5 1.2M310.2 574.9l0.6 1.8M299.2 555.3l-0.5 2.1M242.7 525.1l-0.7 0.1M246.1 527.0l0.2 0.1M245.9 586.1l-1.3 0.9M244.0 568.3l-1.8 1.4M255.9 498.3l0.4 1.1M277.4 559.6l-0.9 0.1M287.8 582.2l0.0 0.0M294.5 538.0l-0.9 0.2M290.4 504.9l0.7 0.3M235.6 589.2l0.9 0.1M257.8 497.0l1.7 0.2M284.1 514.5l-0.8 0.2M259.8 572.8l-0.4 0.4M252.3 520.0l-1.1 0.4M224.4 497.1l-0.2 0.4M300.9 552.2l0.1 0.2M233.5 548.0l0.2 0.2M234.8 521.9l-0.4 0.6M276.5 563.7l-0.5 0.1M288.8 531.9l-0.3 0.2M265.8 523.2l-1.3 1.8M290.3 582.4l0.5 0.5" stroke-width="2.0"/>
<path d="M278.8 524.4l-0.5 0.4M300.8 560.2l0.1 0.2M290.4 532.7l-0.0 1.2M305.4 510.1l0.1 0.3M271.3 560.1l-0.3 0.2M226.9 580.8l-0.0 0.0M289.8 521.5l-0.5 0.6M235.0 546.2l2.2 0.0M240.8 497.9l-1.2 0.4M221.1 535.8l1.9 1.1M238.6 545.5l-1.2 1.3M240.0 571.8l1.7 1.2M266.0 571.4l-0.7 0.6M250.2 512.8l0.0 0.0M301.0 575.9l-1.6 1.4M230.4 518.5l-0.2 0.1M299.8 506.4l-0.5 0.2M256.5 555.7l1.6 1.0M303.6 582.4l0.8 0.4M303.2 529.9l-0.3 0.3M297.5 519.3l0.2 0.3" stroke-width="2.5"/>
</g>
<path d="M239.1 497.6h0M288.3 574.4h0M250.1 563.7h0M301.0 498.6h0M272.9 551.9h0M234.8 581.6h0M294.9 546.8h0M269.4 575.1h0M223.9 579.2h0M268.3 524.7h0M243.2 547.3h0M228.1 574.5h0M257.3 581.2h0M308.9 571.3h0M228.8 519.0h0M278.3 585.4h0M277.8 530.1h0M295.2 539.9h0M274.5 539.1h0M308.8 554.1h0M228.8 557.0h0M256.7 511.8h0M265.6 521.0h0M308.6 516.6h0M270.2 496.2h0M247.3 557.8h0M265.9 558.8h0M273.0 554.3h0M242.9 583.8h0M280.3 498.4h0M297.8 511.8h0M258.0 557.5h0M303.7 512.0h0M246.6 544.8h0M283.2 539.9h0M285.6 590.1h0M224.8 534.2h0M293.7 573.0h0M309.1 527.8h0M242.1 559.3h0M297.1 571.8h0M269.3 508.0h0M284.9 520.1h0M220.9 495.9h0M250.9 531.3h0M270.2 538.2h0M267.1 556.0h0M235.9 571.9h0M282.1 573.1h0M272.0 547.2h0M297.9 558.5h0M243.7 578.2h0M236.7 521.9h0M296.9 539.0h0M233.0 581.3h0M275.1 497.5h0M251.3 528.4h0M245.0 564.5h0M240.2 503.7h0M300.0 550.5h0M263.7 580.1h0M283.2 576.9h0M250.3 524.7h0M250.0 540.5h0M273.3 514.6h0M272.3 585.2h0M289.6 496.1h0M263.7 555.8h0M223.6 590.2h0M293.2 549.0h0M267.6 556.4h0M256.0 550.7h0M266.6 528.7h0M263.1 501.3h0M276.5 518.3h0M243.7 510.3h0M289.7 539.0h0M273.6 544.4h0M274.2 530.1h0M243.1 568.8h0M287.3 510.3h0M232.0 529.2h0M293.9 525.2h0M239.9 536.7h0M266.0 555.5h0M248.8 533.8h0M311.9 567.9h0M239.3 544.1h0M232.9 589.1h0M243.2 583.9h0M239.1 517.1h0M251.0 526.8h0M251.1 533.2h0M257.3 506.4h0M278.1 561.7h0M239.7 508.6h0M221.8 513.1h0M267.6 555.2h0M307.6 573.9h0M233.6 520.3h0M237.1 502.3h0M221.2 547.3h0M309.1 588.9h0M220.8 519.5h0M251.9 577.6h0M228.2 537.7h0M301.4 570.2h0M235.6 545.1h0M283.1 507.6h0M300.3 560.3h0" stroke="#8d7cb6" stroke-width="0.9" opacity="0.45"/>
</g>
<text x="73.2" y="484.1" font-size="10.4" text-anchor="middle" fill="#222" textLength="35.0" lengthAdjust="spacingAndGlyphs" stroke="#222" stroke-width="0.14">Control</text>
<text x="73.2" y="493.3" font-size="10.4" text-anchor="middle" fill="#222" textLength="68.5" lengthAdjust="spacingAndGlyphs" stroke="#222" stroke-width="0.14">migrated cells</text>
<path d="M35.9 486.7Q33.3 490.0 35.9 493.3M109.7 486.7Q112.3 490.0 109.7 493.3" stroke="#333" stroke-width="0.75" fill="none"/>
<text x="171.2" y="484.1" font-size="10.4" text-anchor="middle" fill="#222" textLength="55.0" lengthAdjust="spacingAndGlyphs" stroke="#222" stroke-width="0.14">Sparc-KD1</text>
<text x="171.2" y="493.3" font-size="10.4" text-anchor="middle" fill="#222" textLength="68.5" lengthAdjust="spacingAndGlyphs" stroke="#222" stroke-width="0.14">migrated cells</text>
<path d="M133.9 486.7Q131.3 490.0 133.9 493.3M207.7 486.7Q210.3 490.0 207.7 493.3" stroke="#333" stroke-width="0.75" fill="none"/>
<text x="266.5" y="484.1" font-size="10.4" text-anchor="middle" fill="#222" textLength="55.0" lengthAdjust="spacingAndGlyphs" stroke="#222" stroke-width="0.14">Sparc-KD2</text>
<text x="266.5" y="493.3" font-size="10.4" text-anchor="middle" fill="#222" textLength="68.5" lengthAdjust="spacingAndGlyphs" stroke="#222" stroke-width="0.14">migrated cells</text>
<path d="M229.2 486.7Q226.6 490.0 229.2 493.3M303.0 486.7Q305.6 490.0 303.0 493.3" stroke="#333" stroke-width="0.75" fill="none"/>
<text x="17.8" y="549.5" font-size="11" text-anchor="middle" fill="#222" textLength="49.5" lengthAdjust="spacingAndGlyphs" stroke="#222" stroke-width="0.14" transform="rotate(-90 17.8 545.5)">OL-shPF4</text>
<path d="M389.2 524.9V519.1M381.7 519.1H396.8" stroke="#2f3368" stroke-width="1.4" fill="none"/>
<rect x="373.6" y="523.9" width="31.3" height="58.1" fill="#2f3368" />
<path d="M437.2 532.0V523.6M429.9 523.6H444.6" stroke="#e9282b" stroke-width="1.4" fill="none"/>
<rect x="421.9" y="531.0" width="30.7" height="51.0" fill="#e9282b" />
<path d="M484.5 529.3V520.6M477.0 520.6H492.1" stroke="#8c2329" stroke-width="1.4" fill="none"/>
<rect x="468.9" y="528.3" width="31.3" height="53.7" fill="#8c2329" />
<path d="M357.8 463.3V582.0H515.1" stroke="#111" stroke-width="1.65" fill="none"/>
<path d="M353.3 464.0H357.8" stroke="#111" stroke-width="1.5" fill="none"/>
<text x="353.0" y="467.1" font-size="8.6" text-anchor="end" fill="#222" textLength="11.4" lengthAdjust="spacingAndGlyphs" stroke="#222" stroke-width="0.14">2.0</text>
<path d="M353.3 493.5H357.8" stroke="#111" stroke-width="1.5" fill="none"/>
<text x="353.0" y="496.6" font-size="8.6" text-anchor="end" fill="#222" textLength="11.4" lengthAdjust="spacingAndGlyphs" stroke="#222" stroke-width="0.14">1.5</text>
<path d="M353.3 523.0H357.8" stroke="#111" stroke-width="1.5" fill="none"/>
<text x="353.0" y="526.1" font-size="8.6" text-anchor="end" fill="#222" textLength="11.4" lengthAdjust="spacingAndGlyphs" stroke="#222" stroke-width="0.14">1.0</text>
<path d="M353.3 552.5H357.8" stroke="#111" stroke-width="1.5" fill="none"/>
<text x="353.0" y="555.6" font-size="8.6" text-anchor="end" fill="#222" textLength="11.4" lengthAdjust="spacingAndGlyphs" stroke="#222" stroke-width="0.14">0.5</text>
<path d="M353.3 582.0H357.8" stroke="#111" stroke-width="1.5" fill="none"/>
<text x="353.0" y="585.1" font-size="8.6" text-anchor="end" fill="#222" textLength="11.4" lengthAdjust="spacingAndGlyphs" stroke="#222" stroke-width="0.14">0.0</text>
<path d="M389.2 582.0V585.8" stroke="#111" stroke-width="1.5" fill="none"/>
<path d="M437.2 582.0V585.8" stroke="#111" stroke-width="1.5" fill="none"/>
<path d="M484.5 582.0V585.8" stroke="#111" stroke-width="1.5" fill="none"/>
<text x="337.9" y="526.8" font-size="8.6" text-anchor="middle" fill="#222" textLength="102.8" lengthAdjust="spacingAndGlyphs" stroke="#222" stroke-width="0.14" transform="rotate(-90 337.9 523.7)">Relative number of migrated cells</text>
<path d="M389.1 516V488.7H484.7V516.1" stroke="#111" stroke-width="1.1" fill="none"/>
<path d="M389.1 504.2H437.1V517.9" stroke="#111" stroke-width="1.1" fill="none"/>
<text x="436.2" y="484.9" font-size="10.8" text-anchor="middle" fill="#1a1a1a" textLength="9.4" lengthAdjust="spacingAndGlyphs" stroke="#1a1a1a" stroke-width="0.14">ns</text>
<text x="418.3" y="501.9" font-size="10.8" text-anchor="middle" fill="#1a1a1a" textLength="9.4" lengthAdjust="spacingAndGlyphs" stroke="#1a1a1a" stroke-width="0.14">ns</text>
<text x="434.7" y="470.7" font-size="10.2" text-anchor="middle" fill="#1a1a1a" textLength="47.6" lengthAdjust="spacingAndGlyphs" stroke="#1a1a1a" stroke-width="0.14">OL-shPf4</text>
<text x="386.8" y="595.7" font-size="9.2" text-anchor="middle" fill="#1a1a1a" textLength="35.1" lengthAdjust="spacingAndGlyphs" stroke="#1a1a1a" stroke-width="0.14">Control</text>
<text x="439.2" y="595.7" font-size="9.2" text-anchor="middle" fill="#1a1a1a" textLength="20.9" lengthAdjust="spacingAndGlyphs" stroke="#1a1a1a" stroke-width="0.14">KD1</text>
<text x="488.8" y="595.7" font-size="9.2" text-anchor="middle" fill="#1a1a1a" textLength="21.7" lengthAdjust="spacingAndGlyphs" stroke="#1a1a1a" stroke-width="0.14">KD2</text>
<text x="25.1" y="615.6" font-size="13.2" text-anchor="middle" fill="#1a1a1a" textLength="7.6" lengthAdjust="spacingAndGlyphs" stroke="#1a1a1a" stroke-width="0.14">G</text>
<clipPath id="tc10"><rect x="24.8" y="635.2" width="95.4" height="95.8"/></clipPath>
<rect x="24.8" y="635.2" width="95.4" height="95.8" fill="#c9bcb3" />
<g clip-path="url(#tc10)" fill="none" stroke-linecap="round">
<path d="M61.1 657.3l1.5 0.4M57.6 655.4l-0.8 0.1M61.4 705.3l2.0 0.5M99.3 698.6l1.5 1.0M66.7 650.1l0.4 0.4M63.3 708.6l0.5 0.1M30.5 710.3l0.0 2.0M29.6 714.5l0.5 1.0M63.1 707.2l0.8 1.2M36.6 722.7l0.0 0.0M118.3 640.3l-1.0 0.5M83.9 693.5l-1.9 0.5M60.7 658.7l0.2 0.1M63.6 698.7l0.5 0.5M62.5 637.3l1.8 1.4M32.1 713.6l-1.1 0.4M51.5 637.9l-1.0 0.4M61.8 638.6l-1.3 0.3M56.9 651.6l0.2 1.6M104.8 729.7l0.1 0.2M110.2 674.8l-0.2 1.5M32.9 685.9l0.0 0.0M34.3 725.8l-0.5 0.1M59.4 679.2l0.7 2.1M100.1 643.2l0.1 1.0M76.5 724.2l0.2 0.9M60.8 702.6l-0.7 0.2M84.2 710.7l-0.6 1.9M66.9 642.9l0.0 0.1M45.2 656.8l-1.5 0.7M47.8 729.8l0.1 1.3M84.2 682.4l0.6 0.3M99.5 642.0l0.2 1.0M81.9 703.5l0.0 0.6M72.3 728.2l0.2 0.1M103.2 638.1l0.1 0.1M114.6 696.3l-0.1 1.6M86.8 652.2l0.1 0.8M99.6 642.1l1.0 1.6M81.6 668.9l-2.2 0.5M112.8 722.0l0.0 0.1M39.3 717.0l0.0 0.0M103.9 718.4l-0.0 0.3M80.8 664.2l-0.7 1.5M90.8 658.1l0.4 1.1M81.5 657.5l1.4 0.4M47.3 731.7l0.9 0.6M79.1 671.1l1.3 0.9M120.1 713.5l-1.7 0.6M97.0 695.6l1.6 0.8M72.4 723.2l-0.4 0.0M65.6 636.8l1.2 0.5M80.1 668.8l-0.2 0.0M75.4 637.8l0.1 0.1M50.6 637.5l1.8 0.7M94.2 672.2l0.5 0.6M80.5 706.3l0.0 0.2M62.9 648.3l-1.4 0.0M83.8 694.6l0.8 0.6M114.0 717.2l-1.4 0.4M106.8 731.3l-0.4 0.4M77.2 636.4l-1.0 1.0M93.3 684.3l-2.0 0.5M65.1 651.8l0.1 0.4M41.3 650.4l1.6 0.9M55.4 660.6l1.1 0.2M104.6 653.9l0.3 0.2M117.7 719.3l-0.4 0.3M110.3 722.8l-0.3 0.5M51.1 716.6l1.9 0.2M57.8 651.3l-0.4 0.2M69.9 686.0l-0.3 0.7M71.0 659.4l-1.7 1.4M75.6 661.3l0.6 2.1M111.0 658.8l0.8 0.6M96.7 685.3l-0.3 1.8M38.9 718.9l-1.2 1.0M50.6 644.1l-0.2 1.3M119.7 664.5l1.6 1.7M76.7 707.3l-0.0 0.8M42.0 660.1l-1.3 0.5M88.2 675.4l2.3 0.6M103.7 641.1l1.1 1.1M26.8 682.6l-1.7 0.7M73.4 689.0l0.6 1.8M101.1 639.8l-1.5 0.9M36.2 674.0l-0.9 0.0M77.3 705.3l-0.1 2.1M108.7 644.0l0.0 0.2M91.3 715.2l1.2 1.5M33.1 700.5l-1.3 1.1M117.3 672.4l0.0 0.3M39.4 711.0l1.0 0.0M113.1 713.3l1.9 0.5M114.6 674.0l2.3 0.4M43.9 705.9l1.5 0.3M33.1 716.0l1.7 1.7M40.0 701.6l-0.8 2.0M114.8 696.1l-0.6 0.8M71.1 705.7l-0.1 0.2M46.1 637.7l1.6 1.4M33.2 721.2l0.4 0.9M55.9 658.8l1.2 0.6M37.1 659.4l-1.5 0.7M114.1 658.9l1.7 1.4M69.5 684.8l0.2 0.6" stroke="#ab96d8" stroke-width="4.3" opacity="0.5" filter="url(#hb)"/>
<g stroke="#5a47b0" opacity="0.72" filter="url(#cb)">
<path d="M36.6 722.7l0.0 0.0M32.1 713.6l-1.1 0.4M32.9 685.9l0.0 0.0M47.8 729.8l0.1 1.3M81.9 703.5l0.0 0.6M72.3 728.2l0.2 0.1M103.2 638.1l0.1 0.1M72.4 723.2l-0.4 0.0M65.6 636.8l1.2 0.5M80.5 706.3l0.0 0.2M114.0 717.2l-1.4 0.4M104.6 653.9l0.3 0.2M111.0 658.8l0.8 0.6M119.7 664.5l1.6 1.7M26.8 682.6l-1.7 0.7M46.1 637.7l1.6 1.4" stroke-width="1.1"/>
<path d="M61.1 657.3l1.5 0.4M57.6 655.4l-0.8 0.1M61.4 705.3l2.0 0.5M99.3 698.6l1.5 1.0M60.7 658.7l0.2 0.1M62.5 637.3l1.8 1.4M34.3 725.8l-0.5 0.1M59.4 679.2l0.7 2.1M76.5 724.2l0.2 0.9M84.2 710.7l-0.6 1.9M66.9 642.9l0.0 0.1M99.6 642.1l1.0 1.6M81.6 668.9l-2.2 0.5M112.8 722.0l0.0 0.1M90.8 658.1l0.4 1.1M47.3 731.7l0.9 0.6M79.1 671.1l1.3 0.9M80.1 668.8l-0.2 0.0M75.4 637.8l0.1 0.1M50.6 637.5l1.8 0.7M55.4 660.6l1.1 0.2M51.1 716.6l1.9 0.2M71.0 659.4l-1.7 1.4M42.0 660.1l-1.3 0.5M103.7 641.1l1.1 1.1M36.2 674.0l-0.9 0.0M77.3 705.3l-0.1 2.1M33.1 716.0l1.7 1.7M40.0 701.6l-0.8 2.0M114.8 696.1l-0.6 0.8M33.2 721.2l0.4 0.9M55.9 658.8l1.2 0.6M37.1 659.4l-1.5 0.7" stroke-width="1.5"/>
<path d="M66.7 650.1l0.4 0.4M63.3 708.6l0.5 0.1M30.5 710.3l0.0 2.0M29.6 714.5l0.5 1.0M63.1 707.2l0.8 1.2M118.3 640.3l-1.0 0.5M83.9 693.5l-1.9 0.5M63.6 698.7l0.5 0.5M51.5 637.9l-1.0 0.4M56.9 651.6l0.2 1.6M110.2 674.8l-0.2 1.5M45.2 656.8l-1.5 0.7M84.2 682.4l0.6 0.3M99.5 642.0l0.2 1.0M86.8 652.2l0.1 0.8M39.3 717.0l0.0 0.0M103.9 718.4l-0.0 0.3M80.8 664.2l-0.7 1.5M81.5 657.5l1.4 0.4M97.0 695.6l1.6 0.8M94.2 672.2l0.5 0.6M83.8 694.6l0.8 0.6M106.8 731.3l-0.4 0.4M93.3 684.3l-2.0 0.5M65.1 651.8l0.1 0.4M75.6 661.3l0.6 2.1M38.9 718.9l-1.2 1.0M50.6 644.1l-0.2 1.3M73.4 689.0l0.6 1.8M108.7 644.0l0.0 0.2M91.3 715.2l1.2 1.5M33.1 700.5l-1.3 1.1M117.3 672.4l0.0 0.3M113.1 713.3l1.9 0.5M114.6 674.0l2.3 0.4M71.1 705.7l-0.1 0.2M114.1 658.9l1.7 1.4" stroke-width="2.0"/>
<path d="M61.8 638.6l-1.3 0.3M104.8 729.7l0.1 0.2M100.1 643.2l0.1 1.0M60.8 702.6l-0.7 0.2M114.6 696.3l-0.1 1.6M120.1 713.5l-1.7 0.6M62.9 648.3l-1.4 0.0M77.2 636.4l-1.0 1.0M41.3 650.4l1.6 0.9M117.7 719.3l-0.4 0.3M110.3 722.8l-0.3 0.5M57.8 651.3l-0.4 0.2M69.9 686.0l-0.3 0.7M96.7 685.3l-0.3 1.8M76.7 707.3l-0.0 0.8M88.2 675.4l2.3 0.6M101.1 639.8l-1.5 0.9M39.4 711.0l1.0 0.0M43.9 705.9l1.5 0.3M69.5 684.8l0.2 0.6" stroke-width="2.5"/>
</g>
<path d="M59.8 724.0h0M91.9 714.9h0M87.5 727.4h0M97.7 635.2h0M32.5 638.9h0M110.0 655.3h0M68.9 691.2h0M46.2 661.6h0M109.1 652.7h0M104.1 680.1h0M90.6 672.8h0M89.5 702.7h0M65.1 663.9h0M65.8 706.6h0M25.8 655.1h0M58.3 702.0h0M73.3 656.7h0M108.6 690.3h0M109.7 671.6h0M115.5 690.9h0M57.8 649.9h0M101.2 651.9h0M103.2 713.0h0M37.4 704.9h0M91.7 644.1h0M97.2 726.2h0M56.8 686.0h0M64.0 658.1h0M40.2 698.8h0M117.1 647.4h0M26.9 687.0h0M50.1 718.4h0M52.8 637.4h0M54.4 674.5h0M66.1 674.5h0M52.0 727.5h0M26.1 656.6h0M103.0 654.5h0M44.8 672.6h0M85.1 714.2h0M99.9 652.2h0M113.7 652.0h0M101.8 717.5h0M35.8 671.5h0M45.1 679.3h0M99.4 712.1h0M97.1 638.1h0M52.4 723.6h0M95.1 708.3h0M41.4 650.1h0M71.5 693.6h0M36.7 719.0h0M79.4 724.1h0M111.3 673.5h0M51.1 715.3h0M72.3 692.7h0M93.5 728.9h0M73.9 679.1h0M106.6 642.5h0M66.6 656.2h0M83.1 714.0h0M65.4 655.1h0M36.4 721.5h0M80.6 724.8h0M50.4 662.6h0M41.9 696.3h0M78.3 717.3h0M81.0 667.2h0M34.6 710.5h0M115.3 666.6h0M54.6 685.5h0M60.6 706.5h0M70.6 681.4h0M60.8 659.2h0M112.9 725.6h0M44.8 671.2h0M93.4 669.1h0M66.9 689.3h0M50.6 672.3h0M93.3 725.2h0M31.0 719.1h0M33.1 698.2h0M29.8 687.4h0M46.6 712.7h0M26.8 684.3h0M116.5 686.1h0M67.0 697.4h0M100.6 700.9h0M64.5 654.9h0M99.5 683.4h0M116.1 667.7h0M54.1 679.8h0M119.1 709.8h0M52.9 701.5h0M103.3 640.7h0" stroke="#8d7cb6" stroke-width="0.9" opacity="0.45"/>
</g>
<clipPath id="tc11"><rect x="121.5" y="635.2" width="95.3" height="95.8"/></clipPath>
<rect x="121.5" y="635.2" width="95.3" height="95.8" fill="#cabdb4" />
<g clip-path="url(#tc11)" fill="none" stroke-linecap="round">
<path d="M182.4 637.6l-0.5 0.4M142.8 705.8l0.9 0.1M206.5 643.5l-0.4 0.3M124.3 656.1l-0.7 0.4M124.0 654.2l-0.3 0.5M173.4 656.3l-0.7 0.3M198.6 635.8l-0.0 0.8M188.0 667.8l-0.3 2.3M175.5 657.8l-0.3 0.0M154.3 660.5l-1.4 0.1M181.2 666.2l0.1 0.2M174.1 714.7l0.4 1.8M203.6 690.5l-0.3 0.1M125.9 657.0l-0.4 0.5M129.1 657.5l-1.0 0.7M119.3 655.7l-1.2 1.2M174.6 716.6l0.1 0.5M183.3 693.6l-0.8 2.0M189.3 670.0l-1.3 1.5M182.5 688.6l-0.6 1.0M201.8 709.5l0.6 0.8M124.6 665.4l-0.2 0.4M141.6 725.5l-1.5 0.5M151.5 698.0l0.4 1.3M208.7 679.2l0.6 0.4M145.0 689.0l0.8 1.2M177.2 721.2l0.8 0.6M142.4 730.8l-1.8 0.2M130.2 639.7l0.4 0.1M203.9 712.9l-0.6 1.4M158.2 692.3l-1.4 1.3M145.5 688.2l-0.6 0.4M186.3 646.2l0.0 0.0M193.1 708.8l-1.1 1.0M149.5 650.4l-0.4 0.9M179.0 715.9l0.6 1.6M131.6 695.1l-0.3 0.5M169.9 654.3l-1.9 0.9M136.9 726.5l1.4 1.2M209.0 692.6l1.2 0.2M132.2 670.0l2.0 0.8M198.4 658.1l-0.9 1.6M175.6 642.7l-1.4 0.2M199.3 728.9l-0.9 1.1M133.5 698.4l-1.0 0.3M137.2 685.8l-1.5 1.5M213.4 724.2l-0.7 0.7M187.2 703.5l-0.5 0.4M185.5 671.0l1.0 1.1M164.5 658.9l1.2 1.1M141.2 704.8l-0.1 0.7M128.3 695.7l0.1 0.3M207.8 717.6l1.6 0.3M118.8 658.6l0.1 0.8M190.4 719.7l0.1 0.5M144.7 680.5l2.2 0.1M130.5 698.3l0.9 0.0M160.7 718.0l0.2 0.7M199.6 658.0l-0.8 0.9M153.8 717.7l0.1 2.1M139.6 678.2l1.0 0.1M148.0 659.1l-1.3 0.9M163.7 717.7l0.0 0.4M126.3 730.9l-0.2 2.3M213.8 723.9l-0.7 1.2M137.3 681.7l1.4 0.6M159.7 640.8l0.3 0.3M215.4 660.6l0.3 0.4M164.9 675.7l-0.6 0.1M216.4 688.4l0.6 0.2M136.3 663.6l1.7 0.3M176.7 687.1l0.5 0.1M126.9 691.2l0.1 0.0M202.8 650.3l0.5 0.0M129.1 653.0l0.0 0.6M185.8 657.7l1.0 0.8M127.0 694.7l0.2 0.5M161.5 691.1l-1.0 1.0M210.6 654.8l1.6 0.9M144.2 673.1l0.3 0.0M150.1 665.5l-1.3 0.4M128.4 679.1l-0.6 0.7M216.4 642.2l-1.2 0.7M146.8 724.6l-0.2 0.2M205.3 670.6l1.3 0.5M215.3 685.0l0.8 1.6M183.8 635.9l1.5 0.3M150.0 698.8l-0.7 0.4M134.3 646.3l-0.2 0.0M137.4 665.4l0.3 2.1M154.2 701.1l-0.7 0.8M169.7 659.3l-0.5 0.4M126.3 696.0l0.2 1.8M125.7 667.2l0.7 1.2M194.5 711.2l1.9 0.5M175.0 645.9l0.1 0.6M187.4 649.5l0.8 1.4M186.0 702.8l1.7 1.1M205.0 697.1l0.6 0.6M125.3 669.5l-1.2 1.7M185.1 669.1l-0.1 1.3M204.9 728.5l-0.1 0.2M209.7 657.9l0.9 0.9M211.7 652.9l0.0 1.5M198.6 709.1l0.2 0.1M185.3 705.6l-0.3 0.5" stroke="#ab96d8" stroke-width="4.3" opacity="0.5" filter="url(#hb)"/>
<g stroke="#5a47b0" opacity="0.72" filter="url(#cb)">
<path d="M142.8 705.8l0.9 0.1M175.5 657.8l-0.3 0.0M181.2 666.2l0.1 0.2M129.1 657.5l-1.0 0.7M208.7 679.2l0.6 0.4M158.2 692.3l-1.4 1.3M169.9 654.3l-1.9 0.9M136.9 726.5l1.4 1.2M164.5 658.9l1.2 1.1M190.4 719.7l0.1 0.5M137.3 681.7l1.4 0.6M136.3 663.6l1.7 0.3M185.8 657.7l1.0 0.8M210.6 654.8l1.6 0.9M216.4 642.2l-1.2 0.7M198.6 709.1l0.2 0.1" stroke-width="1.1"/>
<path d="M182.4 637.6l-0.5 0.4M124.0 654.2l-0.3 0.5M198.6 635.8l-0.0 0.8M154.3 660.5l-1.4 0.1M125.9 657.0l-0.4 0.5M182.5 688.6l-0.6 1.0M201.8 709.5l0.6 0.8M124.6 665.4l-0.2 0.4M186.3 646.2l0.0 0.0M179.0 715.9l0.6 1.6M132.2 670.0l2.0 0.8M198.4 658.1l-0.9 1.6M141.2 704.8l-0.1 0.7M128.3 695.7l0.1 0.3M207.8 717.6l1.6 0.3M160.7 718.0l0.2 0.7M139.6 678.2l1.0 0.1M148.0 659.1l-1.3 0.9M126.3 730.9l-0.2 2.3M215.4 660.6l0.3 0.4M176.7 687.1l0.5 0.1M202.8 650.3l0.5 0.0M129.1 653.0l0.0 0.6M144.2 673.1l0.3 0.0M150.1 665.5l-1.3 0.4M146.8 724.6l-0.2 0.2M154.2 701.1l-0.7 0.8M194.5 711.2l1.9 0.5M205.0 697.1l0.6 0.6M125.3 669.5l-1.2 1.7M185.1 669.1l-0.1 1.3M204.9 728.5l-0.1 0.2" stroke-width="1.5"/>
<path d="M206.5 643.5l-0.4 0.3M124.3 656.1l-0.7 0.4M173.4 656.3l-0.7 0.3M203.6 690.5l-0.3 0.1M141.6 725.5l-1.5 0.5M151.5 698.0l0.4 1.3M145.0 689.0l0.8 1.2M177.2 721.2l0.8 0.6M142.4 730.8l-1.8 0.2M203.9 712.9l-0.6 1.4M193.1 708.8l-1.1 1.0M149.5 650.4l-0.4 0.9M131.6 695.1l-0.3 0.5M175.6 642.7l-1.4 0.2M199.3 728.9l-0.9 1.1M133.5 698.4l-1.0 0.3M137.2 685.8l-1.5 1.5M213.4 724.2l-0.7 0.7M185.5 671.0l1.0 1.1M118.8 658.6l0.1 0.8M144.7 680.5l2.2 0.1M130.5 698.3l0.9 0.0M199.6 658.0l-0.8 0.9M153.8 717.7l0.1 2.1M213.8 723.9l-0.7 1.2M159.7 640.8l0.3 0.3M164.9 675.7l-0.6 0.1M216.4 688.4l0.6 0.2M161.5 691.1l-1.0 1.0M128.4 679.1l-0.6 0.7M215.3 685.0l0.8 1.6M183.8 635.9l1.5 0.3M134.3 646.3l-0.2 0.0M126.3 696.0l0.2 1.8M175.0 645.9l0.1 0.6M187.4 649.5l0.8 1.4M186.0 702.8l1.7 1.1M209.7 657.9l0.9 0.9M211.7 652.9l0.0 1.5" stroke-width="2.0"/>
<path d="M188.0 667.8l-0.3 2.3M174.1 714.7l0.4 1.8M119.3 655.7l-1.2 1.2M174.6 716.6l0.1 0.5M183.3 693.6l-0.8 2.0M189.3 670.0l-1.3 1.5M130.2 639.7l0.4 0.1M145.5 688.2l-0.6 0.4M209.0 692.6l1.2 0.2M187.2 703.5l-0.5 0.4M163.7 717.7l0.0 0.4M126.9 691.2l0.1 0.0M127.0 694.7l0.2 0.5M205.3 670.6l1.3 0.5M150.0 698.8l-0.7 0.4M137.4 665.4l0.3 2.1M169.7 659.3l-0.5 0.4M125.7 667.2l0.7 1.2M185.3 705.6l-0.3 0.5" stroke-width="2.5"/>
</g>
<path d="M156.7 688.2h0M154.3 730.7h0M174.0 668.9h0M164.7 664.6h0M143.5 704.3h0M151.6 706.4h0M212.1 701.3h0M139.8 706.0h0M147.9 691.7h0M193.9 692.4h0M214.9 715.0h0M149.7 669.8h0M150.3 703.0h0M133.6 639.6h0M126.7 663.2h0M211.5 696.3h0M193.2 645.0h0M122.7 662.4h0M167.1 667.8h0M213.5 659.4h0M203.6 646.1h0M127.7 682.3h0M176.5 701.0h0M136.0 712.9h0M212.0 643.4h0M145.2 688.7h0M161.2 692.3h0M180.4 709.5h0M157.8 722.2h0M149.8 691.6h0M162.4 689.7h0M127.2 727.2h0M131.0 708.3h0M181.1 660.6h0M129.2 658.2h0M174.1 650.2h0M160.4 701.2h0M166.3 638.3h0M149.0 662.3h0M203.4 642.0h0M143.7 660.5h0M196.9 691.7h0M198.1 654.2h0M132.4 656.7h0M135.7 660.6h0M135.1 640.9h0M197.0 692.2h0M200.1 723.5h0M163.4 680.1h0M150.5 673.8h0M147.4 686.9h0M163.2 692.5h0M206.3 705.6h0M179.0 637.7h0M143.3 699.8h0M203.5 691.4h0M123.5 708.5h0M199.8 690.4h0M194.2 652.0h0M171.0 677.6h0M148.0 730.7h0M163.0 713.2h0M213.9 680.2h0M160.4 666.0h0M131.5 650.6h0M160.7 682.7h0M184.6 673.6h0M194.0 638.7h0M129.9 659.4h0M132.5 709.2h0M203.9 714.2h0M121.6 718.5h0M165.5 640.4h0M170.9 694.8h0M169.0 677.5h0M126.4 660.8h0M134.0 662.8h0M205.4 681.6h0M124.3 695.6h0M197.7 703.2h0M151.1 636.5h0M160.4 656.7h0M201.7 646.1h0M211.8 697.3h0M136.2 724.5h0M149.3 702.8h0M161.1 681.4h0M166.5 679.0h0M135.3 653.5h0M178.6 706.7h0M134.5 641.9h0M195.1 717.1h0M153.9 710.7h0M147.0 635.4h0M190.7 715.4h0" stroke="#8d7cb6" stroke-width="0.9" opacity="0.45"/>
</g>
<clipPath id="tc12"><rect x="218.5" y="635.2" width="94.9" height="95.8"/></clipPath>
<rect x="218.5" y="635.2" width="94.9" height="95.8" fill="#cbbeb6" />
<g clip-path="url(#tc12)" fill="none" stroke-linecap="round">
<path d="M222.2 701.9l-0.1 1.9M219.4 704.8l-1.0 0.3M217.0 702.9l1.7 0.6M277.8 725.9l0.2 0.1M308.7 672.9l1.0 1.0M223.2 699.6l-1.3 0.8M309.4 671.8l-0.4 0.4M311.3 661.3l0.2 0.5M220.3 705.1l0.2 0.0M298.1 663.6l-0.7 1.2M268.1 645.1l0.1 0.0M274.0 724.6l-0.3 1.5M227.4 694.9l-1.9 0.1M303.8 666.9l-0.4 1.6M285.0 651.2l0.2 0.6M292.6 640.0l-0.7 0.8M253.4 653.0l1.4 0.3M310.5 688.1l-0.6 0.3M296.0 637.5l0.3 0.6M259.7 680.5l-0.1 0.0M291.9 669.5l0.5 0.5M301.4 705.2l0.2 0.0M247.7 701.3l0.5 0.2M274.2 649.2l0.1 0.8M278.1 726.3l-0.0 1.2M296.5 710.0l0.4 2.1M304.4 688.2l0.9 0.7M298.6 717.3l1.2 1.2M286.1 644.1l-0.9 0.1M307.4 674.0l-0.5 0.4M273.1 660.1l-0.7 0.9M305.1 666.6l-1.4 1.6M236.1 652.2l0.7 1.7M285.5 727.6l2.0 0.2M309.5 656.5l1.5 0.9M308.6 666.3l-1.6 0.7M224.3 683.2l-0.0 0.7M216.0 703.8l0.3 1.0M305.3 717.7l-0.3 0.6M273.4 660.4l-0.3 0.7M296.6 710.2l-0.0 0.0M230.3 694.8l-0.1 0.1M258.8 636.6l1.9 0.8M249.7 660.2l0.7 0.4M225.4 684.8l-0.1 0.0M227.1 681.1l-0.1 0.6M298.0 711.3l-2.0 0.4M250.7 665.9l-0.1 0.9M300.1 667.5l-0.1 1.4M281.9 663.8l-0.8 0.0M260.6 722.6l-0.8 1.2M270.6 716.2l0.1 1.6M287.2 684.8l1.6 0.8M238.8 724.4l0.4 0.9M296.3 693.3l-0.4 0.9M310.5 668.2l-0.8 1.1M283.4 662.7l-2.1 0.0M276.5 705.1l1.0 2.0M242.8 681.8l1.2 0.6M246.7 667.9l-2.0 0.7M243.8 648.5l-0.0 0.2M252.5 670.2l1.6 0.1M284.8 678.1l-0.2 2.1M294.0 657.9l-0.1 0.5M254.0 730.5l0.5 0.8M274.8 685.7l0.4 0.4M273.8 650.5l-0.7 0.1M313.1 693.6l1.5 0.6M286.5 722.1l-0.1 0.0M265.9 722.7l0.2 0.6M236.7 651.2l0.9 1.5M252.9 645.1l0.0 0.1M266.1 729.7l0.5 0.2M271.8 652.1l-1.4 1.6M262.1 680.3l0.5 0.9M228.6 699.9l-0.5 0.3M296.2 662.7l-0.8 0.7M238.0 702.2l-1.3 1.0M270.1 681.1l-1.3 0.7M252.5 643.1l-1.3 0.8M222.6 720.6l-0.9 0.2M236.1 695.4l1.6 1.6M299.6 674.9l0.1 1.4M235.5 693.7l-0.8 1.6M295.0 708.7l0.2 0.5M222.2 645.8l-0.8 0.6M225.4 718.9l-1.1 1.3M295.2 698.2l-1.7 0.6M244.9 693.4l0.1 0.4M277.8 666.0l0.0 0.0M257.4 695.4l0.1 0.4M281.5 679.2l1.2 0.5M237.9 677.0l0.5 1.9" stroke="#ab96d8" stroke-width="4.3" opacity="0.5" filter="url(#hb)"/>
<g stroke="#5a47b0" opacity="0.72" filter="url(#cb)">
<path d="M308.7 672.9l1.0 1.0M311.3 661.3l0.2 0.5M292.6 640.0l-0.7 0.8M253.4 653.0l1.4 0.3M278.1 726.3l-0.0 1.2M305.3 717.7l-0.3 0.6M250.7 665.9l-0.1 0.9M270.6 716.2l0.1 1.6M287.2 684.8l1.6 0.8M296.3 693.3l-0.4 0.9M273.8 650.5l-0.7 0.1M286.5 722.1l-0.1 0.0M236.7 651.2l0.9 1.5M252.9 645.1l0.0 0.1M266.1 729.7l0.5 0.2M271.8 652.1l-1.4 1.6M296.2 662.7l-0.8 0.7M235.5 693.7l-0.8 1.6M295.0 708.7l0.2 0.5" stroke-width="1.1"/>
<path d="M219.4 704.8l-1.0 0.3M217.0 702.9l1.7 0.6M303.8 666.9l-0.4 1.6M285.0 651.2l0.2 0.6M259.7 680.5l-0.1 0.0M301.4 705.2l0.2 0.0M274.2 649.2l0.1 0.8M296.5 710.0l0.4 2.1M307.4 674.0l-0.5 0.4M308.6 666.3l-1.6 0.7M230.3 694.8l-0.1 0.1M258.8 636.6l1.9 0.8M225.4 684.8l-0.1 0.0M227.1 681.1l-0.1 0.6M260.6 722.6l-0.8 1.2M246.7 667.9l-2.0 0.7M243.8 648.5l-0.0 0.2M284.8 678.1l-0.2 2.1M294.0 657.9l-0.1 0.5M265.9 722.7l0.2 0.6M238.0 702.2l-1.3 1.0M299.6 674.9l0.1 1.4M222.2 645.8l-0.8 0.6M225.4 718.9l-1.1 1.3M257.4 695.4l0.1 0.4" stroke-width="1.5"/>
<path d="M222.2 701.9l-0.1 1.9M277.8 725.9l0.2 0.1M309.4 671.8l-0.4 0.4M220.3 705.1l0.2 0.0M298.1 663.6l-0.7 1.2M268.1 645.1l0.1 0.0M227.4 694.9l-1.9 0.1M310.5 688.1l-0.6 0.3M296.0 637.5l0.3 0.6M291.9 669.5l0.5 0.5M304.4 688.2l0.9 0.7M298.6 717.3l1.2 1.2M273.1 660.1l-0.7 0.9M305.1 666.6l-1.4 1.6M285.5 727.6l2.0 0.2M216.0 703.8l0.3 1.0M273.4 660.4l-0.3 0.7M298.0 711.3l-2.0 0.4M238.8 724.4l0.4 0.9M310.5 668.2l-0.8 1.1M283.4 662.7l-2.1 0.0M276.5 705.1l1.0 2.0M252.5 670.2l1.6 0.1M254.0 730.5l0.5 0.8M313.1 693.6l1.5 0.6M262.1 680.3l0.5 0.9M228.6 699.9l-0.5 0.3M270.1 681.1l-1.3 0.7M236.1 695.4l1.6 1.6M295.2 698.2l-1.7 0.6M281.5 679.2l1.2 0.5" stroke-width="2.0"/>
<path d="M223.2 699.6l-1.3 0.8M274.0 724.6l-0.3 1.5M247.7 701.3l0.5 0.2M286.1 644.1l-0.9 0.1M236.1 652.2l0.7 1.7M309.5 656.5l1.5 0.9M224.3 683.2l-0.0 0.7M296.6 710.2l-0.0 0.0M249.7 660.2l0.7 0.4M300.1 667.5l-0.1 1.4M281.9 663.8l-0.8 0.0M242.8 681.8l1.2 0.6M274.8 685.7l0.4 0.4M252.5 643.1l-1.3 0.8M222.6 720.6l-0.9 0.2M244.9 693.4l0.1 0.4M277.8 666.0l0.0 0.0M237.9 677.0l0.5 1.9" stroke-width="2.5"/>
</g>
<path d="M302.6 698.8h0M271.6 696.2h0M260.7 648.5h0M303.8 656.9h0M301.4 671.9h0M270.7 694.3h0M252.7 730.2h0M299.0 672.0h0M250.6 720.2h0M307.7 669.6h0M230.9 686.5h0M262.4 677.6h0M275.7 636.5h0M272.2 700.5h0M270.9 635.4h0M272.4 723.1h0M283.4 684.6h0M254.2 655.9h0M261.8 727.0h0M232.8 694.6h0M268.2 643.9h0M241.6 660.0h0M227.0 644.2h0M297.1 664.8h0M282.3 682.0h0M267.4 678.7h0M221.6 642.1h0M230.3 713.2h0M284.9 727.3h0M284.1 656.9h0M273.8 698.8h0M245.0 674.7h0M294.0 655.0h0M221.4 720.8h0M250.7 693.3h0M310.8 653.9h0M243.5 667.4h0M245.0 682.7h0M220.5 712.5h0M313.2 655.6h0M256.1 671.1h0M285.4 675.0h0M300.3 726.0h0M243.5 646.5h0M276.1 641.1h0M257.8 653.9h0M296.9 673.9h0M297.6 691.9h0M289.3 699.0h0M293.0 705.6h0M294.9 672.5h0M235.1 657.5h0M295.9 646.3h0M290.9 639.8h0M220.0 705.5h0M287.6 710.5h0M253.5 700.8h0M288.4 657.3h0M230.1 641.0h0M247.5 709.5h0M240.0 715.1h0M280.2 726.6h0M244.5 728.3h0M292.3 639.7h0M244.4 646.3h0M250.0 691.1h0M310.5 717.4h0M248.4 691.1h0M266.1 637.0h0M245.3 683.4h0M266.7 703.9h0M247.2 729.3h0M305.6 663.7h0M231.1 656.6h0M251.9 681.2h0M259.8 693.3h0M286.8 636.2h0M230.8 677.2h0M266.0 706.7h0M289.8 671.9h0M279.3 663.4h0M266.9 715.6h0M288.0 637.1h0" stroke="#8d7cb6" stroke-width="0.9" opacity="0.45"/>
</g>
<text x="73.2" y="624.1" font-size="10.4" text-anchor="middle" fill="#222" textLength="35.0" lengthAdjust="spacingAndGlyphs" stroke="#222" stroke-width="0.14">Control</text>
<text x="73.2" y="633.7" font-size="10.4" text-anchor="middle" fill="#222" textLength="64.2" lengthAdjust="spacingAndGlyphs" stroke="#222" stroke-width="0.14">invaded cells</text>
<path d="M38.1 627.1Q35.5 630.4 38.1 633.7M107.5 627.1Q110.1 630.4 107.5 633.7" stroke="#333" stroke-width="0.75" fill="none"/>
<text x="171.2" y="624.1" font-size="10.4" text-anchor="middle" fill="#222" textLength="55.0" lengthAdjust="spacingAndGlyphs" stroke="#222" stroke-width="0.14">Sparc-KD1</text>
<text x="171.2" y="633.7" font-size="10.4" text-anchor="middle" fill="#222" textLength="64.2" lengthAdjust="spacingAndGlyphs" stroke="#222" stroke-width="0.14">invaded cells</text>
<path d="M136.1 627.1Q133.5 630.4 136.1 633.7M205.5 627.1Q208.1 630.4 205.5 633.7" stroke="#333" stroke-width="0.75" fill="none"/>
<text x="266.5" y="624.1" font-size="10.4" text-anchor="middle" fill="#222" textLength="55.0" lengthAdjust="spacingAndGlyphs" stroke="#222" stroke-width="0.14">Sparc-KD2</text>
<text x="266.5" y="633.7" font-size="10.4" text-anchor="middle" fill="#222" textLength="64.2" lengthAdjust="spacingAndGlyphs" stroke="#222" stroke-width="0.14">invaded cells</text>
<path d="M231.4 627.1Q228.8 630.4 231.4 633.7M300.8 627.1Q303.4 630.4 300.8 633.7" stroke="#333" stroke-width="0.75" fill="none"/>
<text x="17.8" y="690.5" font-size="11" text-anchor="middle" fill="#222" textLength="50.5" lengthAdjust="spacingAndGlyphs" stroke="#222" stroke-width="0.14" transform="rotate(-90 17.8 686.5)">OL-shPF4</text>
<path d="M390.0 671.6V662.6M381.8 662.6H398.2" stroke="#2f3368" stroke-width="1.4" fill="none"/>
<rect x="373.0" y="670.6" width="34.0" height="53.3" fill="#2f3368" />
<path d="M439.5 673.4V666.1M431.5 666.1H447.4" stroke="#e9282b" stroke-width="1.4" fill="none"/>
<rect x="422.8" y="672.4" width="33.3" height="51.5" fill="#e9282b" />
<path d="M488.0 672.5V665.5M480.0 665.5H496.0" stroke="#8c2329" stroke-width="1.4" fill="none"/>
<rect x="471.3" y="671.5" width="33.4" height="52.4" fill="#8c2329" />
<path d="M358.7 616.3V723.9H519.0" stroke="#111" stroke-width="1.65" fill="none"/>
<path d="M354.2 617.0H358.7" stroke="#111" stroke-width="1.5" fill="none"/>
<text x="354.5" y="620.1" font-size="8.6" text-anchor="end" fill="#222" textLength="11.4" lengthAdjust="spacingAndGlyphs" stroke="#222" stroke-width="0.14">2.0</text>
<path d="M354.2 643.7H358.7" stroke="#111" stroke-width="1.5" fill="none"/>
<text x="354.5" y="646.8" font-size="8.6" text-anchor="end" fill="#222" textLength="11.4" lengthAdjust="spacingAndGlyphs" stroke="#222" stroke-width="0.14">1.5</text>
<path d="M354.2 670.5H358.7" stroke="#111" stroke-width="1.5" fill="none"/>
<text x="354.5" y="673.5" font-size="8.6" text-anchor="end" fill="#222" textLength="11.4" lengthAdjust="spacingAndGlyphs" stroke="#222" stroke-width="0.14">1.0</text>
<path d="M354.2 697.2H358.7" stroke="#111" stroke-width="1.5" fill="none"/>
<text x="354.5" y="700.3" font-size="8.6" text-anchor="end" fill="#222" textLength="11.4" lengthAdjust="spacingAndGlyphs" stroke="#222" stroke-width="0.14">0.5</text>
<path d="M354.2 723.9H358.7" stroke="#111" stroke-width="1.5" fill="none"/>
<text x="354.5" y="727.0" font-size="8.6" text-anchor="end" fill="#222" textLength="11.4" lengthAdjust="spacingAndGlyphs" stroke="#222" stroke-width="0.14">0.0</text>
<path d="M390.0 723.9V727.7" stroke="#111" stroke-width="1.5" fill="none"/>
<path d="M439.5 723.9V727.7" stroke="#111" stroke-width="1.5" fill="none"/>
<path d="M488.0 723.9V727.7" stroke="#111" stroke-width="1.5" fill="none"/>
<text x="337.9" y="675.3" font-size="8.6" text-anchor="middle" fill="#222" textLength="99.8" lengthAdjust="spacingAndGlyphs" stroke="#222" stroke-width="0.14" transform="rotate(-90 337.9 672.2)">Relative number of invaded cells</text>
<path d="M390 652V637.2H488.3V661.1" stroke="#111" stroke-width="1.1" fill="none"/>
<path d="M390 651.5H439.2V657.2" stroke="#111" stroke-width="1.1" fill="none"/>
<text x="438.5" y="634.0" font-size="10.8" text-anchor="middle" fill="#1a1a1a" textLength="9.4" lengthAdjust="spacingAndGlyphs" stroke="#1a1a1a" stroke-width="0.14">ns</text>
<text x="413.9" y="648.9" font-size="10.8" text-anchor="middle" fill="#1a1a1a" textLength="9.4" lengthAdjust="spacingAndGlyphs" stroke="#1a1a1a" stroke-width="0.14">ns</text>
<text x="435.1" y="621.0" font-size="10.2" text-anchor="middle" fill="#1a1a1a" textLength="46.8" lengthAdjust="spacingAndGlyphs" stroke="#1a1a1a" stroke-width="0.14">OL-shPf4</text>
<text x="387.6" y="737.3" font-size="9.2" text-anchor="middle" fill="#1a1a1a" textLength="35.8" lengthAdjust="spacingAndGlyphs" stroke="#1a1a1a" stroke-width="0.14">Control</text>
<text x="439.2" y="737.3" font-size="9.2" text-anchor="middle" fill="#1a1a1a" textLength="20.9" lengthAdjust="spacingAndGlyphs" stroke="#1a1a1a" stroke-width="0.14">KD1</text>
<text x="489.0" y="737.3" font-size="9.2" text-anchor="middle" fill="#1a1a1a" textLength="22.3" lengthAdjust="spacingAndGlyphs" stroke="#1a1a1a" stroke-width="0.14">KD2</text>
<text x="533.0" y="485.7" font-size="15.1" text-anchor="middle" fill="#1a1a1a" textLength="5.2" lengthAdjust="spacingAndGlyphs" stroke="#1a1a1a" stroke-width="0.14">J</text>
<text x="632.4" y="489.9" font-size="9.9" text-anchor="middle" fill="#1a1a1a" textLength="14.0" lengthAdjust="spacingAndGlyphs" stroke="#1a1a1a" stroke-width="0.14">OL</text>
<path d="M569.5 494.0L694.8 494.0" stroke="#000" stroke-width="1.45" fill="none"/>
<text x="564.0" y="505.1" font-size="9.9" text-anchor="end" fill="#1a1a1a" textLength="36.0" lengthAdjust="spacingAndGlyphs" stroke="#1a1a1a" stroke-width="0.14">siSparc</text>
<text x="590.2" y="505.1" font-size="9.9" text-anchor="middle" fill="#1a1a1a" textLength="15.5" lengthAdjust="spacingAndGlyphs" stroke="#1a1a1a" stroke-width="0.14">NC</text>
<text x="632.4" y="505.1" font-size="9.9" text-anchor="middle" fill="#1a1a1a" textLength="20.8" lengthAdjust="spacingAndGlyphs" stroke="#1a1a1a" stroke-width="0.14">KD1</text>
<text x="672.2" y="505.1" font-size="9.9" text-anchor="middle" fill="#1a1a1a" textLength="21.3" lengthAdjust="spacingAndGlyphs" stroke="#1a1a1a" stroke-width="0.14">KD2</text>
<clipPath id="bc3"><rect x="569.8" y="510" width="124.8" height="20.0"/></clipPath>
<rect x="569.8" y="510.0" width="124.8" height="20.0" fill="#9c9c9c" />
<g clip-path="url(#bc3)">
<rect x="569.8" y="510" width="125" height="4" fill="#777" opacity="0.6" filter="url(#hb)"/>
<rect x="569.8" y="526" width="125" height="5" fill="#858585" opacity="0.5" filter="url(#hb)"/>
<rect x="600" y="512" width="20" height="16" fill="#b0b0b0" opacity="0.5" filter="url(#hb)"/>
<rect x="648" y="512" width="14" height="16" fill="#b0b0b0" opacity="0.5" filter="url(#hb)"/>
<rect x="575.0" y="515.6" width="30.0" height="3.3" rx="2.7" ry="1.7" fill="#444" opacity="0.6" filter="url(#b1)"/>
<rect x="575.0" y="520.8" width="30.0" height="3.0" rx="2.4" ry="1.5" fill="#4a4a4a" opacity="0.55" filter="url(#b1)"/>
<rect x="618.0" y="515.9" width="28.0" height="3.2" rx="2.5" ry="1.6" fill="#333" opacity="0.6" filter="url(#b1)"/>
<rect x="618.0" y="519.2" width="28.0" height="4.6" rx="3.7" ry="2.3" fill="#1c1c1c" opacity="0.85" filter="url(#b1)"/>
<rect x="659.0" y="515.9" width="26.0" height="3.2" rx="2.5" ry="1.6" fill="#333" opacity="0.6" filter="url(#b1)"/>
<rect x="659.0" y="518.7" width="26.0" height="3.9" rx="3.1" ry="1.9" fill="#222" opacity="0.8" filter="url(#b1)"/>
</g>
<rect x="569.8" y="510" width="124.8" height="20.0" fill="none" stroke="#151515" stroke-width="1.5"/>
<clipPath id="bc4"><rect x="569.8" y="533.4" width="124.8" height="20.6"/></clipPath>
<rect x="569.8" y="533.4" width="124.8" height="20.6" fill="#c6c6c6" />
<g clip-path="url(#bc4)">
<rect x="569.8" y="533" width="125" height="4" fill="#aaa" opacity="0.6" filter="url(#hb)"/>
<rect x="569.8" y="550" width="125" height="5" fill="#adadad" opacity="0.6" filter="url(#hb)"/>
<rect x="575.0" y="540.3" width="31.0" height="4.6" rx="3.7" ry="2.3" fill="#0a0a0a" opacity="0.95" filter="url(#b1)"/>
<rect x="576.5" y="544.6" width="28.0" height="2.8" rx="2.3" ry="1.4" fill="#222" opacity="0.8" filter="url(#b1)"/>
<rect x="617.5" y="540.5" width="29.0" height="4.9" rx="3.9" ry="2.5" fill="#0a0a0a" opacity="0.95" filter="url(#b1)"/>
<rect x="619.0" y="544.9" width="26.0" height="2.6" rx="2.1" ry="1.3" fill="#222" opacity="0.75" filter="url(#b1)"/>
<rect x="658.5" y="541.0" width="27.0" height="3.5" rx="2.8" ry="1.8" fill="#151515" opacity="0.9" filter="url(#b1)"/>
</g>
<rect x="569.8" y="533.4" width="124.8" height="20.6" fill="none" stroke="#151515" stroke-width="1.5"/>
<text x="564.0" y="523.9" font-size="9.9" text-anchor="end" fill="#1a1a1a" textLength="47.0" lengthAdjust="spacingAndGlyphs" stroke="#1a1a1a" stroke-width="0.14">p-ERK1/2</text>
<text x="564.0" y="543.8" font-size="9.9" text-anchor="end" fill="#1a1a1a" textLength="36.7" lengthAdjust="spacingAndGlyphs" stroke="#1a1a1a" stroke-width="0.14">ERK1/2</text>
<text x="632.1" y="574.4" font-size="10.2" text-anchor="middle" fill="#1a1a1a" textLength="46.2" lengthAdjust="spacingAndGlyphs" stroke="#1a1a1a" stroke-width="0.14">OL-shPf4</text>
<path d="M569.5 578.9L694.8 578.9" stroke="#000" stroke-width="1.45" fill="none"/>
<text x="564.0" y="591.4" font-size="9.9" text-anchor="end" fill="#1a1a1a" textLength="36.0" lengthAdjust="spacingAndGlyphs" stroke="#1a1a1a" stroke-width="0.14">siSparc</text>
<text x="590.2" y="591.4" font-size="9.9" text-anchor="middle" fill="#1a1a1a" textLength="15.5" lengthAdjust="spacingAndGlyphs" stroke="#1a1a1a" stroke-width="0.14">NC</text>
<text x="631.1" y="591.4" font-size="9.9" text-anchor="middle" fill="#1a1a1a" textLength="22.2" lengthAdjust="spacingAndGlyphs" stroke="#1a1a1a" stroke-width="0.14">KD1</text>
<text x="672.8" y="591.4" font-size="9.9" text-anchor="middle" fill="#1a1a1a" textLength="21.7" lengthAdjust="spacingAndGlyphs" stroke="#1a1a1a" stroke-width="0.14">KD2</text>
<clipPath id="bc5"><rect x="569.8" y="594.4" width="124.8" height="20.0"/></clipPath>
<rect x="569.8" y="594.4" width="124.8" height="20.0" fill="#8e8e8e" />
<g clip-path="url(#bc5)">
<rect x="569.8" y="594" width="125" height="4" fill="#777" opacity="0.5" filter="url(#hb)"/>
<rect x="569.8" y="610" width="125" height="5" fill="#7a7a7a" opacity="0.5" filter="url(#hb)"/>
<rect x="569.8" y="598" width="125" height="4" fill="#a2a2a2" opacity="0.45" filter="url(#hb)"/>
<rect x="575.0" y="602.6" width="30.0" height="4.0" rx="3.2" ry="2.0" fill="#0c0c0c" opacity="0.95" filter="url(#b1)"/>
<rect x="617.5" y="603.0" width="29.0" height="3.5" rx="2.8" ry="1.8" fill="#111" opacity="0.92" filter="url(#b1)"/>
<rect x="657.5" y="602.3" width="29.0" height="4.2" rx="3.4" ry="2.1" fill="#0c0c0c" opacity="0.95" filter="url(#b1)"/>
</g>
<rect x="569.8" y="594.4" width="124.8" height="20.0" fill="none" stroke="#151515" stroke-width="1.5"/>
<clipPath id="bc6"><rect x="569.8" y="618.6" width="124.8" height="21.0"/></clipPath>
<rect x="569.8" y="618.6" width="124.8" height="21.0" fill="#959595" />
<g clip-path="url(#bc6)">
<rect x="569.8" y="618" width="125" height="4" fill="#808080" opacity="0.5" filter="url(#hb)"/>
<rect x="569.8" y="635" width="125" height="5" fill="#7f7f7f" opacity="0.5" filter="url(#hb)"/>
<rect x="574.5" y="625.9" width="31.0" height="2.6" rx="2.1" ry="1.3" fill="#111" opacity="0.92" filter="url(#b1)"/>
<rect x="574.5" y="630.4" width="31.0" height="2.5" rx="2.0" ry="1.2" fill="#1c1c1c" opacity="0.85" filter="url(#b1)"/>
<rect x="617.0" y="625.9" width="30.0" height="2.6" rx="2.1" ry="1.3" fill="#111" opacity="0.92" filter="url(#b1)"/>
<rect x="617.0" y="630.4" width="30.0" height="2.5" rx="2.0" ry="1.2" fill="#1c1c1c" opacity="0.85" filter="url(#b1)"/>
<rect x="657.0" y="625.9" width="30.0" height="2.6" rx="2.1" ry="1.3" fill="#111" opacity="0.92" filter="url(#b1)"/>
<rect x="657.0" y="630.4" width="30.0" height="2.5" rx="2.0" ry="1.2" fill="#1c1c1c" opacity="0.85" filter="url(#b1)"/>
</g>
<rect x="569.8" y="618.6" width="124.8" height="21.0" fill="none" stroke="#151515" stroke-width="1.5"/>
<text x="564.0" y="608.0" font-size="9.9" text-anchor="end" fill="#1a1a1a" textLength="47.0" lengthAdjust="spacingAndGlyphs" stroke="#1a1a1a" stroke-width="0.14">p-ERK1/2</text>
<text x="564.0" y="631.0" font-size="9.9" text-anchor="end" fill="#1a1a1a" textLength="36.7" lengthAdjust="spacingAndGlyphs" stroke="#1a1a1a" stroke-width="0.14">ERK1/2</text>
<text x="632.1" y="661.0" font-size="10.2" text-anchor="middle" fill="#1a1a1a" textLength="46.2" lengthAdjust="spacingAndGlyphs" stroke="#1a1a1a" stroke-width="0.14">OL-shPf4</text>
<path d="M569.5 665.1L694.8 665.1" stroke="#000" stroke-width="1.45" fill="none"/>
<text x="564.8" y="677.5" font-size="9.9" text-anchor="end" fill="#1a1a1a" textLength="21.6" lengthAdjust="spacingAndGlyphs" stroke="#1a1a1a" stroke-width="0.14">rPF4</text>
<path d="M576.4 672.8L590.2 672.8" stroke="#333" stroke-width="1.0" fill="none"/>
<path d="M608.8 672.2H616.0M612.4 669.4V675" stroke="#222" stroke-width="1.5" fill="none"/>
<path d="M642.5 672.2H649.7M646.1 669.4V675" stroke="#222" stroke-width="1.5" fill="none"/>
<path d="M676.5 672.2H683.7M680.1 669.4V675" stroke="#222" stroke-width="1.5" fill="none"/>
<text x="564.0" y="691.4" font-size="9.9" text-anchor="end" fill="#1a1a1a" textLength="36.0" lengthAdjust="spacingAndGlyphs" stroke="#1a1a1a" stroke-width="0.14">siSparc</text>
<text x="584.3" y="691.4" font-size="9.9" text-anchor="middle" fill="#1a1a1a" textLength="15.8" lengthAdjust="spacingAndGlyphs" stroke="#1a1a1a" stroke-width="0.14">NC</text>
<text x="616.6" y="691.4" font-size="9.9" text-anchor="middle" fill="#1a1a1a" textLength="15.2" lengthAdjust="spacingAndGlyphs" stroke="#1a1a1a" stroke-width="0.14">NC</text>
<text x="645.8" y="691.4" font-size="9.9" text-anchor="middle" fill="#1a1a1a" textLength="21.6" lengthAdjust="spacingAndGlyphs" stroke="#1a1a1a" stroke-width="0.14">KD1</text>
<text x="679.4" y="691.4" font-size="9.9" text-anchor="middle" fill="#1a1a1a" textLength="20.8" lengthAdjust="spacingAndGlyphs" stroke="#1a1a1a" stroke-width="0.14">KD2</text>
<clipPath id="bc7"><rect x="569.8" y="697" width="124.8" height="20.0"/></clipPath>
<rect x="569.8" y="697.0" width="124.8" height="20.0" fill="#7e7e7e" />
<g clip-path="url(#bc7)">
<rect x="569.8" y="697" width="125" height="3" fill="#5a5a5a" opacity="0.6" filter="url(#hb)"/>
<rect x="569.8" y="711" width="125" height="7" fill="#505050" opacity="0.65" filter="url(#hb)"/>
<rect x="600" y="699" width="14" height="14" fill="#a4a4a4" opacity="0.55" filter="url(#hb)"/>
<rect x="628" y="699" width="10" height="14" fill="#a0a0a0" opacity="0.5" filter="url(#hb)"/>
<rect x="660" y="699" width="8" height="12" fill="#999" opacity="0.4" filter="url(#hb)"/>
<rect x="574.0" y="703.5" width="22.0" height="3.3" rx="2.7" ry="1.7" fill="#111" opacity="0.92" filter="url(#b1)"/>
<rect x="608.0" y="704.9" width="18.0" height="2.6" rx="2.1" ry="1.3" fill="#555" opacity="0.4" filter="url(#b1)"/>
<rect x="637.0" y="704.5" width="20.0" height="2.6" rx="2.1" ry="1.3" fill="#3a3a3a" opacity="0.6" filter="url(#b1)"/>
<rect x="667.0" y="703.9" width="22.0" height="3.3" rx="2.7" ry="1.7" fill="#2a2a2a" opacity="0.75" filter="url(#b1)"/>
<rect x="678.0" y="705.8" width="10.0" height="4.4" rx="3.5" ry="2.2" fill="#2a2a2a" opacity="0.5" filter="url(#b1)"/>
</g>
<rect x="569.8" y="697" width="124.8" height="20.0" fill="none" stroke="#151515" stroke-width="1.5"/>
<clipPath id="bc8"><rect x="569.8" y="720.4" width="124.8" height="20.8"/></clipPath>
<rect x="569.8" y="720.4" width="124.8" height="20.8" fill="#a6a6a6" />
<g clip-path="url(#bc8)">
<rect x="569.8" y="720" width="125" height="3" fill="#8a8a8a" opacity="0.5" filter="url(#hb)"/>
<rect x="569.8" y="738" width="125" height="4" fill="#8a8a8a" opacity="0.5" filter="url(#hb)"/>
<rect x="573.5" y="725.3" width="23.0" height="3.0" rx="2.4" ry="1.5" fill="#111" opacity="0.92" filter="url(#b1)"/>
<rect x="573.5" y="732.8" width="23.0" height="2.8" rx="2.3" ry="1.4" fill="#1a1a1a" opacity="0.88" filter="url(#b1)"/>
<rect x="574.0" y="728.3" width="22.0" height="4.4" rx="3.5" ry="2.2" fill="#666" opacity="0.5" filter="url(#b1)"/>
<rect x="606.0" y="725.3" width="22.0" height="3.0" rx="2.4" ry="1.5" fill="#222" opacity="0.85" filter="url(#b1)"/>
<rect x="606.0" y="733.0" width="22.0" height="2.8" rx="2.3" ry="1.4" fill="#333" opacity="0.75" filter="url(#b1)"/>
<rect x="606.0" y="728.3" width="22.0" height="4.4" rx="3.5" ry="2.2" fill="#666" opacity="0.5" filter="url(#b1)"/>
<rect x="637.0" y="725.3" width="22.0" height="3.0" rx="2.4" ry="1.5" fill="#1a1a1a" opacity="0.88" filter="url(#b1)"/>
<rect x="637.0" y="732.8" width="22.0" height="2.8" rx="2.3" ry="1.4" fill="#222" opacity="0.85" filter="url(#b1)"/>
<rect x="637.0" y="728.3" width="22.0" height="4.4" rx="3.5" ry="2.2" fill="#666" opacity="0.5" filter="url(#b1)"/>
<rect x="668.5" y="725.3" width="23.0" height="3.0" rx="2.4" ry="1.5" fill="#111" opacity="0.92" filter="url(#b1)"/>
<rect x="668.5" y="732.8" width="23.0" height="2.8" rx="2.3" ry="1.4" fill="#1a1a1a" opacity="0.88" filter="url(#b1)"/>
<rect x="669.0" y="728.3" width="22.0" height="4.4" rx="3.5" ry="2.2" fill="#666" opacity="0.5" filter="url(#b1)"/>
</g>
<rect x="569.8" y="720.4" width="124.8" height="20.8" fill="none" stroke="#151515" stroke-width="1.5"/>
<clipPath id="bc9"><rect x="569.8" y="744.6" width="124.8" height="21.0"/></clipPath>
<rect x="569.8" y="744.6" width="124.8" height="21.0" fill="#a2a2a2" />
<g clip-path="url(#bc9)">
<rect x="569.8" y="744" width="125" height="4" fill="#8a8a8a" opacity="0.5" filter="url(#hb)"/>
<rect x="569.8" y="761" width="125" height="5" fill="#858585" opacity="0.6" filter="url(#hb)"/>
<rect x="573.5" y="750.9" width="23.0" height="5.8" rx="4.6" ry="2.9" fill="#060606" opacity="0.98" filter="url(#b1)"/>
<rect x="605.2" y="751.1" width="21.6" height="5.5" rx="4.4" ry="2.7" fill="#060606" opacity="0.98" filter="url(#b1)"/>
<rect x="635.0" y="751.1" width="22.0" height="5.5" rx="4.4" ry="2.7" fill="#060606" opacity="0.98" filter="url(#b1)"/>
<rect x="665.3" y="750.9" width="22.4" height="5.8" rx="4.6" ry="2.9" fill="#060606" opacity="0.98" filter="url(#b1)"/>
</g>
<rect x="569.8" y="744.6" width="124.8" height="21.0" fill="none" stroke="#151515" stroke-width="1.5"/>
<text x="564.0" y="710.2" font-size="9.9" text-anchor="end" fill="#1a1a1a" textLength="47.0" lengthAdjust="spacingAndGlyphs" stroke="#1a1a1a" stroke-width="0.14">p-ERK1/2</text>
<text x="564.0" y="734.8" font-size="9.9" text-anchor="end" fill="#1a1a1a" textLength="36.7" lengthAdjust="spacingAndGlyphs" stroke="#1a1a1a" stroke-width="0.14">ERK1/2</text>
<text x="564.0" y="757.8" font-size="9.9" text-anchor="end" fill="#1a1a1a" textLength="38.7" lengthAdjust="spacingAndGlyphs" stroke="#1a1a1a" stroke-width="0.14">GAPDH</text>
<text x="25.4" y="757.3" font-size="13.6" text-anchor="middle" fill="#1a1a1a" textLength="6.7" lengthAdjust="spacingAndGlyphs" stroke="#1a1a1a" stroke-width="0.14">H</text>
<clipPath id="tc13"><rect x="24.8" y="778.3" width="111.8" height="104.3"/></clipPath>
<rect x="24.8" y="778.3" width="111.8" height="104.3" fill="#cabdb9" />
<g clip-path="url(#tc13)" fill="none" stroke-linecap="round">
<path d="M52.0 830.7l0.4 0.2M53.0 828.9l0.2 1.0M86.1 826.7l-0.7 0.5M83.3 814.0l0.0 0.0M68.0 807.3l-0.0 0.0M25.7 790.2l-0.7 0.1M28.4 848.8l-0.3 0.6M63.6 809.6l0.3 0.4M113.5 867.6l0.6 0.0M110.2 781.4l1.0 1.0M43.6 779.6l-0.0 0.0M55.2 824.6l-0.4 0.0M91.0 796.5l-0.1 0.6M76.7 780.0l0.1 0.9M71.2 799.3l-1.0 0.9M37.3 872.6l0.1 0.0M44.8 815.7l-0.4 0.1M37.9 857.9l1.0 0.7M134.6 864.9l0.1 0.0M136.3 875.5l-0.0 0.0M85.1 832.9l0.4 0.3M128.3 864.9l0.0 0.1M27.9 822.2l-1.2 0.8M136.4 862.8l0.2 0.8M55.9 872.8l0.8 1.1M78.9 862.9l-0.2 0.6M60.9 810.4l-0.2 0.1M74.4 799.5l0.3 0.2M104.7 804.7l-0.5 0.2M86.3 870.5l0.2 0.6M44.8 809.4l0.2 0.6M107.2 848.1l-0.0 0.9M60.4 807.1l0.3 0.5M132.1 807.8l0.3 0.1M99.5 854.3l-0.2 0.6M26.7 859.2l-0.3 0.6M112.3 881.3l0.5 1.1M69.8 867.7l-0.9 0.2M60.6 837.9l0.4 0.2M101.5 835.9l-1.4 0.1M107.8 812.1l-0.7 0.5M25.4 792.0l-0.4 0.1M48.9 821.3l0.5 0.4M26.3 859.9l0.7 0.0M128.8 857.1l0.3 0.8M107.4 806.0l-0.6 0.1M112.4 793.1l-0.2 0.3M55.5 855.3l-1.1 0.7M90.8 778.5l0.5 0.4M73.5 854.5l0.6 1.3M36.8 837.5l-0.1 1.2M128.4 842.3l-0.2 0.6M110.8 795.0l-0.4 0.1M89.8 844.6l0.4 1.3M129.4 807.2l0.0 0.1M30.9 826.1l1.0 0.2M86.4 783.1l0.7 0.9M33.5 798.6l-0.2 0.0M65.6 805.4l-0.5 0.6M116.5 815.5l0.3 0.4M130.7 829.0l0.0 1.3M64.8 807.6l-1.0 0.1M56.6 874.5l0.3 0.5M106.0 793.1l-0.4 0.2M77.4 780.0l0.2 0.1M50.0 819.4l0.8 1.2M60.9 838.1l0.7 0.2M29.2 794.1l0.8 0.0M87.2 818.2l-0.6 0.5M78.5 778.0l-0.7 0.1M74.4 783.0l0.4 0.3M61.4 852.2l1.0 0.5M51.7 819.0l-0.2 0.4M109.3 879.1l-0.3 0.2M71.3 783.0l0.3 0.2M30.5 799.3l-0.3 0.1M96.4 876.6l-0.7 0.7M62.7 803.9l0.7 0.5M108.4 809.6l1.0 0.1M80.8 857.4l1.3 0.6M26.1 823.5l-0.6 0.7M61.8 810.2l0.3 1.1M89.4 845.9l0.5 0.9M91.6 790.5l-0.9 1.0M70.5 801.6l-0.2 1.3M43.6 850.6l0.7 0.1M64.5 862.9l0.4 0.5M48.6 787.9l-0.5 0.4M112.1 843.6l-0.6 1.2M56.5 783.7l-0.1 0.0M61.3 789.2l-0.6 0.5M94.0 808.1l0.0 1.0M92.9 880.3l-0.1 0.1M108.4 846.4l0.7 1.2M50.6 847.5l-0.0 0.1M110.5 827.4l0.1 0.3M122.3 874.7l-0.7 0.2M106.0 806.8l-0.6 0.3M55.5 874.7l0.3 0.3M52.8 865.2l0.6 0.0M98.0 813.3l-1.1 0.7M117.1 840.2l-0.4 0.0M55.8 857.1l0.0 0.3M55.4 836.8l-0.1 0.7M59.1 872.0l-0.5 0.3M29.2 785.1l0.3 0.0M57.1 870.7l1.1 0.5M57.4 852.8l1.0 0.2M114.3 778.8l-0.1 1.3M136.6 825.5l0.4 0.3M62.4 793.0l-0.0 0.0M66.3 834.6l-0.2 0.4M51.9 780.6l0.2 1.2M109.9 858.1l0.0 0.0M62.2 843.7l-0.0 0.2M108.2 832.5l-0.2 1.0M120.3 790.5l1.1 0.4M83.3 867.3l0.2 0.2M122.8 798.9l-0.1 1.3M52.4 802.0l-0.2 0.2M134.3 876.2l-0.3 0.2M58.2 786.1l0.0 1.3M86.0 802.3l1.1 0.5M74.3 795.1l-0.7 0.4M111.2 812.3l-0.3 0.7M89.0 795.6l-0.7 0.6M46.2 791.6l1.0 0.6M25.5 826.4l0.0 1.0M63.3 844.1l0.3 0.1M55.6 781.9l0.4 0.1M50.1 823.6l0.2 1.4M112.6 784.2l0.1 0.0M28.1 841.7l-0.0 0.1M64.5 802.8l-0.7 1.3M47.8 848.0l0.0 0.0M27.6 838.7l0.3 0.2M87.6 795.8l-0.3 0.4M111.2 853.8l-0.0 0.6M110.0 803.0l0.2 0.6M115.6 834.7l-1.0 0.6M67.1 845.2l-0.6 0.1M38.3 836.7l-0.2 1.0M27.5 878.5l0.1 0.0M70.9 795.0l0.0 0.1M69.8 804.2l-0.0 0.4M95.8 882.3l-0.3 1.0M56.7 854.2l-0.3 0.3M71.6 795.3l-0.7 0.4M64.7 863.9l0.9 0.0M66.8 881.9l0.3 0.2M122.2 838.6l0.8 0.5M39.8 799.7l-0.1 0.8M110.9 815.3l-1.1 0.3M42.4 819.3l0.5 0.2M116.9 801.6l-0.1 0.6M118.4 800.0l0.2 0.0M27.0 817.6l0.9 0.3M92.0 809.1l-0.1 0.4M33.6 858.5l-0.1 0.0M111.2 789.5l-1.1 0.3M58.9 851.1l-0.4 0.3M37.1 840.9l-0.3 0.8M124.6 821.6l0.4 0.3M97.1 884.2l0.3 1.3M69.2 787.7l0.2 0.1M74.4 871.1l1.2 0.1M73.9 816.0l0.2 0.1M107.3 841.2l-0.9 0.4M26.5 814.8l0.5 1.1M130.5 855.1l0.2 0.0M52.0 797.4l-0.1 0.3M112.8 876.0l0.3 1.0M45.9 869.4l0.1 0.3M121.0 852.8l1.0 0.5M49.4 843.6l-0.4 1.2M63.8 788.5l0.5 0.2M125.0 848.8l1.0 0.6M129.3 835.0l-0.3 0.3M30.7 778.7l0.2 0.3M101.3 863.9l1.0 0.2M48.2 781.4l-0.1 0.0M91.4 783.6l0.2 0.2M62.9 804.2l-0.3 0.7M46.8 868.0l-0.5 0.0M70.5 784.1l-1.2 0.1M104.5 812.2l-0.1 0.0M24.9 796.4l0.3 0.3M70.7 831.7l0.0 0.0M50.7 820.9l0.4 0.8M53.3 822.3l0.2 0.0M114.1 855.2l0.4 0.5M26.2 786.1l-0.5 0.2M107.1 783.8l0.6 0.9M87.3 814.8l-1.4 0.2M119.3 835.0l1.2 0.5M62.8 853.0l-0.8 0.3M123.8 807.2l-0.5 0.3M114.3 841.9l-0.2 0.4M120.9 800.2l-0.8 0.4M98.7 803.1l0.6 1.0M130.8 823.4l0.8 0.0M89.5 795.5l-0.2 0.2M136.1 787.2l-0.1 0.0M101.1 828.3l0.3 0.2M45.5 862.4l-0.2 0.9M42.2 836.9l-0.2 0.4M67.3 869.8l0.7 0.4M100.9 836.9l0.2 0.1M112.4 843.2l-0.2 0.0M96.5 798.4l-0.4 0.3M123.3 879.6l0.4 0.7M49.1 872.5l0.5 0.2M123.3 806.2l-1.4 0.1M39.5 803.5l0.8 0.5M36.7 779.0l-0.7 0.6M35.0 867.7l-0.1 1.2M105.6 847.9l0.4 0.1M102.1 838.8l0.5 0.6M98.1 841.9l-0.3 1.2M55.6 784.4l-0.3 0.6M64.6 881.9l0.3 0.2M106.1 842.6l-0.2 0.4M65.8 807.4l0.2 0.1M73.6 783.6l0.8 1.0M131.0 827.2l0.5 0.0M44.1 786.4l-0.2 0.1M103.8 812.3l1.0 0.7M99.5 815.9l-0.1 0.6M134.2 827.3l1.0 1.0M59.3 881.7l-0.1 0.4" stroke="#ab96d8" stroke-width="4.1" opacity="0.5" filter="url(#hb)"/>
<g stroke="#5c48b2" opacity="0.72" filter="url(#cb)">
<path d="M110.2 781.4l1.0 1.0M43.6 779.6l-0.0 0.0M55.2 824.6l-0.4 0.0M91.0 796.5l-0.1 0.6M128.3 864.9l0.0 0.1M107.8 812.1l-0.7 0.5M25.4 792.0l-0.4 0.1M26.3 859.9l0.7 0.0M55.5 855.3l-1.1 0.7M110.8 795.0l-0.4 0.1M129.4 807.2l0.0 0.1M130.7 829.0l0.0 1.3M60.9 838.1l0.7 0.2M80.8 857.4l1.3 0.6M26.1 823.5l-0.6 0.7M91.6 790.5l-0.9 1.0M64.5 862.9l0.4 0.5M56.5 783.7l-0.1 0.0M92.9 880.3l-0.1 0.1M98.0 813.3l-1.1 0.7M55.8 857.1l0.0 0.3M136.6 825.5l0.4 0.3M62.4 793.0l-0.0 0.0M51.9 780.6l0.2 1.2M108.2 832.5l-0.2 1.0M64.7 863.9l0.9 0.0M125.0 848.8l1.0 0.6M107.1 783.8l0.6 0.9M62.8 853.0l-0.8 0.3M42.2 836.9l-0.2 0.4M123.3 806.2l-1.4 0.1M35.0 867.7l-0.1 1.2M73.6 783.6l0.8 1.0M134.2 827.3l1.0 1.0" stroke-width="1.0"/>
<path d="M53.0 828.9l0.2 1.0M83.3 814.0l0.0 0.0M68.0 807.3l-0.0 0.0M134.6 864.9l0.1 0.0M136.3 875.5l-0.0 0.0M27.9 822.2l-1.2 0.8M136.4 862.8l0.2 0.8M74.4 799.5l0.3 0.2M104.7 804.7l-0.5 0.2M107.2 848.1l-0.0 0.9M60.4 807.1l0.3 0.5M132.1 807.8l0.3 0.1M99.5 854.3l-0.2 0.6M26.7 859.2l-0.3 0.6M60.6 837.9l0.4 0.2M101.5 835.9l-1.4 0.1M128.8 857.1l0.3 0.8M90.8 778.5l0.5 0.4M73.5 854.5l0.6 1.3M36.8 837.5l-0.1 1.2M89.8 844.6l0.4 1.3M86.4 783.1l0.7 0.9M33.5 798.6l-0.2 0.0M64.8 807.6l-1.0 0.1M77.4 780.0l0.2 0.1M50.0 819.4l0.8 1.2M87.2 818.2l-0.6 0.5M78.5 778.0l-0.7 0.1M51.7 819.0l-0.2 0.4M71.3 783.0l0.3 0.2M30.5 799.3l-0.3 0.1M96.4 876.6l-0.7 0.7M108.4 809.6l1.0 0.1M89.4 845.9l0.5 0.9M70.5 801.6l-0.2 1.3M48.6 787.9l-0.5 0.4M112.1 843.6l-0.6 1.2M50.6 847.5l-0.0 0.1M55.5 874.7l0.3 0.3M59.1 872.0l-0.5 0.3M114.3 778.8l-0.1 1.3M66.3 834.6l-0.2 0.4M109.9 858.1l0.0 0.0M62.2 843.7l-0.0 0.2M122.8 798.9l-0.1 1.3M58.2 786.1l0.0 1.3M46.2 791.6l1.0 0.6M50.1 823.6l0.2 1.4M112.6 784.2l0.1 0.0M28.1 841.7l-0.0 0.1M110.0 803.0l0.2 0.6M115.6 834.7l-1.0 0.6M70.9 795.0l0.0 0.1M110.9 815.3l-1.1 0.3M42.4 819.3l0.5 0.2M116.9 801.6l-0.1 0.6M33.6 858.5l-0.1 0.0M111.2 789.5l-1.1 0.3M58.9 851.1l-0.4 0.3M37.1 840.9l-0.3 0.8M124.6 821.6l0.4 0.3M26.5 814.8l0.5 1.1M130.5 855.1l0.2 0.0M52.0 797.4l-0.1 0.3M121.0 852.8l1.0 0.5M49.4 843.6l-0.4 1.2M91.4 783.6l0.2 0.2M70.5 784.1l-1.2 0.1M70.7 831.7l0.0 0.0M50.7 820.9l0.4 0.8M114.1 855.2l0.4 0.5M123.8 807.2l-0.5 0.3M89.5 795.5l-0.2 0.2M100.9 836.9l0.2 0.1M36.7 779.0l-0.7 0.6M105.6 847.9l0.4 0.1M98.1 841.9l-0.3 1.2M103.8 812.3l1.0 0.7M99.5 815.9l-0.1 0.6" stroke-width="1.4"/>
<path d="M52.0 830.7l0.4 0.2M86.1 826.7l-0.7 0.5M25.7 790.2l-0.7 0.1M71.2 799.3l-1.0 0.9M37.3 872.6l0.1 0.0M44.8 815.7l-0.4 0.1M37.9 857.9l1.0 0.7M86.3 870.5l0.2 0.6M69.8 867.7l-0.9 0.2M48.9 821.3l0.5 0.4M112.4 793.1l-0.2 0.3M30.9 826.1l1.0 0.2M65.6 805.4l-0.5 0.6M116.5 815.5l0.3 0.4M29.2 794.1l0.8 0.0M74.4 783.0l0.4 0.3M61.4 852.2l1.0 0.5M109.3 879.1l-0.3 0.2M62.7 803.9l0.7 0.5M61.8 810.2l0.3 1.1M61.3 789.2l-0.6 0.5M94.0 808.1l0.0 1.0M110.5 827.4l0.1 0.3M106.0 806.8l-0.6 0.3M55.4 836.8l-0.1 0.7M83.3 867.3l0.2 0.2M52.4 802.0l-0.2 0.2M74.3 795.1l-0.7 0.4M111.2 812.3l-0.3 0.7M25.5 826.4l0.0 1.0M63.3 844.1l0.3 0.1M55.6 781.9l0.4 0.1M64.5 802.8l-0.7 1.3M47.8 848.0l0.0 0.0M87.6 795.8l-0.3 0.4M27.5 878.5l0.1 0.0M56.7 854.2l-0.3 0.3M71.6 795.3l-0.7 0.4M66.8 881.9l0.3 0.2M122.2 838.6l0.8 0.5M39.8 799.7l-0.1 0.8M27.0 817.6l0.9 0.3M92.0 809.1l-0.1 0.4M97.1 884.2l0.3 1.3M74.4 871.1l1.2 0.1M73.9 816.0l0.2 0.1M112.8 876.0l0.3 1.0M63.8 788.5l0.5 0.2M129.3 835.0l-0.3 0.3M62.9 804.2l-0.3 0.7M46.8 868.0l-0.5 0.0M104.5 812.2l-0.1 0.0M24.9 796.4l0.3 0.3M98.7 803.1l0.6 1.0M130.8 823.4l0.8 0.0M101.1 828.3l0.3 0.2M45.5 862.4l-0.2 0.9M67.3 869.8l0.7 0.4M123.3 879.6l0.4 0.7M49.1 872.5l0.5 0.2M106.1 842.6l-0.2 0.4M131.0 827.2l0.5 0.0M44.1 786.4l-0.2 0.1M59.3 881.7l-0.1 0.4" stroke-width="1.9"/>
<path d="M28.4 848.8l-0.3 0.6M63.6 809.6l0.3 0.4M113.5 867.6l0.6 0.0M76.7 780.0l0.1 0.9M85.1 832.9l0.4 0.3M55.9 872.8l0.8 1.1M78.9 862.9l-0.2 0.6M60.9 810.4l-0.2 0.1M44.8 809.4l0.2 0.6M112.3 881.3l0.5 1.1M107.4 806.0l-0.6 0.1M128.4 842.3l-0.2 0.6M56.6 874.5l0.3 0.5M106.0 793.1l-0.4 0.2M43.6 850.6l0.7 0.1M108.4 846.4l0.7 1.2M122.3 874.7l-0.7 0.2M52.8 865.2l0.6 0.0M117.1 840.2l-0.4 0.0M29.2 785.1l0.3 0.0M57.1 870.7l1.1 0.5M57.4 852.8l1.0 0.2M120.3 790.5l1.1 0.4M134.3 876.2l-0.3 0.2M86.0 802.3l1.1 0.5M89.0 795.6l-0.7 0.6M27.6 838.7l0.3 0.2M111.2 853.8l-0.0 0.6M67.1 845.2l-0.6 0.1M38.3 836.7l-0.2 1.0M69.8 804.2l-0.0 0.4M95.8 882.3l-0.3 1.0M118.4 800.0l0.2 0.0M69.2 787.7l0.2 0.1M107.3 841.2l-0.9 0.4M45.9 869.4l0.1 0.3M30.7 778.7l0.2 0.3M101.3 863.9l1.0 0.2M48.2 781.4l-0.1 0.0M53.3 822.3l0.2 0.0M26.2 786.1l-0.5 0.2M87.3 814.8l-1.4 0.2M119.3 835.0l1.2 0.5M114.3 841.9l-0.2 0.4M120.9 800.2l-0.8 0.4M136.1 787.2l-0.1 0.0M112.4 843.2l-0.2 0.0M96.5 798.4l-0.4 0.3M39.5 803.5l0.8 0.5M102.1 838.8l0.5 0.6M55.6 784.4l-0.3 0.6M64.6 881.9l0.3 0.2M65.8 807.4l0.2 0.1" stroke-width="2.4"/>
</g>
<path d="M31.7 807.5h0M135.9 820.1h0M80.4 847.7h0M119.5 854.6h0M42.6 863.0h0M106.9 871.4h0M128.7 809.7h0M73.1 840.9h0M87.3 801.2h0M116.6 778.6h0M46.7 797.9h0M77.9 783.2h0M80.0 847.5h0M98.2 858.8h0M26.0 786.0h0M118.7 844.7h0M114.0 810.1h0M121.6 808.1h0M32.8 808.3h0M73.3 856.2h0M129.7 865.8h0M76.8 857.6h0M59.1 809.2h0M85.1 794.8h0M107.3 849.0h0M86.1 875.8h0M119.1 879.0h0M68.4 778.7h0M111.2 881.1h0M130.8 819.3h0M66.7 783.3h0M43.8 854.0h0M70.6 831.7h0M56.5 821.3h0M29.8 841.8h0M60.6 819.7h0M86.6 830.0h0M127.0 854.5h0M34.2 817.3h0M78.5 784.1h0M131.6 810.1h0M34.8 809.1h0M118.4 846.1h0M59.6 809.6h0M102.6 861.3h0M122.2 784.6h0M54.6 845.8h0M32.6 855.6h0M60.0 828.4h0M27.9 863.9h0M127.4 863.0h0M80.6 811.4h0M27.1 778.8h0M118.4 875.9h0M69.4 879.2h0M101.2 851.4h0M66.7 866.0h0M41.5 797.1h0M37.0 846.8h0M66.3 810.1h0M50.6 794.2h0M71.0 843.1h0M115.9 819.9h0M74.9 829.9h0M49.0 871.6h0M135.7 792.3h0M94.5 848.0h0M68.7 797.1h0M92.2 830.4h0M132.5 788.9h0M93.1 879.9h0M28.0 798.7h0M130.2 827.1h0M106.8 844.7h0M112.2 794.2h0M32.9 869.9h0M68.2 824.3h0M63.6 848.5h0M61.2 873.1h0M102.9 834.4h0M59.5 836.6h0M58.8 853.4h0M85.3 788.5h0M84.9 851.5h0M46.1 827.6h0M83.5 880.6h0M39.2 785.7h0M53.7 853.1h0M72.2 832.1h0M107.9 785.7h0M59.7 778.9h0M127.0 872.3h0M97.6 819.5h0M115.2 860.2h0M124.4 832.7h0M43.7 838.4h0M98.8 852.9h0M56.8 785.9h0M91.7 873.1h0M60.7 831.8h0M48.6 855.3h0M136.1 862.9h0M84.8 848.4h0M79.0 828.3h0M113.7 791.6h0M63.2 825.1h0M44.7 865.1h0M32.4 822.4h0M47.8 807.0h0M62.8 829.6h0M107.7 791.7h0M77.8 825.2h0M51.1 863.3h0M62.1 863.4h0M116.2 846.8h0M120.3 881.6h0M39.8 846.4h0M43.0 790.0h0M96.4 808.1h0M39.2 810.3h0M86.2 838.6h0M38.5 836.9h0M67.2 806.9h0M135.3 796.7h0M77.3 834.7h0M68.4 868.7h0M113.6 872.2h0M72.0 792.9h0M29.3 879.6h0M89.2 793.7h0M84.0 799.7h0M124.4 801.1h0M74.3 819.2h0M91.6 833.1h0M72.7 839.5h0M126.1 832.5h0M44.6 882.0h0M135.9 787.9h0M114.0 879.5h0M52.6 789.3h0M92.8 799.5h0M57.9 860.0h0M57.2 814.6h0M75.2 856.0h0M136.1 802.4h0M118.4 869.2h0M133.0 876.3h0M57.2 809.6h0M93.0 848.8h0M51.7 812.7h0M36.7 842.7h0M59.8 856.6h0M113.8 808.6h0M123.1 869.1h0M90.9 804.4h0M124.5 817.2h0M127.2 794.2h0M118.5 848.1h0M86.9 844.3h0M57.1 843.6h0M55.3 821.4h0M57.1 858.3h0M123.5 866.1h0M41.2 853.6h0M41.1 807.7h0M134.8 881.7h0M66.4 882.3h0M109.2 826.4h0M132.6 792.1h0M134.9 828.0h0M124.0 854.0h0M112.2 800.9h0M73.2 779.1h0M132.3 866.2h0M48.8 864.0h0M26.0 855.9h0M89.3 823.8h0M125.4 787.5h0M42.2 841.5h0M91.9 816.2h0M70.0 848.8h0M96.9 785.7h0M95.8 879.7h0M57.1 823.4h0M98.7 808.9h0M127.7 779.6h0M106.6 795.4h0M84.0 852.2h0M136.0 822.3h0M53.4 835.8h0M106.8 789.3h0M59.9 876.3h0M131.7 848.1h0M57.5 841.0h0M38.3 817.8h0M39.1 787.1h0M105.9 810.3h0M86.9 848.3h0M39.6 806.1h0M91.9 814.5h0M120.1 845.4h0M28.8 882.1h0M95.4 801.5h0M131.9 802.1h0M116.8 859.2h0M33.3 827.0h0M59.9 806.9h0" stroke="#8d7cb6" stroke-width="0.9" opacity="0.45"/>
</g>
<clipPath id="tc14"><rect x="138.3" y="778.3" width="113.0" height="104.3"/></clipPath>
<rect x="138.3" y="778.3" width="113.0" height="104.3" fill="#cbbeb8" />
<g clip-path="url(#tc14)" fill="none" stroke-linecap="round">
<path d="M219.7 788.7L212.9 856.5" stroke="#9b88c4" stroke-width="0.8" opacity="0.6"/>
<path d="M248.9 784.0l-0.7 1.5M193.0 876.5l0.4 1.0M242.2 794.9l-0.1 0.2M185.0 797.4l0.1 0.1M209.6 781.9l0.9 0.3M139.6 785.5l-1.1 0.9M190.8 874.4l1.3 0.4M152.2 781.8l-0.3 0.4M181.0 787.8l-0.8 0.1M239.1 816.5l0.9 0.5M187.7 874.0l1.4 0.6M191.0 880.6l0.2 1.8M201.9 852.9l-0.9 1.1M161.1 799.6l-0.8 1.2M192.8 792.3l0.1 1.2M224.4 787.4l-0.7 0.5M162.9 799.2l-0.8 1.3M146.5 795.9l-1.4 0.2M162.4 830.8l1.2 0.3M164.4 837.1l-0.1 1.2M155.7 872.5l-0.6 1.6M231.6 848.5l0.3 0.1M182.4 874.1l0.8 0.2M214.1 863.8l-0.0 0.3M166.5 835.6l-0.2 1.9M197.0 880.8l-0.1 0.2M211.7 861.9l-1.3 0.6M155.3 826.1l1.2 0.8M147.3 797.2l-0.8 0.3M216.4 863.8l1.6 0.3M166.8 865.2l0.5 0.6M167.3 835.3l-0.3 0.6M202.2 855.2l-0.1 0.2M179.8 779.3l-0.4 0.2M167.5 828.7l1.2 0.1M143.7 856.2l-0.9 1.6M172.1 816.4l-0.9 0.4M214.9 827.9l-0.4 0.3M166.4 869.0l0.9 0.8M242.6 790.4l0.7 1.6M247.5 785.4l-0.1 1.9M240.0 841.8l0.1 0.1M163.8 797.8l0.7 1.8M202.2 856.5l1.4 1.1M149.8 850.7l1.0 0.1M144.6 833.3l-0.4 1.1M226.2 805.9l0.3 0.7M215.4 832.6l0.5 0.2M241.2 879.0l-0.5 1.6M190.4 880.1l-0.9 0.0M231.8 853.1l-0.4 0.5M139.8 791.1l0.5 0.5M186.1 794.4l1.5 0.6M175.5 786.4l-0.8 0.1M184.2 845.7l0.0 0.0M147.5 827.5l0.6 0.5M193.3 870.9l-0.2 1.0M229.2 846.2l0.0 0.3M138.9 787.6l-0.1 0.5M198.8 858.7l0.4 0.6M242.4 860.3l1.4 0.5M169.3 844.7l-0.0 0.1M224.0 806.9l-0.1 0.2M218.9 796.9l-0.3 0.7M193.1 824.3l1.0 0.2M182.0 861.8l-0.9 0.4M191.4 833.8l-1.6 1.0M152.1 871.0l-0.0 0.2M141.3 802.6l1.2 1.2M227.1 796.9l-1.4 0.2M190.7 797.9l0.1 0.3M192.4 882.0l-0.9 0.8M142.4 869.0l0.5 1.8M204.8 849.4l0.1 0.2M196.2 791.7l0.9 1.3M141.4 868.0l1.6 0.9M195.2 855.8l0.3 0.1M163.8 834.6l0.0 0.5M152.2 859.9l-0.0 0.1M174.9 823.4l0.0 0.5M143.8 801.2l-0.3 1.6M227.6 834.8l0.3 0.0M139.4 837.8l-0.1 0.7M146.6 833.5l1.3 0.9M177.3 860.8l-1.2 0.4M139.7 787.3l0.3 0.1M242.7 844.3l1.5 0.5M222.5 873.3l0.0 0.2M206.5 784.8l0.3 1.4M151.7 796.7l1.7 0.5M245.4 791.2l0.0 0.4M203.9 827.1l0.8 1.6M224.6 813.4l-0.2 0.7M189.8 851.3l-0.2 0.9M222.0 778.3l-0.2 0.2M197.5 845.0l-1.1 0.9M191.3 881.4l-1.8 0.4M232.0 878.1l-0.1 0.0M190.4 778.4l-0.2 0.7M218.0 848.7l-0.5 0.8M201.6 866.3l-0.8 0.7M200.1 879.2l-1.5 0.5M175.4 832.2l1.3 0.1M145.2 786.8l-1.0 1.2M170.7 842.1l-0.2 0.5M161.4 864.0l-0.2 0.0M213.3 793.1l-1.5 0.4M229.5 789.7l1.1 0.2M156.3 833.0l1.1 0.4M243.8 865.2l1.4 1.4M164.7 836.1l0.4 0.1M211.2 850.0l-0.0 0.2M218.6 846.9l0.4 0.3M249.2 832.9l0.1 0.1M168.0 823.3l-0.9 0.3M241.3 817.5l0.6 1.7M168.7 846.8l-0.1 0.2M184.4 825.8l-1.4 0.1M166.1 835.1l-0.3 0.4M156.6 851.3l0.1 0.0M217.0 873.2l-1.2 1.4M243.0 791.1l0.5 0.6M199.6 846.4l0.3 0.2M182.9 848.8l0.4 0.2M142.8 835.9l1.2 0.2M246.7 793.6l0.0 0.0M179.3 857.1l-0.8 0.0M143.8 827.8l-1.5 0.9M155.1 781.2l-0.0 0.0M230.1 882.6l-1.1 0.4" stroke="#ab96d8" stroke-width="5.5" opacity="0.5" filter="url(#hb)"/>
<g stroke="#5c48b2" opacity="0.72" filter="url(#cb)">
<path d="M209.6 781.9l0.9 0.3M146.5 795.9l-1.4 0.2M164.4 837.1l-0.1 1.2M231.6 848.5l0.3 0.1M155.3 826.1l1.2 0.8M202.2 855.2l-0.1 0.2M231.8 853.1l-0.4 0.5M175.5 786.4l-0.8 0.1M184.2 845.7l0.0 0.0M229.2 846.2l0.0 0.3M138.9 787.6l-0.1 0.5M169.3 844.7l-0.0 0.1M142.4 869.0l0.5 1.8M222.5 873.3l0.0 0.2M191.3 881.4l-1.8 0.4M232.0 878.1l-0.1 0.0M229.5 789.7l1.1 0.2M249.2 832.9l0.1 0.1M243.0 791.1l0.5 0.6M142.8 835.9l1.2 0.2" stroke-width="1.4"/>
<path d="M248.9 784.0l-0.7 1.5M193.0 876.5l0.4 1.0M242.2 794.9l-0.1 0.2M185.0 797.4l0.1 0.1M139.6 785.5l-1.1 0.9M239.1 816.5l0.9 0.5M187.7 874.0l1.4 0.6M191.0 880.6l0.2 1.8M155.7 872.5l-0.6 1.6M214.1 863.8l-0.0 0.3M197.0 880.8l-0.1 0.2M143.7 856.2l-0.9 1.6M172.1 816.4l-0.9 0.4M166.4 869.0l0.9 0.8M240.0 841.8l0.1 0.1M163.8 797.8l0.7 1.8M149.8 850.7l1.0 0.1M144.6 833.3l-0.4 1.1M215.4 832.6l0.5 0.2M241.2 879.0l-0.5 1.6M186.1 794.4l1.5 0.6M147.5 827.5l0.6 0.5M198.8 858.7l0.4 0.6M242.4 860.3l1.4 0.5M224.0 806.9l-0.1 0.2M218.9 796.9l-0.3 0.7M182.0 861.8l-0.9 0.4M152.1 871.0l-0.0 0.2M227.1 796.9l-1.4 0.2M190.7 797.9l0.1 0.3M192.4 882.0l-0.9 0.8M204.8 849.4l0.1 0.2M139.4 837.8l-0.1 0.7M177.3 860.8l-1.2 0.4M206.5 784.8l0.3 1.4M200.1 879.2l-1.5 0.5M161.4 864.0l-0.2 0.0M213.3 793.1l-1.5 0.4M156.3 833.0l1.1 0.4M168.0 823.3l-0.9 0.3M241.3 817.5l0.6 1.7M166.1 835.1l-0.3 0.4M199.6 846.4l0.3 0.2M182.9 848.8l0.4 0.2M246.7 793.6l0.0 0.0M155.1 781.2l-0.0 0.0M230.1 882.6l-1.1 0.4" stroke-width="2.0"/>
<path d="M190.8 874.4l1.3 0.4M201.9 852.9l-0.9 1.1M192.8 792.3l0.1 1.2M224.4 787.4l-0.7 0.5M162.9 799.2l-0.8 1.3M162.4 830.8l1.2 0.3M182.4 874.1l0.8 0.2M147.3 797.2l-0.8 0.3M216.4 863.8l1.6 0.3M166.8 865.2l0.5 0.6M179.8 779.3l-0.4 0.2M167.5 828.7l1.2 0.1M214.9 827.9l-0.4 0.3M242.6 790.4l0.7 1.6M247.5 785.4l-0.1 1.9M202.2 856.5l1.4 1.1M226.2 805.9l0.3 0.7M190.4 880.1l-0.9 0.0M139.8 791.1l0.5 0.5M193.3 870.9l-0.2 1.0M191.4 833.8l-1.6 1.0M141.3 802.6l1.2 1.2M141.4 868.0l1.6 0.9M195.2 855.8l0.3 0.1M152.2 859.9l-0.0 0.1M174.9 823.4l0.0 0.5M146.6 833.5l1.3 0.9M139.7 787.3l0.3 0.1M242.7 844.3l1.5 0.5M151.7 796.7l1.7 0.5M245.4 791.2l0.0 0.4M224.6 813.4l-0.2 0.7M197.5 845.0l-1.1 0.9M218.0 848.7l-0.5 0.8M175.4 832.2l1.3 0.1M145.2 786.8l-1.0 1.2M243.8 865.2l1.4 1.4M211.2 850.0l-0.0 0.2M168.7 846.8l-0.1 0.2M156.6 851.3l0.1 0.0M143.8 827.8l-1.5 0.9" stroke-width="2.5"/>
<path d="M152.2 781.8l-0.3 0.4M181.0 787.8l-0.8 0.1M161.1 799.6l-0.8 1.2M166.5 835.6l-0.2 1.9M211.7 861.9l-1.3 0.6M167.3 835.3l-0.3 0.6M193.1 824.3l1.0 0.2M196.2 791.7l0.9 1.3M163.8 834.6l0.0 0.5M143.8 801.2l-0.3 1.6M227.6 834.8l0.3 0.0M203.9 827.1l0.8 1.6M189.8 851.3l-0.2 0.9M222.0 778.3l-0.2 0.2M190.4 778.4l-0.2 0.7M201.6 866.3l-0.8 0.7M170.7 842.1l-0.2 0.5M164.7 836.1l0.4 0.1M218.6 846.9l0.4 0.3M184.4 825.8l-1.4 0.1M217.0 873.2l-1.2 1.4M179.3 857.1l-0.8 0.0" stroke-width="3.2"/>
</g>
<path d="M226.0 880.9h0M218.8 790.9h0M199.9 869.4h0M205.2 865.9h0M204.8 835.9h0M172.4 844.7h0M164.4 866.3h0M239.9 822.4h0M201.3 843.2h0M224.3 797.7h0M208.6 782.8h0M239.1 780.8h0M157.5 861.4h0M247.0 867.0h0M237.5 874.5h0M175.9 855.8h0M238.9 806.1h0M206.3 816.9h0M153.6 838.0h0M155.1 792.2h0M248.5 789.6h0M203.3 847.0h0M225.6 782.4h0M210.6 868.7h0M155.0 797.5h0M192.5 806.7h0M247.6 858.5h0M201.5 865.0h0M178.0 860.4h0M177.4 809.4h0M213.4 831.8h0M172.0 790.5h0M242.2 846.5h0M143.6 864.2h0M158.5 822.0h0M186.0 782.6h0M224.1 872.8h0M194.8 810.0h0M170.9 874.1h0M206.9 847.2h0M181.8 872.1h0M155.5 827.7h0M144.2 846.8h0M247.2 873.6h0M179.9 829.0h0M228.9 800.9h0M221.7 797.2h0M250.5 793.0h0M205.3 880.4h0M247.6 841.9h0M241.6 814.9h0M164.7 826.3h0M168.8 831.0h0M157.5 859.5h0M226.3 818.2h0M213.2 822.5h0M215.5 815.4h0M198.9 878.3h0M219.8 866.8h0M142.9 862.3h0M249.6 792.6h0M206.9 838.3h0M153.2 820.3h0M192.8 835.0h0M201.4 843.0h0M243.8 850.7h0M213.5 856.7h0M203.2 799.2h0M195.4 812.5h0M209.4 796.8h0M161.6 791.9h0M184.4 791.6h0M151.3 843.1h0M244.6 859.2h0M220.0 814.9h0M190.0 830.2h0M250.2 836.7h0M145.3 801.7h0M180.6 819.8h0M230.6 805.0h0M250.8 851.9h0M140.9 808.9h0M161.2 802.0h0M170.6 818.2h0M216.1 850.2h0M162.6 862.5h0M214.0 822.3h0M209.4 841.4h0M169.7 791.7h0M226.2 799.9h0M242.0 806.2h0M233.3 836.0h0M165.7 821.0h0M210.0 868.6h0M176.6 827.6h0M163.8 844.8h0M219.0 855.2h0M164.1 867.1h0M178.9 864.9h0M142.6 802.9h0M211.0 873.7h0M245.2 858.6h0M188.7 816.9h0M144.3 861.2h0M196.9 832.1h0M217.3 779.0h0M151.5 789.5h0M236.8 843.4h0M196.7 823.8h0M174.4 782.3h0M198.0 880.0h0M203.9 870.8h0M187.3 817.7h0M235.2 822.6h0M182.0 834.4h0M234.2 815.9h0M168.0 828.3h0" stroke="#8d7cb6" stroke-width="0.9" opacity="0.45"/>
</g>
<clipPath id="tc15"><rect x="253.2" y="778.3" width="111.6" height="104.3"/></clipPath>
<rect x="253.2" y="778.3" width="111.6" height="104.3" fill="#c9bcb8" />
<g clip-path="url(#tc15)" fill="none" stroke-linecap="round">
<path d="M322.1 871.1l0.7 1.4M332.6 876.0l-1.1 0.7M335.1 854.2l1.4 0.1M257.3 796.0l1.0 0.6M336.5 805.5l1.0 1.2M272.1 815.9l0.8 0.9M278.7 792.7l-0.6 0.4M325.4 811.5l1.5 0.5M362.8 784.0l0.0 0.6M263.3 848.9l-0.4 0.8M302.2 804.1l0.8 1.6M337.9 825.0l0.9 1.3M279.0 814.2l-1.1 1.0M278.7 793.3l-0.9 0.2M307.2 807.4l0.3 0.3M355.6 835.5l0.5 1.5M259.5 821.8l0.0 0.3M274.0 880.6l0.2 1.2M294.0 798.2l0.2 0.2M306.8 815.0l-1.7 0.6M320.5 788.4l0.1 1.2M260.6 817.7l-1.3 0.9M356.2 820.0l1.8 0.3M319.9 875.0l0.9 0.0M338.9 868.6l-1.1 0.1M300.7 797.0l0.1 0.1M290.3 857.6l-0.0 1.0M302.2 856.2l-1.5 0.1M359.2 779.5l-0.2 0.5M262.3 844.1l0.4 0.1M293.3 798.1l-0.4 0.2M316.8 827.6l0.7 1.5M350.4 813.1l-0.2 0.1M273.5 836.1l-0.1 0.6M263.1 845.3l-0.5 0.0M339.8 780.4l1.6 0.8M359.3 826.5l-0.9 1.0M299.8 795.5l0.5 0.7M259.2 805.7l-0.4 1.1M256.0 841.1l-0.1 1.2M290.8 786.7l0.7 0.6M317.6 783.4l0.8 0.0M362.9 832.7l0.1 0.0M344.6 846.5l1.0 0.6M306.2 832.6l1.5 0.5M264.9 859.5l-0.2 0.1M253.7 859.5l-0.1 1.5M298.9 874.1l-0.4 0.2M323.8 861.8l-0.1 0.0M285.6 792.5l0.0 1.0M287.4 828.0l0.1 0.6M279.4 820.7l-1.5 1.1M364.9 831.1l-0.6 0.7M298.9 794.8l1.1 1.0M336.8 825.4l-0.9 0.0M318.0 840.8l-0.5 0.1M314.0 817.0l0.9 0.4M307.4 792.1l0.5 1.3M289.3 813.6l1.4 1.3M350.4 820.3l-0.2 0.6M324.5 867.0l-0.0 0.0M363.5 784.8l-0.2 0.2M293.7 816.4l-0.5 1.1M319.3 857.4l0.1 0.6M261.2 826.9l-1.3 1.0M296.3 807.3l-0.1 0.0M321.5 809.9l-1.5 0.3M336.2 874.9l-1.8 0.6M361.9 835.6l0.4 1.3M337.8 780.3l-0.1 0.2M318.5 819.5l1.6 0.3M357.4 842.3l1.5 0.3M327.6 824.5l1.4 0.9M363.5 881.4l-0.0 0.1M263.0 877.0l0.7 0.9M362.3 852.0l-0.3 1.1M356.7 795.5l-0.8 0.3M331.8 868.3l1.1 1.2M350.9 821.6l0.1 1.7M291.5 817.4l1.0 1.2M257.5 866.7l-0.1 0.1M362.5 872.1l-1.7 0.7M312.2 867.4l-0.7 0.9M364.7 834.1l1.7 0.6M332.6 791.0l-0.3 0.5M289.6 864.7l0.9 0.3M309.7 807.4l-0.9 0.4M303.8 816.7l-0.1 0.1M341.2 816.5l-0.3 1.8M283.6 811.2l-0.9 0.1M282.3 825.4l1.1 0.4M313.4 843.5l-0.5 0.6M354.5 875.7l0.2 0.3M357.9 881.0l0.4 0.8M349.2 836.9l-0.3 0.4M328.5 820.7l-1.3 0.5M346.6 784.6l0.2 0.1M265.0 865.9l1.0 0.0M345.5 818.5l-0.5 0.4M314.0 841.7l0.8 0.3M259.2 830.8l1.8 0.4M264.6 826.6l-0.1 0.3M345.7 838.8l-0.1 0.0M266.9 858.6l-0.7 0.2M296.9 851.9l-0.2 0.8M317.3 827.3l-0.6 1.2M360.6 811.5l-0.9 0.4M319.7 823.6l-0.3 1.4M281.4 791.6l-0.4 0.9M358.1 795.0l-1.6 0.9M305.5 812.5l0.7 1.7M325.4 821.3l-0.2 0.4M323.2 786.6l-0.2 0.4M278.2 820.8l0.9 1.7M356.4 858.2l0.4 1.7M306.6 857.7l-0.1 0.1M341.5 793.9l0.2 0.0M360.5 860.0l0.6 1.4M254.6 814.4l1.1 0.6M282.7 810.1l-0.1 0.4M321.4 819.7l0.3 0.8M266.9 820.2l-1.5 0.3M290.8 835.4l-0.2 0.0M342.1 795.7l-0.1 0.3M344.3 787.5l-0.8 0.7M309.6 820.4l-1.0 0.9M360.9 830.2l-0.9 0.8M292.2 818.1l0.1 0.1M304.2 782.0l1.2 1.5M324.7 820.3l-0.0 0.2M341.3 812.0l-0.9 1.5M292.0 821.5l-0.9 0.9M325.1 815.3l0.9 0.8M316.1 807.2l-0.7 0.2M308.1 819.2l1.6 0.4M307.4 819.6l1.4 0.2M258.0 872.9l-1.0 0.5M253.8 864.7l-0.1 1.0M308.1 806.4l1.1 0.3M331.7 839.8l0.1 0.1M313.3 843.9l0.4 0.2M338.4 813.4l-0.5 1.5M308.7 835.0l0.3 1.8M274.2 781.6l0.2 0.6M278.4 814.8l-1.5 0.2M341.6 790.8l0.5 0.3M258.9 870.0l0.1 0.2M344.5 871.7l0.2 1.7M331.4 790.7l0.2 1.4M302.5 878.6l1.1 0.1M351.8 785.5l0.5 0.8M355.7 871.4l1.1 1.2M290.1 835.5l0.3 0.9M253.3 834.2l-0.5 0.3M359.0 828.5l0.2 0.0M303.9 804.4l0.1 0.4M356.2 795.0l-0.3 0.2M361.7 818.4l0.1 1.6M284.2 786.0l-0.3 1.2M334.9 797.1l-0.0 0.1M324.1 856.3l0.9 0.5M295.9 800.9l0.3 0.6M338.7 793.2l-1.0 0.9M319.3 812.2l0.1 0.0M279.2 840.6l0.3 0.0M333.7 785.4l0.1 1.2M313.9 836.4l0.2 1.0M276.6 793.9l0.1 0.1M271.9 877.7l-0.1 0.0M343.1 786.9l0.5 1.0M271.8 777.4l0.7 0.3M310.0 828.3l0.7 0.5M280.6 791.2l-0.1 0.0M312.2 810.8l1.3 0.6M276.4 790.4l-0.2 0.8" stroke="#ab96d8" stroke-width="5.5" opacity="0.5" filter="url(#hb)"/>
<g stroke="#5c48b2" opacity="0.72" filter="url(#cb)">
<path d="M302.2 804.1l0.8 1.6M278.7 793.3l-0.9 0.2M294.0 798.2l0.2 0.2M359.3 826.5l-0.9 1.0M299.8 795.5l0.5 0.7M336.8 825.4l-0.9 0.0M350.4 820.3l-0.2 0.6M363.5 784.8l-0.2 0.2M293.7 816.4l-0.5 1.1M296.3 807.3l-0.1 0.0M318.5 819.5l1.6 0.3M363.5 881.4l-0.0 0.1M350.9 821.6l0.1 1.7M257.5 866.7l-0.1 0.1M303.8 816.7l-0.1 0.1M341.2 816.5l-0.3 1.8M346.6 784.6l0.2 0.1M259.2 830.8l1.8 0.4M264.6 826.6l-0.1 0.3M319.7 823.6l-0.3 1.4M278.2 820.8l0.9 1.7M356.4 858.2l0.4 1.7M306.6 857.7l-0.1 0.1M292.0 821.5l-0.9 0.9M258.0 872.9l-1.0 0.5M253.8 864.7l-0.1 1.0M278.4 814.8l-1.5 0.2M361.7 818.4l0.1 1.6M276.4 790.4l-0.2 0.8" stroke-width="1.4"/>
<path d="M335.1 854.2l1.4 0.1M278.7 792.7l-0.6 0.4M325.4 811.5l1.5 0.5M279.0 814.2l-1.1 1.0M307.2 807.4l0.3 0.3M355.6 835.5l0.5 1.5M259.5 821.8l0.0 0.3M306.8 815.0l-1.7 0.6M260.6 817.7l-1.3 0.9M319.9 875.0l0.9 0.0M338.9 868.6l-1.1 0.1M316.8 827.6l0.7 1.5M350.4 813.1l-0.2 0.1M285.6 792.5l0.0 1.0M287.4 828.0l0.1 0.6M279.4 820.7l-1.5 1.1M364.9 831.1l-0.6 0.7M318.0 840.8l-0.5 0.1M314.0 817.0l0.9 0.4M307.4 792.1l0.5 1.3M336.2 874.9l-1.8 0.6M361.9 835.6l0.4 1.3M362.3 852.0l-0.3 1.1M356.7 795.5l-0.8 0.3M331.8 868.3l1.1 1.2M364.7 834.1l1.7 0.6M332.6 791.0l-0.3 0.5M309.7 807.4l-0.9 0.4M282.3 825.4l1.1 0.4M313.4 843.5l-0.5 0.6M354.5 875.7l0.2 0.3M357.9 881.0l0.4 0.8M345.5 818.5l-0.5 0.4M266.9 858.6l-0.7 0.2M358.1 795.0l-1.6 0.9M323.2 786.6l-0.2 0.4M360.5 860.0l0.6 1.4M282.7 810.1l-0.1 0.4M321.4 819.7l0.3 0.8M266.9 820.2l-1.5 0.3M342.1 795.7l-0.1 0.3M344.3 787.5l-0.8 0.7M324.7 820.3l-0.0 0.2M308.1 806.4l1.1 0.3M290.1 835.5l0.3 0.9M334.9 797.1l-0.0 0.1M324.1 856.3l0.9 0.5M295.9 800.9l0.3 0.6M313.9 836.4l0.2 1.0M276.6 793.9l0.1 0.1M271.9 877.7l-0.1 0.0M343.1 786.9l0.5 1.0M271.8 777.4l0.7 0.3M310.0 828.3l0.7 0.5" stroke-width="2.0"/>
<path d="M322.1 871.1l0.7 1.4M257.3 796.0l1.0 0.6M272.1 815.9l0.8 0.9M362.8 784.0l0.0 0.6M300.7 797.0l0.1 0.1M290.3 857.6l-0.0 1.0M302.2 856.2l-1.5 0.1M293.3 798.1l-0.4 0.2M273.5 836.1l-0.1 0.6M263.1 845.3l-0.5 0.0M339.8 780.4l1.6 0.8M256.0 841.1l-0.1 1.2M317.6 783.4l0.8 0.0M362.9 832.7l0.1 0.0M344.6 846.5l1.0 0.6M298.9 874.1l-0.4 0.2M323.8 861.8l-0.1 0.0M289.3 813.6l1.4 1.3M324.5 867.0l-0.0 0.0M319.3 857.4l0.1 0.6M321.5 809.9l-1.5 0.3M357.4 842.3l1.5 0.3M263.0 877.0l0.7 0.9M291.5 817.4l1.0 1.2M312.2 867.4l-0.7 0.9M349.2 836.9l-0.3 0.4M328.5 820.7l-1.3 0.5M265.0 865.9l1.0 0.0M314.0 841.7l0.8 0.3M345.7 838.8l-0.1 0.0M296.9 851.9l-0.2 0.8M360.6 811.5l-0.9 0.4M281.4 791.6l-0.4 0.9M305.5 812.5l0.7 1.7M325.4 821.3l-0.2 0.4M341.5 793.9l0.2 0.0M254.6 814.4l1.1 0.6M290.8 835.4l-0.2 0.0M309.6 820.4l-1.0 0.9M360.9 830.2l-0.9 0.8M292.2 818.1l0.1 0.1M341.3 812.0l-0.9 1.5M338.4 813.4l-0.5 1.5M341.6 790.8l0.5 0.3M258.9 870.0l0.1 0.2M344.5 871.7l0.2 1.7M331.4 790.7l0.2 1.4M302.5 878.6l1.1 0.1M351.8 785.5l0.5 0.8M355.7 871.4l1.1 1.2M253.3 834.2l-0.5 0.3M359.0 828.5l0.2 0.0M356.2 795.0l-0.3 0.2M284.2 786.0l-0.3 1.2M338.7 793.2l-1.0 0.9M319.3 812.2l0.1 0.0M333.7 785.4l0.1 1.2M280.6 791.2l-0.1 0.0M312.2 810.8l1.3 0.6" stroke-width="2.5"/>
<path d="M332.6 876.0l-1.1 0.7M336.5 805.5l1.0 1.2M263.3 848.9l-0.4 0.8M337.9 825.0l0.9 1.3M274.0 880.6l0.2 1.2M320.5 788.4l0.1 1.2M356.2 820.0l1.8 0.3M359.2 779.5l-0.2 0.5M262.3 844.1l0.4 0.1M259.2 805.7l-0.4 1.1M290.8 786.7l0.7 0.6M306.2 832.6l1.5 0.5M264.9 859.5l-0.2 0.1M253.7 859.5l-0.1 1.5M298.9 794.8l1.1 1.0M261.2 826.9l-1.3 1.0M337.8 780.3l-0.1 0.2M327.6 824.5l1.4 0.9M362.5 872.1l-1.7 0.7M289.6 864.7l0.9 0.3M283.6 811.2l-0.9 0.1M317.3 827.3l-0.6 1.2M304.2 782.0l1.2 1.5M325.1 815.3l0.9 0.8M316.1 807.2l-0.7 0.2M308.1 819.2l1.6 0.4M307.4 819.6l1.4 0.2M331.7 839.8l0.1 0.1M313.3 843.9l0.4 0.2M308.7 835.0l0.3 1.8M274.2 781.6l0.2 0.6M303.9 804.4l0.1 0.4M279.2 840.6l0.3 0.0" stroke-width="3.2"/>
</g>
<path d="M338.9 882.2h0M321.7 783.2h0M261.3 786.2h0M302.4 814.4h0M343.2 839.6h0M296.5 867.6h0M339.8 804.6h0M304.9 820.8h0M272.3 815.1h0M322.2 820.2h0M331.6 841.4h0M356.0 788.6h0M318.8 780.1h0M345.8 824.8h0M280.5 840.8h0M341.5 805.9h0M263.9 849.3h0M322.6 781.9h0M324.0 808.8h0M320.0 783.5h0M269.4 869.3h0M320.1 850.1h0M301.1 782.5h0M290.4 842.0h0M355.3 796.2h0M268.9 852.7h0M338.3 850.0h0M357.5 849.7h0M346.4 779.8h0M351.2 861.9h0M288.0 779.4h0M338.6 819.1h0M293.8 832.7h0M271.6 808.6h0M336.9 842.5h0M256.0 812.1h0M290.3 825.5h0M359.0 864.7h0M363.4 790.8h0M309.8 810.9h0M352.3 834.2h0M271.9 837.8h0M271.4 844.6h0M339.8 799.8h0M315.1 849.0h0M330.0 821.0h0M260.2 851.5h0M356.0 809.3h0M316.7 797.7h0M333.0 846.9h0M298.8 806.7h0M322.8 854.4h0M324.9 819.2h0M294.9 804.7h0M364.5 850.1h0M309.7 795.0h0M334.6 881.6h0M342.5 848.6h0M259.4 829.0h0M330.6 854.4h0M284.1 809.0h0M356.6 852.7h0M362.6 820.4h0M319.1 808.4h0M291.1 837.7h0M332.4 781.4h0M322.9 816.9h0M271.8 849.0h0M321.3 861.3h0M304.5 869.1h0M333.2 821.8h0M347.7 828.2h0M348.9 844.0h0M341.7 848.5h0M265.2 786.6h0M283.7 797.2h0M340.1 870.6h0M307.7 842.2h0M260.2 838.7h0M336.5 826.7h0M274.5 795.7h0M302.1 878.4h0M264.5 842.7h0M358.6 861.7h0M299.4 868.8h0M277.2 875.9h0M282.2 802.8h0M325.2 874.9h0M270.5 803.1h0M361.3 854.4h0M359.7 874.1h0M360.3 816.7h0M260.2 793.3h0M301.0 801.7h0M294.0 877.9h0M362.2 879.7h0M268.8 820.1h0M302.3 866.3h0M257.4 816.2h0M329.2 812.2h0M354.4 839.1h0M337.3 805.6h0M309.4 831.8h0M318.1 814.1h0M253.9 827.0h0M363.1 836.8h0M281.0 836.5h0M253.5 836.7h0M254.8 827.5h0M273.1 793.6h0M308.0 794.7h0M275.1 853.7h0M318.6 791.1h0M342.5 814.5h0M359.2 867.6h0M296.2 858.2h0M357.5 866.1h0M361.1 812.4h0M302.5 871.0h0M262.0 790.8h0M318.7 854.4h0M304.2 792.8h0M352.9 804.2h0M329.7 827.9h0M281.7 847.2h0M264.6 813.3h0M256.8 780.5h0M362.9 870.4h0M277.6 803.6h0M303.2 818.2h0M261.6 826.2h0M276.3 866.2h0M289.3 817.6h0M330.0 860.0h0M294.2 804.5h0M333.9 795.5h0M327.4 814.9h0M334.9 803.6h0M335.4 813.1h0M331.2 864.4h0M315.8 832.1h0M342.1 843.8h0M257.2 815.6h0M267.4 871.4h0M355.6 826.5h0M298.2 816.1h0M261.6 808.5h0M300.6 859.6h0M302.3 781.8h0M332.3 796.2h0M285.4 863.6h0M258.7 839.6h0M321.0 822.6h0M277.2 877.9h0M354.1 808.5h0M265.6 876.9h0M324.7 789.9h0" stroke="#8d7cb6" stroke-width="0.9" opacity="0.45"/>
</g>
<clipPath id="tc16"><rect x="366.5" y="778.3" width="111.7" height="104.3"/></clipPath>
<rect x="366.5" y="778.3" width="111.7" height="104.3" fill="#c8bbbd" />
<g clip-path="url(#tc16)" fill="none" stroke-linecap="round">
<circle cx="450.3" cy="856.5" r="22.3" fill="#b7a8d4" stroke="none" opacity="0.45" filter="url(#hb)"/>
<path d="M468.6 792.6l-1.6 1.0M420.5 878.3l0.6 0.4M416.4 838.5l-0.1 1.9M468.4 869.9l0.1 1.5M372.8 881.5l0.0 0.0M433.3 834.8l1.4 0.1M470.5 806.8l-0.2 0.0M433.1 836.9l-0.1 0.4M466.8 817.5l-1.1 0.8M377.0 881.5l-1.3 0.7M411.9 842.8l0.1 0.3M465.1 871.1l0.5 1.5M393.2 844.2l-0.2 0.4M428.7 835.3l-0.6 1.4M413.3 818.8l0.7 1.6M428.1 866.9l-0.1 0.1M475.5 826.4l0.1 0.6M420.6 808.3l-0.0 0.0M439.8 825.0l-0.2 0.1M467.8 875.3l-0.0 0.0M432.5 830.7l-0.3 1.8M452.5 872.7l0.8 0.8M371.4 788.4l1.1 1.1M411.3 820.0l-0.2 0.3M401.9 823.8l-1.4 0.6M454.5 793.0l0.5 0.4M418.1 876.0l-0.1 0.2M469.6 792.1l1.2 1.5M445.9 791.4l-1.4 0.3M445.1 865.3l0.1 1.6M398.6 826.9l-0.4 1.3M477.3 840.1l-0.5 0.5M426.8 866.4l0.3 0.4M449.6 811.4l0.9 0.3M456.3 805.4l0.8 1.1M449.9 810.8l0.5 0.4M464.2 873.8l-0.7 0.5M416.2 863.9l1.1 0.1M466.1 818.4l-1.3 0.1M390.4 821.0l0.5 0.1M432.7 819.0l-0.6 0.3M393.0 855.8l-0.1 0.4M393.1 856.4l0.4 1.4M444.8 813.7l0.3 1.4M410.4 821.3l-0.1 0.1M437.8 836.5l-0.1 0.2M437.1 816.0l-0.1 0.3M370.6 802.1l0.5 1.4M463.5 872.2l-0.9 1.0M472.3 831.8l-1.8 0.7M410.3 859.0l-0.3 0.1M386.7 813.5l0.1 0.7M386.2 871.7l-0.2 0.7M415.0 867.7l0.9 0.8M378.2 781.7l-0.4 0.9M467.8 869.3l-1.1 0.1M387.5 831.8l-0.0 0.2M414.6 808.8l-0.6 0.3M386.1 833.4l-0.9 0.2M402.3 809.6l-0.1 0.0M471.9 833.4l-0.2 0.1M411.4 846.1l0.6 0.5M381.7 820.2l-0.6 0.5M433.4 787.9l-0.8 0.7M378.5 837.4l0.7 0.4M470.9 793.2l0.3 0.4M470.3 803.4l0.6 1.7M474.8 813.8l-0.0 0.0M388.9 820.1l0.0 1.6M376.4 824.1l-0.8 1.0M474.5 847.5l0.9 0.0M459.4 845.0l0.6 1.2M459.2 819.0l1.1 0.9M413.8 838.2l-0.2 0.3M391.0 854.7l1.7 0.3M374.9 803.5l-0.5 0.1M474.0 840.9l-1.1 0.9M429.5 879.9l1.1 0.5M413.8 867.9l-0.8 0.3M386.6 794.9l-1.6 0.3M382.1 795.8l1.2 0.7M475.5 863.8l-1.6 0.6M399.7 809.2l0.3 0.9M401.2 791.0l-1.3 1.2M462.9 837.3l-0.9 0.7M384.2 828.1l-0.9 0.1M456.0 798.0l1.2 0.3M470.9 877.5l-0.3 0.2M377.6 850.0l0.2 1.8M371.2 786.9l-1.7 0.7M457.5 829.6l-0.1 1.0M468.5 805.0l-0.0 0.2M479.2 837.9l0.2 0.2M378.5 880.2l-0.7 1.4M370.9 849.7l-0.0 0.0M415.9 868.5l0.8 0.5M388.7 841.1l1.5 0.4M414.9 812.1l-0.3 0.5M453.1 813.7l-0.4 0.8M448.7 836.1l-0.5 1.3M464.8 795.0l0.2 0.3M388.2 783.1l-1.2 0.0M437.9 798.1l0.2 0.2M398.9 878.3l1.9 0.2M445.6 783.5l0.9 0.6M458.1 867.3l0.1 0.0M411.7 843.2l-0.1 0.0M438.0 854.0l0.4 0.1M428.8 817.3l0.6 1.7M462.9 826.1l1.6 1.0M464.4 861.6l-0.1 0.4M443.1 807.8l-0.2 0.6M371.4 827.3l-0.4 0.1M434.5 863.3l-1.8 0.4M433.7 852.7l1.3 0.6M461.8 815.0l0.3 0.2M378.3 787.2l1.4 1.3M416.0 816.0l-0.5 1.6M377.6 813.5l0.6 1.6M451.7 815.1l0.5 1.2M465.2 815.4l0.3 0.2M469.2 868.9l-1.1 0.2M411.9 846.8l-0.9 0.9M404.1 880.1l0.1 1.0M461.2 836.7l-1.1 0.4M450.7 847.2l-0.0 1.0M446.0 853.5l-0.1 0.1M448.2 865.9l0.4 0.5M422.7 805.5l1.4 0.0M461.3 836.1l-0.8 0.4M454.2 840.3l0.6 1.0M388.9 806.8l-0.3 0.1M443.6 861.9l-0.5 0.3M466.9 861.2l-0.4 0.1M384.9 859.5l0.5 1.6M402.6 825.0l-0.3 0.5M465.1 815.9l-0.9 0.5M455.3 798.4l1.3 0.2M397.3 867.5l0.2 0.4M447.3 804.2l-0.6 1.1M410.3 838.7l-1.2 0.8M473.3 860.9l0.0 0.1M412.5 840.0l0.3 0.2M472.5 871.3l-0.7 0.3M386.3 872.9l-0.0 0.1M400.6 793.3l0.1 0.5M454.4 862.0l0.0 0.1M469.4 880.4l-0.3 0.6M382.5 827.2l0.2 0.8M378.5 827.1l0.1 0.9M476.1 873.0l0.4 0.7M368.0 877.8l-0.2 0.4M462.4 874.9l1.1 0.1M370.2 847.3l-0.7 0.8M422.6 832.3l-0.0 1.3M400.0 850.5l1.8 0.0M420.2 813.0l-0.5 1.7M384.1 842.3l0.5 1.1M454.2 789.0l-0.0 0.0M393.6 820.7l-0.7 1.7M434.1 843.7l-0.4 1.3M411.0 831.7l0.1 1.0M404.3 843.0l0.3 1.3M411.1 789.9l0.1 0.0M377.0 837.0l0.6 1.5M438.3 867.6l1.6 0.5M465.4 874.5l0.2 1.2M440.4 858.0l0.1 0.2M412.8 790.0l1.6 0.3M476.7 818.3l-0.4 1.2M427.0 854.5l1.6 0.2M407.9 879.0l-0.1 0.6M402.5 830.6l-0.0 0.3M458.3 794.8l-1.1 0.5M381.7 828.7l-0.9 0.9" stroke="#ab96d8" stroke-width="5.5" opacity="0.5" filter="url(#hb)"/>
<g stroke="#5c48b2" opacity="0.72" filter="url(#cb)">
<path d="M468.6 792.6l-1.6 1.0M468.4 869.9l0.1 1.5M372.8 881.5l0.0 0.0M470.5 806.8l-0.2 0.0M452.5 872.7l0.8 0.8M410.4 821.3l-0.1 0.1M437.8 836.5l-0.1 0.2M472.3 831.8l-1.8 0.7M410.3 859.0l-0.3 0.1M378.2 781.7l-0.4 0.9M402.3 809.6l-0.1 0.0M470.9 793.2l0.3 0.4M470.3 803.4l0.6 1.7M388.9 820.1l0.0 1.6M459.4 845.0l0.6 1.2M413.8 838.2l-0.2 0.3M391.0 854.7l1.7 0.3M374.9 803.5l-0.5 0.1M413.8 867.9l-0.8 0.3M401.2 791.0l-1.3 1.2M371.2 786.9l-1.7 0.7M388.7 841.1l1.5 0.4M453.1 813.7l-0.4 0.8M411.7 843.2l-0.1 0.0M443.1 807.8l-0.2 0.6M416.0 816.0l-0.5 1.6M377.6 813.5l0.6 1.6M411.9 846.8l-0.9 0.9M422.7 805.5l1.4 0.0M443.6 861.9l-0.5 0.3M410.3 838.7l-1.2 0.8M386.3 872.9l-0.0 0.1M462.4 874.9l1.1 0.1M393.6 820.7l-0.7 1.7" stroke-width="1.4"/>
<path d="M420.5 878.3l0.6 0.4M377.0 881.5l-1.3 0.7M411.9 842.8l0.1 0.3M393.2 844.2l-0.2 0.4M428.7 835.3l-0.6 1.4M413.3 818.8l0.7 1.6M428.1 866.9l-0.1 0.1M420.6 808.3l-0.0 0.0M467.8 875.3l-0.0 0.0M371.4 788.4l1.1 1.1M454.5 793.0l0.5 0.4M418.1 876.0l-0.1 0.2M445.9 791.4l-1.4 0.3M445.1 865.3l0.1 1.6M398.6 826.9l-0.4 1.3M426.8 866.4l0.3 0.4M449.6 811.4l0.9 0.3M456.3 805.4l0.8 1.1M416.2 863.9l1.1 0.1M466.1 818.4l-1.3 0.1M390.4 821.0l0.5 0.1M463.5 872.2l-0.9 1.0M386.2 871.7l-0.2 0.7M387.5 831.8l-0.0 0.2M414.6 808.8l-0.6 0.3M471.9 833.4l-0.2 0.1M411.4 846.1l0.6 0.5M433.4 787.9l-0.8 0.7M474.5 847.5l0.9 0.0M474.0 840.9l-1.1 0.9M382.1 795.8l1.2 0.7M475.5 863.8l-1.6 0.6M462.9 837.3l-0.9 0.7M456.0 798.0l1.2 0.3M470.9 877.5l-0.3 0.2M377.6 850.0l0.2 1.8M468.5 805.0l-0.0 0.2M479.2 837.9l0.2 0.2M370.9 849.7l-0.0 0.0M415.9 868.5l0.8 0.5M398.9 878.3l1.9 0.2M428.8 817.3l0.6 1.7M464.4 861.6l-0.1 0.4M371.4 827.3l-0.4 0.1M461.8 815.0l0.3 0.2M465.2 815.4l0.3 0.2M450.7 847.2l-0.0 1.0M461.3 836.1l-0.8 0.4M454.2 840.3l0.6 1.0M388.9 806.8l-0.3 0.1M455.3 798.4l1.3 0.2M397.3 867.5l0.2 0.4M472.5 871.3l-0.7 0.3M400.6 793.3l0.1 0.5M469.4 880.4l-0.3 0.6M382.5 827.2l0.2 0.8M476.1 873.0l0.4 0.7M400.0 850.5l1.8 0.0M404.3 843.0l0.3 1.3M377.0 837.0l0.6 1.5M427.0 854.5l1.6 0.2" stroke-width="2.0"/>
<path d="M433.3 834.8l1.4 0.1M433.1 836.9l-0.1 0.4M466.8 817.5l-1.1 0.8M465.1 871.1l0.5 1.5M475.5 826.4l0.1 0.6M432.5 830.7l-0.3 1.8M401.9 823.8l-1.4 0.6M469.6 792.1l1.2 1.5M477.3 840.1l-0.5 0.5M449.9 810.8l0.5 0.4M464.2 873.8l-0.7 0.5M432.7 819.0l-0.6 0.3M393.0 855.8l-0.1 0.4M393.1 856.4l0.4 1.4M444.8 813.7l0.3 1.4M370.6 802.1l0.5 1.4M386.7 813.5l0.1 0.7M415.0 867.7l0.9 0.8M381.7 820.2l-0.6 0.5M384.2 828.1l-0.9 0.1M457.5 829.6l-0.1 1.0M414.9 812.1l-0.3 0.5M448.7 836.1l-0.5 1.3M464.8 795.0l0.2 0.3M445.6 783.5l0.9 0.6M438.0 854.0l0.4 0.1M434.5 863.3l-1.8 0.4M378.3 787.2l1.4 1.3M451.7 815.1l0.5 1.2M404.1 880.1l0.1 1.0M461.2 836.7l-1.1 0.4M466.9 861.2l-0.4 0.1M402.6 825.0l-0.3 0.5M465.1 815.9l-0.9 0.5M473.3 860.9l0.0 0.1M412.5 840.0l0.3 0.2M454.4 862.0l0.0 0.1M378.5 827.1l0.1 0.9M370.2 847.3l-0.7 0.8M422.6 832.3l-0.0 1.3M420.2 813.0l-0.5 1.7M384.1 842.3l0.5 1.1M434.1 843.7l-0.4 1.3M438.3 867.6l1.6 0.5M465.4 874.5l0.2 1.2M440.4 858.0l0.1 0.2M412.8 790.0l1.6 0.3M476.7 818.3l-0.4 1.2M407.9 879.0l-0.1 0.6M402.5 830.6l-0.0 0.3M458.3 794.8l-1.1 0.5M381.7 828.7l-0.9 0.9" stroke-width="2.5"/>
<path d="M416.4 838.5l-0.1 1.9M439.8 825.0l-0.2 0.1M411.3 820.0l-0.2 0.3M437.1 816.0l-0.1 0.3M467.8 869.3l-1.1 0.1M386.1 833.4l-0.9 0.2M378.5 837.4l0.7 0.4M474.8 813.8l-0.0 0.0M376.4 824.1l-0.8 1.0M459.2 819.0l1.1 0.9M429.5 879.9l1.1 0.5M386.6 794.9l-1.6 0.3M399.7 809.2l0.3 0.9M378.5 880.2l-0.7 1.4M388.2 783.1l-1.2 0.0M437.9 798.1l0.2 0.2M458.1 867.3l0.1 0.0M462.9 826.1l1.6 1.0M433.7 852.7l1.3 0.6M469.2 868.9l-1.1 0.2M446.0 853.5l-0.1 0.1M448.2 865.9l0.4 0.5M384.9 859.5l0.5 1.6M447.3 804.2l-0.6 1.1M368.0 877.8l-0.2 0.4M454.2 789.0l-0.0 0.0M411.0 831.7l0.1 1.0M411.1 789.9l0.1 0.0" stroke-width="3.2"/>
</g>
<path d="M440.9 811.8h0M453.0 861.8h0M424.5 880.9h0M443.7 823.2h0M426.0 814.3h0M385.0 828.7h0M461.2 808.5h0M475.2 826.3h0M469.7 878.4h0M413.6 827.6h0M432.5 798.4h0M400.2 882.5h0M446.1 851.1h0M442.2 847.4h0M413.8 865.1h0M402.7 835.3h0M431.2 881.1h0M471.5 805.8h0M377.0 820.2h0M451.1 792.6h0M390.9 831.7h0M370.6 809.7h0M429.5 868.9h0M417.5 808.1h0M429.9 842.1h0M377.0 879.8h0M473.6 790.6h0M406.2 846.1h0M454.2 812.4h0M419.1 800.8h0M477.6 879.5h0M443.2 881.3h0M443.1 861.9h0M423.8 874.6h0M452.4 858.6h0M462.0 789.8h0M467.8 834.9h0M416.7 873.6h0M464.0 835.4h0M477.3 809.1h0M427.8 872.9h0M373.7 820.2h0M427.0 872.7h0M384.1 782.1h0M428.9 781.1h0M424.5 798.2h0M469.2 829.6h0M476.3 876.9h0M408.6 781.4h0M442.5 831.1h0M376.9 856.9h0M464.8 801.3h0M421.1 789.9h0M409.7 823.5h0M367.8 794.3h0M451.3 847.1h0M415.7 807.1h0M466.3 820.7h0M430.8 820.7h0M445.1 874.6h0M432.0 826.6h0M436.1 857.6h0M391.3 821.8h0M437.6 870.5h0M415.3 849.7h0M461.2 863.5h0M446.6 796.9h0M467.7 791.7h0M390.9 879.4h0M420.4 868.8h0M382.6 814.6h0M403.3 851.0h0M401.4 795.6h0M384.3 814.1h0M408.2 880.8h0M441.1 789.9h0M462.8 843.2h0M369.1 846.1h0M424.3 821.2h0M384.1 812.7h0M407.3 838.1h0M450.7 788.6h0M377.9 855.2h0M412.7 853.7h0M381.3 863.7h0M386.7 835.6h0M387.7 798.0h0M475.2 779.4h0M432.7 783.7h0M412.7 859.4h0M442.5 778.4h0M399.9 801.2h0M463.2 860.2h0M433.3 863.0h0M406.3 783.2h0M390.2 801.1h0M403.2 812.2h0M441.9 873.4h0M454.4 844.0h0M401.8 811.9h0M477.1 857.8h0M434.7 851.0h0M476.8 799.1h0M445.5 778.7h0M411.7 871.1h0M444.5 868.5h0M390.3 836.0h0M444.4 863.2h0M370.1 807.5h0M428.7 826.1h0M421.5 812.6h0M366.8 793.1h0M443.4 829.7h0M458.8 819.9h0M450.6 807.0h0M451.8 805.1h0M423.1 866.3h0M448.6 866.2h0M393.3 866.3h0M462.5 878.9h0M384.4 813.3h0M384.8 803.7h0M381.1 782.0h0M433.4 822.2h0M465.2 825.0h0M440.6 837.5h0M405.4 845.0h0M411.7 816.0h0M431.0 862.4h0M395.6 839.7h0M435.8 820.4h0M440.2 804.8h0M416.0 848.0h0M450.8 868.9h0M462.6 806.2h0M401.0 863.2h0M427.0 802.3h0M425.7 831.0h0M441.5 806.1h0M432.5 819.9h0M450.6 843.3h0M403.8 859.2h0M469.4 866.0h0M397.2 880.3h0M387.1 839.1h0M444.0 880.1h0M427.4 818.6h0M410.8 855.1h0M407.3 833.6h0M378.0 798.7h0M463.0 823.3h0M398.9 877.6h0M400.5 799.9h0M420.5 787.1h0M430.3 850.6h0M471.7 813.9h0M465.1 866.3h0" stroke="#8d7cb6" stroke-width="0.9" opacity="0.45"/>
</g>
<text x="81.5" y="768.0" font-size="10.2" text-anchor="middle" fill="#222" textLength="35.5" lengthAdjust="spacingAndGlyphs" stroke="#222" stroke-width="0.14">Control</text>
<text x="81.5" y="775.9" font-size="10.2" text-anchor="middle" fill="#222" textLength="67.0" lengthAdjust="spacingAndGlyphs" stroke="#222" stroke-width="0.14">migrated cells</text>
<path d="M45.0 769.3Q42.4 772.6 45.0 775.9M117.2 769.3Q119.8 772.6 117.2 775.9" stroke="#333" stroke-width="0.75" fill="none"/>
<text x="197.3" y="768.0" font-size="10.2" text-anchor="middle" fill="#222" textLength="29.5" lengthAdjust="spacingAndGlyphs" stroke="#222" stroke-width="0.14">+rPF4</text>
<text x="197.3" y="775.9" font-size="10.2" text-anchor="middle" fill="#222" textLength="68.8" lengthAdjust="spacingAndGlyphs" stroke="#222" stroke-width="0.14">migrated cells</text>
<path d="M159.9 769.3Q157.3 772.6 159.9 775.9M233.9 769.3Q236.5 772.6 233.9 775.9" stroke="#333" stroke-width="0.75" fill="none"/>
<text x="311.5" y="768.0" font-size="10.2" text-anchor="middle" fill="#222" textLength="85.1" lengthAdjust="spacingAndGlyphs" stroke="#222" stroke-width="0.14">Sparc-KD1+rPF4</text>
<text x="309.0" y="775.9" font-size="10.2" text-anchor="middle" fill="#222" textLength="68.8" lengthAdjust="spacingAndGlyphs" stroke="#222" stroke-width="0.14">migrated cells</text>
<path d="M271.6 769.3Q269.0 772.6 271.6 775.9M345.6 769.3Q348.2 772.6 345.6 775.9" stroke="#333" stroke-width="0.75" fill="none"/>
<text x="424.3" y="768.0" font-size="10.2" text-anchor="middle" fill="#222" textLength="85.1" lengthAdjust="spacingAndGlyphs" stroke="#222" stroke-width="0.14">Sparc-KD2+rPF4</text>
<text x="421.8" y="775.9" font-size="10.2" text-anchor="middle" fill="#222" textLength="69.5" lengthAdjust="spacingAndGlyphs" stroke="#222" stroke-width="0.14">migrated cells</text>
<path d="M384.1 769.3Q381.4 772.6 384.1 775.9M458.8 769.3Q461.4 772.6 458.8 775.9" stroke="#333" stroke-width="0.75" fill="none"/>
<text x="19.5" y="835.3" font-size="11" text-anchor="middle" fill="#222" textLength="51.4" lengthAdjust="spacingAndGlyphs" stroke="#222" stroke-width="0.14" transform="rotate(-90 19.5 831.3)">OL-shPF4</text>
<path d="M541.4 828.5V821.3M534.6 821.3H548.2" stroke="#2f3368" stroke-width="1.4" fill="none"/>
<rect x="527.2" y="827.5" width="28.4" height="50.9" fill="#2f3368" />
<path d="M582.7 845.2V838.6M575.9 838.6H589.4" stroke="#e9282b" stroke-width="1.4" fill="none"/>
<rect x="568.6" y="844.2" width="28.1" height="34.2" fill="#e9282b" />
<path d="M623.1 835.7V828.8M616.3 828.8H630.0" stroke="#8c2329" stroke-width="1.4" fill="none"/>
<rect x="608.8" y="834.7" width="28.7" height="43.7" fill="#8c2329" />
<path d="M664.2 834.4V831.5M657.5 831.5H671.0" stroke="#c8692f" stroke-width="1.4" fill="none"/>
<rect x="650.2" y="833.4" width="28.1" height="45.0" fill="#c8692f" />
<path d="M514.8 775.6V878.4H700.0" stroke="#111" stroke-width="1.65" fill="none"/>
<path d="M510.3 776.3H514.8" stroke="#111" stroke-width="1.5" fill="none"/>
<text x="511.0" y="779.4" font-size="8.6" text-anchor="end" fill="#222" textLength="12.1" lengthAdjust="spacingAndGlyphs" stroke="#222" stroke-width="0.14">2.0</text>
<path d="M510.3 801.8H514.8" stroke="#111" stroke-width="1.5" fill="none"/>
<text x="511.0" y="804.9" font-size="8.6" text-anchor="end" fill="#222" textLength="12.1" lengthAdjust="spacingAndGlyphs" stroke="#222" stroke-width="0.14">1.5</text>
<path d="M510.3 827.3H514.8" stroke="#111" stroke-width="1.5" fill="none"/>
<text x="511.0" y="830.4" font-size="8.6" text-anchor="end" fill="#222" textLength="12.1" lengthAdjust="spacingAndGlyphs" stroke="#222" stroke-width="0.14">1.0</text>
<path d="M510.3 852.9H514.8" stroke="#111" stroke-width="1.5" fill="none"/>
<text x="511.0" y="856.0" font-size="8.6" text-anchor="end" fill="#222" textLength="12.1" lengthAdjust="spacingAndGlyphs" stroke="#222" stroke-width="0.14">0.5</text>
<path d="M510.3 878.4H514.8" stroke="#111" stroke-width="1.5" fill="none"/>
<text x="511.0" y="881.5" font-size="8.6" text-anchor="end" fill="#222" textLength="12.1" lengthAdjust="spacingAndGlyphs" stroke="#222" stroke-width="0.14">0.0</text>
<path d="M541.4 878.4V882.2" stroke="#111" stroke-width="1.5" fill="none"/>
<path d="M582.7 878.4V882.2" stroke="#111" stroke-width="1.5" fill="none"/>
<path d="M623.1 878.4V882.2" stroke="#111" stroke-width="1.5" fill="none"/>
<path d="M664.2 878.4V882.2" stroke="#111" stroke-width="1.5" fill="none"/>
<text x="489.7" y="832.4" font-size="8.6" text-anchor="middle" fill="#222" textLength="96.3" lengthAdjust="spacingAndGlyphs" stroke="#222" stroke-width="0.14" transform="rotate(-90 489.7 829.4)">Relative number of invaded cells</text>
<path d="M541.2 815.5V807.3H582.7" stroke="#111" stroke-width="1.1" fill="none"/>
<path d="M582.7 836.7V799.2H664.9V830.1" stroke="#111" stroke-width="1.1" fill="none"/>
<path d="M582.7 808.9H623.5V826.9" stroke="#111" stroke-width="1.1" fill="none"/>
<path d="M556.2 803.1l0.00 -2.90M556.2 803.1l2.76 -0.90M556.2 803.1l1.70 2.35M556.2 803.1l-1.70 2.35M556.2 803.1l-2.76 -0.90M563.1 803.1l0.00 -2.90M563.1 803.1l2.76 -0.90M563.1 803.1l1.70 2.35M563.1 803.1l-1.70 2.35M563.1 803.1l-2.76 -0.90M570.0 803.1l0.00 -2.90M570.0 803.1l2.76 -0.90M570.0 803.1l1.70 2.35M570.0 803.1l-1.70 2.35M570.0 803.1l-2.76 -0.90" stroke="#1a1a1a" stroke-width="1.05" fill="none"/>
<path d="M600.1 804.0l0.00 -2.90M600.1 804.0l2.76 -0.90M600.1 804.0l1.70 2.35M600.1 804.0l-1.70 2.35M600.1 804.0l-2.76 -0.90M606.6 804.0l0.00 -2.90M606.6 804.0l2.76 -0.90M606.6 804.0l1.70 2.35M606.6 804.0l-1.70 2.35M606.6 804.0l-2.76 -0.90" stroke="#1a1a1a" stroke-width="1.05" fill="none"/>
<path d="M619.8 794.3l0.00 -2.90M619.8 794.3l2.76 -0.90M619.8 794.3l1.70 2.35M619.8 794.3l-1.70 2.35M619.8 794.3l-2.76 -0.90M626.2 794.3l0.00 -2.90M626.2 794.3l2.76 -0.90M626.2 794.3l1.70 2.35M626.2 794.3l-1.70 2.35M626.2 794.3l-2.76 -0.90" stroke="#1a1a1a" stroke-width="1.05" fill="none"/>
<text x="600.8" y="784.9" font-size="10.2" text-anchor="middle" fill="#1a1a1a" textLength="47.3" lengthAdjust="spacingAndGlyphs" stroke="#1a1a1a" stroke-width="0.14">OL-shPf4</text>
<text x="538.6" y="890.1" font-size="9.0" text-anchor="middle" fill="#1a1a1a" textLength="29.4" lengthAdjust="spacingAndGlyphs" stroke="#1a1a1a" stroke-width="0.14">Control</text>
<text x="580.3" y="890.1" font-size="9.0" text-anchor="middle" fill="#1a1a1a" textLength="24.5" lengthAdjust="spacingAndGlyphs" stroke="#1a1a1a" stroke-width="0.14">+rPF4</text>
<text x="622.3" y="890.1" font-size="9.0" text-anchor="middle" fill="#1a1a1a" textLength="43.4" lengthAdjust="spacingAndGlyphs" stroke="#1a1a1a" stroke-width="0.14">KD1+rPF4</text>
<text x="672.3" y="890.1" font-size="9.0" text-anchor="middle" fill="#1a1a1a" textLength="43.7" lengthAdjust="spacingAndGlyphs" stroke="#1a1a1a" stroke-width="0.14">KD2+rPF4</text>
<text x="25.0" y="905.1" font-size="15.7" text-anchor="middle" fill="#1a1a1a" textLength="2.8" lengthAdjust="spacingAndGlyphs" stroke="#1a1a1a" stroke-width="0.14">I</text>
<clipPath id="tc17"><rect x="24.8" y="925.0" width="111.8" height="104.0"/></clipPath>
<rect x="24.8" y="925.0" width="111.8" height="104.0" fill="#c8bacd" />
<g clip-path="url(#tc17)" fill="none" stroke-linecap="round">
<path d="M80.1 982.9l0.0 1.9M60.6 958.4l1.1 0.4M79.2 962.4l-1.1 1.1M61.7 942.4l-1.2 2.0M124.7 996.6l2.1 0.5M62.5 970.1l-0.2 1.4M57.9 973.3l-0.8 1.6M119.2 970.8l0.8 0.4M66.4 1010.2l1.6 1.3M112.2 989.0l0.7 0.2M51.0 943.8l-2.7 1.1M78.9 981.1l1.1 0.0M127.5 996.6l-0.6 0.2M61.9 967.6l0.1 0.0M62.1 969.6l0.9 1.3M72.0 966.4l-2.2 1.3M121.3 996.8l-0.5 0.2M79.4 1026.3l1.2 1.2M78.5 977.0l-0.1 0.5M125.0 1011.9l-1.3 0.3M133.3 977.3l1.1 0.5M33.4 936.3l0.3 0.4M124.6 937.9l0.5 1.4M127.6 998.4l-0.2 1.0M88.3 967.6l-0.3 0.8M53.6 950.8l-1.2 1.5M125.3 997.2l-0.3 2.2M41.8 953.8l0.9 0.4M97.1 939.8l-0.1 0.3M61.5 970.1l-0.1 0.2M50.9 973.5l-2.7 1.0M89.5 1006.4l1.7 2.3M84.2 932.1l-0.2 0.1M69.0 1007.4l-0.2 0.0M79.3 977.5l1.4 1.5M89.2 929.1l-0.6 0.1M131.5 1016.3l2.4 0.7M115.8 995.2l-0.8 0.5M126.1 996.9l2.4 1.2M87.7 954.1l1.8 0.5M98.9 939.3l-1.7 0.1M45.2 985.0l1.1 1.2M53.0 985.5l0.0 2.2M41.6 1018.9l0.0 1.1M79.3 1023.5l0.1 2.2M90.3 935.8l-0.1 2.4M78.2 947.1l-0.4 1.3M102.5 938.0l-1.2 0.0M116.0 1013.2l1.6 2.3M128.9 991.3l2.8 0.8M46.1 934.5l-1.9 0.2M28.1 1022.9l0.2 0.2M79.7 979.1l0.6 1.7M93.1 958.7l0.8 0.5M112.5 1005.7l-0.0 0.3M83.4 934.1l0.1 2.5M62.3 988.1l-1.5 1.9M100.5 957.5l0.6 0.1M128.2 997.4l-2.4 1.7M130.9 997.3l2.4 1.6M115.2 947.0l2.6 0.3M48.5 990.3l0.2 1.7M42.9 933.1l0.0 0.4M42.4 950.5l1.3 1.7M56.9 932.9l-0.0 0.3M49.2 932.0l-1.5 1.4M126.0 1002.9l1.7 0.1M55.1 949.6l0.8 0.1M136.4 1024.0l-0.8 1.5M86.2 927.2l1.6 1.3M130.6 983.7l-0.3 1.1M38.9 991.0l-0.6 1.7M91.6 1012.3l-0.0 0.4M81.4 984.4l-0.3 0.6M106.8 1005.0l0.0 0.0M58.9 958.1l-0.7 2.5M42.1 1027.7l0.5 0.8M52.7 973.8l1.2 2.7M99.6 958.6l1.2 2.1M54.3 978.5l2.4 1.5M87.4 948.5l-0.4 0.3M54.6 948.3l-0.1 0.4M51.6 1016.6l0.2 0.1M64.2 970.4l-0.1 2.0M52.8 961.6l-2.2 0.9M32.2 965.6l1.4 2.1M79.1 989.8l0.0 0.0M95.9 1013.7l-1.3 0.7M115.7 927.6l-0.2 0.2M54.6 951.7l-2.4 0.7M58.4 1020.9l-0.7 0.6M50.6 937.2l0.9 0.4M136.4 981.8l0.3 0.1M52.3 936.4l-1.3 1.4M30.0 1016.7l-0.5 1.8M63.1 985.9l0.0 0.0M75.7 1007.2l-0.5 1.9M69.3 988.2l0.6 0.1M49.4 937.9l0.0 0.0M134.3 941.3l-0.5 0.5M91.5 964.7l-0.6 0.3M78.7 950.1l0.5 0.2M125.3 991.1l0.5 0.7M73.9 970.0l0.2 0.0M62.1 984.4l0.0 0.8M26.3 928.2l-0.1 0.3M123.6 927.6l1.1 1.6M58.8 939.9l-1.1 0.9M48.1 940.1l-1.5 1.9M78.8 987.2l-1.6 1.2M52.7 963.2l0.2 2.5M120.0 957.0l-2.0 0.2M28.0 970.8l0.5 2.8M104.6 998.9l0.2 1.2M115.1 1003.2l-0.8 0.9M98.2 937.3l2.7 1.0M94.4 935.8l1.7 2.1M110.4 938.0l-0.3 0.7M73.6 991.5l-0.4 0.3M88.0 995.4l1.4 0.0M60.4 971.9l2.1 1.3M31.2 926.7l1.7 0.7M49.9 930.6l0.7 1.6M108.9 968.9l0.1 0.0M60.4 938.9l-1.0 0.1M49.8 944.6l0.4 0.5M74.7 951.7l1.6 1.9M67.8 980.4l0.5 1.3M79.4 994.4l-2.0 0.6M91.5 989.1l-2.6 0.7M107.7 983.7l-0.2 0.0M96.2 943.9l2.0 1.6M32.8 1024.1l2.1 1.6M58.8 977.2l2.8 0.2M67.8 1022.3l0.5 1.7M88.7 986.1l1.4 1.7M56.2 980.5l0.0 1.1M60.4 1006.9l2.5 0.9M120.2 1021.1l0.1 0.6M77.6 987.4l-1.9 1.7M123.0 1001.5l2.0 1.0M70.7 965.7l-1.8 1.7M118.7 979.2l-0.2 0.2M67.8 941.9l0.1 1.4M111.3 976.7l-2.4 1.3M40.8 971.9l2.6 0.4M48.4 933.0l-2.5 1.5M133.7 1007.9l-0.1 2.1M63.5 1007.2l-0.5 1.3M28.2 925.4l-1.3 0.7M42.4 950.8l0.2 0.0M100.7 944.8l0.2 0.1M50.4 1011.6l0.5 2.6M127.4 1018.0l2.5 1.2M48.5 962.1l-0.2 0.5M101.0 960.0l1.5 1.6M59.4 937.1l0.5 0.1M101.1 1015.4l0.5 0.4M27.4 1018.6l-0.2 0.3M31.9 1024.6l-0.4 0.2M52.4 995.0l-0.1 0.3M56.2 951.1l0.8 2.7M125.8 1027.4l-2.5 0.0M69.4 1005.0l1.3 2.2M79.9 1010.1l-0.7 1.6M45.2 930.9l1.6 2.4M113.0 968.0l0.3 0.3M107.8 944.1l1.1 0.7M39.4 1019.3l0.1 1.5M67.9 982.6l-1.5 1.2M52.0 1015.4l-0.4 0.6M115.2 1002.9l0.1 2.1M79.1 928.6l2.7 1.2M97.0 1027.6l2.4 0.4M24.9 1004.2l0.1 2.1M57.6 961.3l-0.9 2.2M96.0 973.3l0.0 0.1M63.9 1008.4l3.0 0.2M52.5 933.8l-2.1 0.7M53.7 983.5l-2.1 0.5M121.2 973.6l0.8 0.9M92.0 1004.7l0.0 0.1M48.5 965.6l0.6 1.2M55.2 955.3l2.4 1.8M60.3 986.5l-1.8 1.8M115.0 994.6l0.4 2.9M52.6 947.4l-1.7 0.0M74.9 998.1l0.0 0.0M116.8 990.1l-0.0 0.1M79.7 1011.9l0.9 1.8M60.4 1006.1l-0.0 2.1M57.1 1023.7l-1.0 2.2M46.7 1016.2l2.7 0.6M126.2 999.2l0.8 1.0M73.1 987.0l0.0 1.2M29.3 927.9l-0.4 0.2M75.3 953.2l-1.8 2.3M136.5 944.6l-2.3 1.4M32.9 933.1l-1.9 0.5M48.4 1009.4l0.6 0.4M32.7 942.8l1.0 0.4M55.4 961.7l2.5 0.2M37.7 1007.6l2.6 0.6M31.1 984.9l-2.7 1.0M97.1 933.2l-0.1 0.2" stroke="#ab96d8" stroke-width="4.8" opacity="0.6" filter="url(#hb)"/>
<g stroke="#5c48b2" opacity="0.72" filter="url(#cb)">
<path d="M79.2 962.4l-1.1 1.1M112.2 989.0l0.7 0.2M51.0 943.8l-2.7 1.1M33.4 936.3l0.3 0.4M50.9 973.5l-2.7 1.0M84.2 932.1l-0.2 0.1M102.5 938.0l-1.2 0.0M100.5 957.5l0.6 0.1M56.9 932.9l-0.0 0.3M81.4 984.4l-0.3 0.6M54.6 948.3l-0.1 0.4M51.6 1016.6l0.2 0.1M52.3 936.4l-1.3 1.4M69.3 988.2l0.6 0.1M78.8 987.2l-1.6 1.2M98.2 937.3l2.7 1.0M73.6 991.5l-0.4 0.3M108.9 968.9l0.1 0.0M67.8 1022.3l0.5 1.7M67.8 941.9l0.1 1.4M42.4 950.8l0.2 0.0M45.2 930.9l1.6 2.4M52.0 1015.4l-0.4 0.6M97.0 1027.6l2.4 0.4M96.0 973.3l0.0 0.1M63.9 1008.4l3.0 0.2M136.5 944.6l-2.3 1.4" stroke-width="1.2"/>
<path d="M61.7 942.4l-1.2 2.0M119.2 970.8l0.8 0.4M66.4 1010.2l1.6 1.3M127.5 996.6l-0.6 0.2M62.1 969.6l0.9 1.3M79.4 1026.3l1.2 1.2M133.3 977.3l1.1 0.5M127.6 998.4l-0.2 1.0M53.6 950.8l-1.2 1.5M41.8 953.8l0.9 0.4M89.5 1006.4l1.7 2.3M87.7 954.1l1.8 0.5M98.9 939.3l-1.7 0.1M45.2 985.0l1.1 1.2M41.6 1018.9l0.0 1.1M28.1 1022.9l0.2 0.2M79.7 979.1l0.6 1.7M93.1 958.7l0.8 0.5M130.9 997.3l2.4 1.6M42.4 950.5l1.3 1.7M126.0 1002.9l1.7 0.1M55.1 949.6l0.8 0.1M136.4 1024.0l-0.8 1.5M38.9 991.0l-0.6 1.7M58.9 958.1l-0.7 2.5M42.1 1027.7l0.5 0.8M54.3 978.5l2.4 1.5M87.4 948.5l-0.4 0.3M52.8 961.6l-2.2 0.9M32.2 965.6l1.4 2.1M79.1 989.8l0.0 0.0M136.4 981.8l0.3 0.1M75.7 1007.2l-0.5 1.9M73.9 970.0l0.2 0.0M62.1 984.4l0.0 0.8M26.3 928.2l-0.1 0.3M52.7 963.2l0.2 2.5M120.0 957.0l-2.0 0.2M28.0 970.8l0.5 2.8M104.6 998.9l0.2 1.2M49.8 944.6l0.4 0.5M74.7 951.7l1.6 1.9M120.2 1021.1l0.1 0.6M77.6 987.4l-1.9 1.7M123.0 1001.5l2.0 1.0M118.7 979.2l-0.2 0.2M111.3 976.7l-2.4 1.3M48.4 933.0l-2.5 1.5M101.0 960.0l1.5 1.6M31.9 1024.6l-0.4 0.2M115.2 1002.9l0.1 2.1M24.9 1004.2l0.1 2.1M57.6 961.3l-0.9 2.2M53.7 983.5l-2.1 0.5M92.0 1004.7l0.0 0.1M55.2 955.3l2.4 1.8M52.6 947.4l-1.7 0.0M116.8 990.1l-0.0 0.1M79.7 1011.9l0.9 1.8M73.1 987.0l0.0 1.2M29.3 927.9l-0.4 0.2M32.7 942.8l1.0 0.4M37.7 1007.6l2.6 0.6M97.1 933.2l-0.1 0.2" stroke-width="1.7"/>
<path d="M80.1 982.9l0.0 1.9M60.6 958.4l1.1 0.4M124.7 996.6l2.1 0.5M62.5 970.1l-0.2 1.4M57.9 973.3l-0.8 1.6M78.9 981.1l1.1 0.0M78.5 977.0l-0.1 0.5M124.6 937.9l0.5 1.4M88.3 967.6l-0.3 0.8M125.3 997.2l-0.3 2.2M97.1 939.8l-0.1 0.3M69.0 1007.4l-0.2 0.0M79.3 977.5l1.4 1.5M126.1 996.9l2.4 1.2M90.3 935.8l-0.1 2.4M116.0 1013.2l1.6 2.3M46.1 934.5l-1.9 0.2M83.4 934.1l0.1 2.5M62.3 988.1l-1.5 1.9M48.5 990.3l0.2 1.7M49.2 932.0l-1.5 1.4M86.2 927.2l1.6 1.3M130.6 983.7l-0.3 1.1M52.7 973.8l1.2 2.7M95.9 1013.7l-1.3 0.7M115.7 927.6l-0.2 0.2M54.6 951.7l-2.4 0.7M58.4 1020.9l-0.7 0.6M50.6 937.2l0.9 0.4M30.0 1016.7l-0.5 1.8M49.4 937.9l0.0 0.0M78.7 950.1l0.5 0.2M125.3 991.1l0.5 0.7M123.6 927.6l1.1 1.6M58.8 939.9l-1.1 0.9M48.1 940.1l-1.5 1.9M115.1 1003.2l-0.8 0.9M94.4 935.8l1.7 2.1M110.4 938.0l-0.3 0.7M60.4 971.9l2.1 1.3M31.2 926.7l1.7 0.7M60.4 938.9l-1.0 0.1M67.8 980.4l0.5 1.3M79.4 994.4l-2.0 0.6M107.7 983.7l-0.2 0.0M96.2 943.9l2.0 1.6M56.2 980.5l0.0 1.1M40.8 971.9l2.6 0.4M133.7 1007.9l-0.1 2.1M63.5 1007.2l-0.5 1.3M28.2 925.4l-1.3 0.7M100.7 944.8l0.2 0.1M48.5 962.1l-0.2 0.5M101.1 1015.4l0.5 0.4M27.4 1018.6l-0.2 0.3M56.2 951.1l0.8 2.7M107.8 944.1l1.1 0.7M39.4 1019.3l0.1 1.5M67.9 982.6l-1.5 1.2M79.1 928.6l2.7 1.2M121.2 973.6l0.8 0.9M60.3 986.5l-1.8 1.8M115.0 994.6l0.4 2.9M57.1 1023.7l-1.0 2.2M126.2 999.2l0.8 1.0M75.3 953.2l-1.8 2.3M32.9 933.1l-1.9 0.5M48.4 1009.4l0.6 0.4M55.4 961.7l2.5 0.2M31.1 984.9l-2.7 1.0" stroke-width="2.2"/>
<path d="M61.9 967.6l0.1 0.0M72.0 966.4l-2.2 1.3M121.3 996.8l-0.5 0.2M125.0 1011.9l-1.3 0.3M61.5 970.1l-0.1 0.2M89.2 929.1l-0.6 0.1M131.5 1016.3l2.4 0.7M115.8 995.2l-0.8 0.5M53.0 985.5l0.0 2.2M79.3 1023.5l0.1 2.2M78.2 947.1l-0.4 1.3M128.9 991.3l2.8 0.8M112.5 1005.7l-0.0 0.3M128.2 997.4l-2.4 1.7M115.2 947.0l2.6 0.3M42.9 933.1l0.0 0.4M91.6 1012.3l-0.0 0.4M106.8 1005.0l0.0 0.0M99.6 958.6l1.2 2.1M64.2 970.4l-0.1 2.0M63.1 985.9l0.0 0.0M134.3 941.3l-0.5 0.5M91.5 964.7l-0.6 0.3M88.0 995.4l1.4 0.0M49.9 930.6l0.7 1.6M91.5 989.1l-2.6 0.7M32.8 1024.1l2.1 1.6M58.8 977.2l2.8 0.2M88.7 986.1l1.4 1.7M60.4 1006.9l2.5 0.9M70.7 965.7l-1.8 1.7M50.4 1011.6l0.5 2.6M127.4 1018.0l2.5 1.2M59.4 937.1l0.5 0.1M52.4 995.0l-0.1 0.3M125.8 1027.4l-2.5 0.0M69.4 1005.0l1.3 2.2M79.9 1010.1l-0.7 1.6M113.0 968.0l0.3 0.3M52.5 933.8l-2.1 0.7M48.5 965.6l0.6 1.2M74.9 998.1l0.0 0.0M60.4 1006.1l-0.0 2.1M46.7 1016.2l2.7 0.6" stroke-width="2.8"/>
</g>
<path d="M52.1 1019.8h0M41.3 1013.4h0M113.9 991.8h0M69.0 931.5h0M38.9 939.0h0M36.6 935.8h0M99.3 1001.8h0M136.5 959.3h0M48.1 966.4h0M42.9 1013.3h0M96.3 932.4h0M36.1 936.1h0M48.9 991.5h0M92.8 982.2h0M109.4 948.1h0M93.5 969.0h0M114.8 960.8h0M121.1 927.7h0M25.3 989.4h0M45.9 1006.5h0M91.0 1003.8h0M83.4 936.4h0M97.3 926.8h0M131.4 942.8h0M107.2 968.7h0M117.2 999.2h0M112.9 960.9h0M70.3 1000.4h0M54.8 967.4h0M73.4 950.6h0M34.0 934.7h0M135.6 999.2h0M114.6 950.3h0M107.2 1008.1h0M45.4 1011.1h0M36.5 1000.2h0M97.4 1012.1h0M61.3 1011.4h0M31.7 929.0h0M30.0 938.7h0M72.9 1028.7h0M38.8 1009.1h0M102.9 978.3h0M91.3 995.3h0M121.7 955.1h0M136.5 947.8h0M50.4 1027.5h0M74.2 944.9h0M57.5 925.2h0M54.2 940.4h0M129.6 938.4h0M50.4 953.4h0M33.7 926.0h0M82.2 1010.9h0M96.7 993.9h0M72.6 1026.1h0M92.8 1006.8h0M108.3 975.4h0M49.8 949.2h0M49.2 938.9h0M101.7 1024.9h0M65.4 973.2h0M57.3 997.6h0M57.0 983.7h0M59.5 983.1h0M92.4 938.6h0M30.9 982.0h0M127.1 1019.7h0M90.3 938.0h0M41.6 973.0h0M130.1 954.6h0M94.6 986.2h0M40.1 1000.5h0M132.2 984.6h0M40.7 982.4h0M77.0 1020.9h0M128.3 939.9h0M59.4 963.3h0M123.8 984.9h0M26.5 1008.2h0M120.2 941.6h0M82.1 968.1h0M115.7 1004.4h0M107.8 1003.2h0M118.4 955.7h0M42.5 939.1h0M61.7 1012.9h0M50.2 941.5h0M101.8 925.8h0M71.0 977.9h0M113.9 962.4h0M70.4 931.8h0M109.3 1013.8h0M41.8 957.7h0M55.9 974.2h0M75.6 1008.4h0M27.1 948.3h0M100.1 1008.5h0M134.8 978.0h0M119.0 1007.3h0M89.4 1006.6h0M83.1 975.4h0M79.7 948.8h0M134.9 1027.1h0M88.5 973.0h0M116.9 967.6h0M94.1 972.6h0M49.9 995.1h0M97.4 962.5h0M136.3 952.1h0M95.8 928.0h0M29.2 986.0h0M53.5 951.1h0M103.4 990.1h0M126.4 928.1h0M73.1 975.9h0M75.7 1001.2h0M57.2 1005.9h0M81.2 1000.1h0M109.9 962.3h0M62.6 965.2h0M122.0 925.9h0M123.9 1011.9h0M90.6 938.9h0M88.0 928.3h0M110.7 945.6h0M69.3 958.8h0M46.9 992.9h0M92.4 1011.5h0M78.5 926.0h0M131.9 971.4h0M72.4 1016.5h0M36.7 988.4h0M80.4 999.1h0M94.1 972.1h0M51.9 942.6h0M32.1 1016.9h0M89.7 989.5h0M113.4 944.0h0M108.2 1002.0h0M59.8 988.6h0M36.0 938.1h0M68.6 956.6h0M27.3 963.9h0M131.2 975.2h0M130.1 978.3h0M44.9 944.5h0M83.2 937.8h0M31.7 946.8h0M136.3 979.5h0M42.7 993.6h0M47.7 974.9h0M78.9 952.0h0M75.1 935.0h0M51.1 1010.2h0M115.2 1000.5h0M65.2 1021.5h0M111.9 1020.4h0M104.0 969.3h0M121.1 972.1h0M65.8 1026.2h0M88.3 935.7h0M115.0 934.4h0M95.4 1019.5h0M73.5 982.9h0M29.9 1011.3h0M127.3 1020.2h0M51.4 954.5h0M48.9 996.7h0M27.2 948.7h0M49.6 929.2h0M123.5 997.0h0M33.3 964.2h0M95.1 988.9h0M30.8 949.0h0M78.3 971.4h0M104.3 932.5h0M80.6 939.2h0M44.7 956.2h0M57.2 989.1h0M45.5 988.9h0M35.4 997.9h0M91.9 934.9h0M125.2 972.1h0" stroke="#8d7cb6" stroke-width="0.9" opacity="0.45"/>
</g>
<clipPath id="tc18"><rect x="138.3" y="925.0" width="113.0" height="104.0"/></clipPath>
<rect x="138.3" y="925.0" width="113.0" height="104.0" fill="#ccbfb5" />
<g clip-path="url(#tc18)" fill="none" stroke-linecap="round">
<path d="M243.2 943.0l1.0 1.8M165.2 973.3l-0.9 1.9M178.5 977.8l1.5 0.0M166.8 973.2l0.1 0.1M166.3 973.3l0.1 0.1M245.8 992.2l0.3 0.1M219.5 958.9l-2.2 1.3M140.5 966.4l-1.2 0.6M239.7 962.7l0.2 0.3M140.1 1014.9l0.7 0.2M165.0 988.4l0.6 0.8M139.7 1011.5l-0.4 0.6M139.8 950.9l0.0 0.0M243.0 993.1l1.6 0.1M161.2 1024.0l-2.5 0.9M156.4 939.8l0.2 1.4M182.1 966.7l-1.4 1.7M188.6 969.8l2.1 0.6M189.7 999.9l-0.5 0.4M210.5 959.6l1.4 0.4M241.2 1024.3l-0.2 0.1M239.2 970.7l0.3 0.5M247.7 1021.9l1.9 2.5M202.8 1012.1l0.0 0.2M145.7 1021.2l-1.9 1.3M167.4 964.0l1.4 0.9M218.9 942.6l-1.0 0.4M142.5 966.9l-0.4 0.0M193.2 939.3l-0.4 0.2M237.6 974.9l0.5 1.2M165.3 1003.8l-1.6 1.2M201.7 1010.1l-0.0 0.7M217.8 1016.9l0.1 0.2M221.9 966.6l-1.6 0.1M167.0 979.2l1.2 2.2M186.8 952.0l-0.1 0.2M215.9 943.3l-0.5 3.1M204.2 1012.4l1.7 2.3M177.4 939.7l0.1 2.4M249.4 961.8l-0.0 0.0M200.4 982.9l0.1 0.6M241.6 1014.6l-1.4 2.7M216.1 1004.2l1.0 1.6M222.1 996.3l-1.3 1.1M144.9 942.6l0.6 0.5M186.1 948.9l1.1 1.9M161.1 1003.7l0.4 0.9M241.8 957.8l-0.0 0.8M175.3 1006.4l3.2 0.6M217.6 1014.9l3.0 0.5M207.2 942.4l0.3 0.4M156.1 1007.6l-0.1 1.2M179.3 984.2l1.6 1.2M180.9 943.1l0.3 2.9M144.5 984.2l1.0 2.6M240.9 1009.1l1.9 1.6M151.5 942.1l-0.9 0.0M207.7 959.2l1.1 0.4M160.1 974.8l-1.8 0.9M204.5 1025.4l-2.0 0.3M158.1 950.7l-0.6 0.5M208.7 1022.7l1.1 1.2M144.3 945.9l-0.7 0.2M168.3 977.9l-1.7 1.1M224.7 1025.9l-1.8 2.4M196.4 997.2l2.6 0.9M209.1 976.8l-1.2 0.9M171.7 939.3l-0.8 0.9M154.7 984.8l1.4 1.0M147.5 974.6l0.2 0.8M182.2 927.0l-1.8 1.1M225.6 962.9l-1.4 1.6M144.7 950.0l2.8 0.3M231.0 931.4l-1.1 0.5M246.5 976.8l-1.6 0.0M161.7 1026.6l-0.0 1.9M219.4 944.7l-0.6 1.8M162.3 954.4l-1.5 1.0M196.8 932.6l1.7 2.0M193.6 968.8l0.9 0.1M146.4 929.5l-0.0 2.4M217.6 1008.3l-0.1 0.1M198.5 938.0l1.2 1.8M201.1 1026.3l-0.8 3.1M229.4 1027.4l0.3 0.2M190.0 992.8l1.8 2.1M212.0 1022.7l0.5 0.4M188.3 937.6l-1.0 1.3M164.0 988.3l-0.6 2.9M209.4 989.7l-0.7 0.2M199.9 929.4l-1.3 2.6M212.9 1014.6l-1.8 0.5M215.3 974.2l-1.9 1.6M148.5 958.9l0.1 0.6M178.4 979.7l0.8 0.6M225.5 937.3l2.1 1.7M145.5 932.3l2.1 1.1M244.8 942.2l-0.3 0.2M222.4 998.5l0.8 1.0M167.5 970.1l0.2 0.1M190.3 980.6l1.9 1.6M218.3 1015.4l0.2 2.7M181.0 963.4l-0.5 0.4M170.1 937.7l0.2 0.8M193.9 1010.0l1.9 1.8M190.3 948.0l0.2 2.5M238.1 931.6l-1.5 0.2M222.6 950.6l0.1 0.0M238.4 975.8l1.4 1.1M178.6 998.2l2.5 1.2M181.8 929.9l0.9 1.1M240.0 1021.8l-0.4 0.2M171.5 934.8l-0.2 0.6M178.5 995.0l-2.4 0.5M141.7 1018.6l2.0 0.4M222.5 955.8l-0.2 0.0M170.4 1022.4l1.5 2.1M146.5 1004.4l1.1 1.5M187.5 1010.7l-0.2 0.3M169.6 942.1l-0.4 0.6M224.3 1006.8l2.6 0.4M179.2 988.1l1.1 0.6M202.5 928.9l-1.5 2.5M147.1 954.5l-1.1 0.9M139.1 1006.0l-0.3 0.8" stroke="#ab96d8" stroke-width="5.3" opacity="0.5" filter="url(#hb)"/>
<g stroke="#5c48b2" opacity="0.72" filter="url(#cb)">
<path d="M167.4 964.0l1.4 0.9M165.3 1003.8l-1.6 1.2M200.4 982.9l0.1 0.6M216.1 1004.2l1.0 1.6M179.3 984.2l1.6 1.2M207.7 959.2l1.1 0.4M224.7 1025.9l-1.8 2.4M196.4 997.2l2.6 0.9M147.5 974.6l0.2 0.8M182.2 927.0l-1.8 1.1M144.7 950.0l2.8 0.3M193.6 968.8l0.9 0.1M212.9 1014.6l-1.8 0.5M167.5 970.1l0.2 0.1M141.7 1018.6l2.0 0.4M147.1 954.5l-1.1 0.9M139.1 1006.0l-0.3 0.8" stroke-width="1.3"/>
<path d="M166.3 973.3l0.1 0.1M219.5 958.9l-2.2 1.3M239.7 962.7l0.2 0.3M140.1 1014.9l0.7 0.2M139.7 1011.5l-0.4 0.6M139.8 950.9l0.0 0.0M161.2 1024.0l-2.5 0.9M189.7 999.9l-0.5 0.4M247.7 1021.9l1.9 2.5M202.8 1012.1l0.0 0.2M145.7 1021.2l-1.9 1.3M142.5 966.9l-0.4 0.0M237.6 974.9l0.5 1.2M201.7 1010.1l-0.0 0.7M217.8 1016.9l0.1 0.2M221.9 966.6l-1.6 0.1M167.0 979.2l1.2 2.2M144.9 942.6l0.6 0.5M186.1 948.9l1.1 1.9M241.8 957.8l-0.0 0.8M175.3 1006.4l3.2 0.6M217.6 1014.9l3.0 0.5M144.5 984.2l1.0 2.6M240.9 1009.1l1.9 1.6M151.5 942.1l-0.9 0.0M160.1 974.8l-1.8 0.9M204.5 1025.4l-2.0 0.3M158.1 950.7l-0.6 0.5M208.7 1022.7l1.1 1.2M171.7 939.3l-0.8 0.9M154.7 984.8l1.4 1.0M246.5 976.8l-1.6 0.0M162.3 954.4l-1.5 1.0M212.0 1022.7l0.5 0.4M164.0 988.3l-0.6 2.9M199.9 929.4l-1.3 2.6M148.5 958.9l0.1 0.6M178.4 979.7l0.8 0.6M145.5 932.3l2.1 1.1M244.8 942.2l-0.3 0.2M190.3 980.6l1.9 1.6M218.3 1015.4l0.2 2.7M193.9 1010.0l1.9 1.8M178.6 998.2l2.5 1.2M178.5 995.0l-2.4 0.5M224.3 1006.8l2.6 0.4M179.2 988.1l1.1 0.6" stroke-width="1.9"/>
<path d="M243.2 943.0l1.0 1.8M178.5 977.8l1.5 0.0M166.8 973.2l0.1 0.1M245.8 992.2l0.3 0.1M140.5 966.4l-1.2 0.6M165.0 988.4l0.6 0.8M243.0 993.1l1.6 0.1M156.4 939.8l0.2 1.4M182.1 966.7l-1.4 1.7M188.6 969.8l2.1 0.6M241.2 1024.3l-0.2 0.1M218.9 942.6l-1.0 0.4M193.2 939.3l-0.4 0.2M186.8 952.0l-0.1 0.2M177.4 939.7l0.1 2.4M222.1 996.3l-1.3 1.1M161.1 1003.7l0.4 0.9M207.2 942.4l0.3 0.4M156.1 1007.6l-0.1 1.2M144.3 945.9l-0.7 0.2M168.3 977.9l-1.7 1.1M209.1 976.8l-1.2 0.9M225.6 962.9l-1.4 1.6M231.0 931.4l-1.1 0.5M161.7 1026.6l-0.0 1.9M219.4 944.7l-0.6 1.8M196.8 932.6l1.7 2.0M217.6 1008.3l-0.1 0.1M198.5 938.0l1.2 1.8M190.0 992.8l1.8 2.1M188.3 937.6l-1.0 1.3M209.4 989.7l-0.7 0.2M215.3 974.2l-1.9 1.6M225.5 937.3l2.1 1.7M222.4 998.5l0.8 1.0M181.0 963.4l-0.5 0.4M238.1 931.6l-1.5 0.2M222.6 950.6l0.1 0.0M181.8 929.9l0.9 1.1M222.5 955.8l-0.2 0.0M170.4 1022.4l1.5 2.1M146.5 1004.4l1.1 1.5M187.5 1010.7l-0.2 0.3M169.6 942.1l-0.4 0.6M202.5 928.9l-1.5 2.5" stroke-width="2.4"/>
<path d="M165.2 973.3l-0.9 1.9M210.5 959.6l1.4 0.4M239.2 970.7l0.3 0.5M215.9 943.3l-0.5 3.1M204.2 1012.4l1.7 2.3M249.4 961.8l-0.0 0.0M241.6 1014.6l-1.4 2.7M180.9 943.1l0.3 2.9M146.4 929.5l-0.0 2.4M201.1 1026.3l-0.8 3.1M229.4 1027.4l0.3 0.2M170.1 937.7l0.2 0.8M190.3 948.0l0.2 2.5M238.4 975.8l1.4 1.1M240.0 1021.8l-0.4 0.2M171.5 934.8l-0.2 0.6" stroke-width="3.1"/>
</g>
<path d="M179.3 966.2h0M156.1 959.8h0M221.3 1016.7h0M159.9 938.8h0M248.0 993.2h0M138.8 974.0h0M160.1 1022.7h0M236.6 1017.5h0M167.1 945.5h0M153.1 997.4h0M165.3 944.6h0M156.7 983.0h0M145.7 933.0h0M170.4 1026.5h0M159.5 1013.2h0M210.1 930.3h0M243.8 956.3h0M244.6 934.7h0M141.1 955.3h0M234.5 927.7h0M213.5 988.3h0M164.2 1006.3h0M245.7 964.1h0M163.6 1018.1h0M223.8 998.4h0M229.9 977.0h0M214.4 995.1h0M215.5 1007.1h0M203.6 1026.5h0M236.2 926.0h0M154.1 927.0h0M223.1 1007.8h0M234.7 954.3h0M240.7 932.7h0M153.0 971.9h0M229.4 1016.7h0M222.8 931.5h0M217.3 986.2h0M216.6 1020.2h0M182.3 980.5h0M193.9 1006.7h0M240.0 990.6h0M197.2 970.5h0M214.1 1027.5h0M143.0 963.6h0M211.8 960.6h0M160.6 1020.4h0M149.1 1001.2h0M211.2 987.9h0M205.4 1028.7h0M143.5 995.0h0M242.3 938.9h0M198.9 941.4h0M243.8 944.8h0M239.1 986.7h0M164.2 991.7h0M180.4 968.1h0M200.7 999.4h0M183.4 944.2h0M248.1 965.1h0M226.9 1024.4h0M242.3 1009.0h0M198.5 986.0h0M229.6 995.1h0M220.0 949.2h0M231.4 980.4h0M149.8 959.6h0M248.3 1016.8h0M217.5 941.9h0M250.1 949.0h0M238.0 974.5h0M226.6 972.3h0M220.4 954.4h0M192.9 988.5h0M209.6 1009.1h0M229.3 938.2h0M242.2 1021.2h0M188.9 980.1h0M248.1 955.4h0M150.9 979.2h0M195.2 940.4h0M160.3 998.9h0M205.0 952.5h0M176.3 985.7h0M181.3 984.0h0M141.0 937.8h0M198.0 950.7h0M157.4 1017.7h0M196.5 985.4h0M247.0 1027.1h0M228.3 986.5h0M222.1 937.5h0M240.3 928.6h0M214.6 1026.9h0M223.0 1000.1h0M199.4 937.4h0M238.3 1007.8h0M168.9 960.9h0M176.0 1019.0h0M231.4 969.5h0M239.1 982.7h0M197.3 950.5h0M157.0 1012.9h0M226.1 943.0h0M228.9 955.1h0M216.0 994.9h0M231.8 956.1h0M141.8 1013.1h0M178.3 972.6h0M169.7 1023.6h0M188.2 1001.2h0M149.6 972.1h0" stroke="#8d7cb6" stroke-width="0.9" opacity="0.45"/>
</g>
<clipPath id="tc19"><rect x="253.2" y="925.0" width="111.6" height="104.0"/></clipPath>
<rect x="253.2" y="925.0" width="111.6" height="104.0" fill="#c9bcc0" />
<g clip-path="url(#tc19)" fill="none" stroke-linecap="round">
<path d="M302.9 955.6l0.2 2.9M307.2 934.1l1.2 0.8M261.6 946.1l1.3 0.3M260.1 950.1l0.0 0.1M306.3 935.9l2.2 1.3M361.8 1019.9l1.9 0.7M333.1 948.7l-0.0 0.0M301.0 991.4l1.6 2.3M276.2 1018.4l-1.7 1.9M358.7 1016.9l1.7 0.3M255.6 1020.7l1.6 1.8M305.2 954.4l1.9 1.3M294.5 963.4l0.1 1.8M261.5 1027.5l-1.3 0.2M328.9 980.4l-0.7 2.3M278.4 1025.6l2.8 0.3M304.1 1002.3l1.9 1.4M257.9 963.0l-0.3 0.1M291.2 981.1l0.9 1.8M266.7 1015.4l1.7 2.3M342.7 938.6l-1.1 0.9M308.3 928.8l0.6 2.6M273.2 966.2l0.3 2.6M340.1 977.8l0.6 0.8M319.0 974.6l-0.0 0.0M340.0 985.5l-0.0 0.1M256.0 960.8l-2.8 0.7M267.2 960.5l0.3 0.3M302.0 941.3l-0.6 2.0M307.1 943.7l2.4 0.8M319.1 933.9l1.8 1.0M299.9 1021.1l2.5 1.5M259.0 982.1l1.1 2.3M340.4 976.5l-0.3 0.3M299.1 975.1l1.0 1.7M342.7 966.3l0.3 1.2M300.7 956.4l1.7 0.5M260.9 1018.4l-2.4 0.7M305.6 990.8l0.6 0.4M270.2 967.2l-2.3 1.7M256.6 988.4l0.6 0.3M322.5 956.2l0.9 0.2M277.2 933.9l-0.3 2.0M324.1 944.2l-0.3 0.5M299.4 945.9l1.2 2.0M300.6 985.2l-1.6 0.0M273.8 952.8l2.2 0.6M319.8 999.7l0.9 1.0M277.3 929.9l0.2 0.1M281.7 1002.1l-1.2 2.1M340.5 937.1l-0.3 0.7M300.9 949.2l-0.3 2.1M361.6 972.5l0.0 0.4M319.5 979.7l1.1 0.1M262.2 1001.3l-0.3 1.3M286.1 963.4l0.7 2.6M332.3 951.3l0.7 0.4M336.1 988.0l-0.2 1.7M325.0 980.2l0.3 2.8M345.9 940.4l0.3 0.6M301.1 938.2l-2.5 0.8M260.8 975.9l-0.9 0.0M291.7 956.7l0.1 0.1M326.9 1007.1l0.4 0.4M302.7 934.4l-0.1 1.8M269.3 938.6l-1.2 1.4M266.7 958.2l-1.1 0.4M309.5 974.7l0.3 0.8M294.6 1023.6l-1.6 0.8M253.7 977.9l0.2 0.1M319.5 964.1l0.1 0.1M314.5 934.4l-0.3 0.2M349.2 939.3l-1.8 1.7M253.6 945.2l-1.4 2.3M357.0 971.3l-0.0 0.2M283.7 974.3l0.8 1.0M314.9 1022.3l-1.2 1.7M351.9 954.8l-0.4 1.2M364.6 996.0l0.7 2.5M358.4 929.3l0.0 0.2M360.5 931.9l1.7 0.2M302.8 994.1l-0.6 2.0M290.3 979.7l0.8 2.5M308.4 1015.4l0.1 0.0M263.4 1004.5l1.4 1.0M356.2 980.0l-1.6 0.5M341.8 938.3l-1.5 0.9M274.9 984.6l-2.8 0.0M256.4 988.1l-0.2 0.9M262.7 1005.5l-1.9 0.8M267.6 1022.2l-0.8 2.0M265.5 950.1l-2.4 0.6M322.2 959.1l1.0 0.1M343.3 1028.9l-0.3 1.6M327.2 970.7l-0.7 0.8M313.9 985.0l0.4 0.7M321.1 997.1l1.0 1.8M350.9 991.0l-0.4 0.9M273.6 1018.0l0.7 2.4M275.9 1010.9l0.1 0.2M340.6 984.8l0.0 0.1M364.2 1017.7l1.2 2.0M260.1 973.0l-0.7 2.9M316.5 940.0l-0.7 0.3M291.0 993.8l-2.0 1.2M278.7 957.9l-1.6 0.5M256.6 1004.9l0.8 0.9M306.6 985.3l-2.0 1.4M294.8 1008.7l0.3 0.3M356.8 967.3l-2.2 0.1M298.4 1005.1l0.7 1.0M277.2 941.5l-1.1 0.1M337.1 1021.5l-0.2 2.3M256.8 983.2l0.9 0.3M290.3 996.4l-1.1 2.6M315.7 957.9l-0.4 1.4M321.7 963.8l1.7 1.2M319.4 982.3l1.1 0.3M359.1 1011.0l0.2 0.1M312.8 959.4l-2.1 0.6M311.6 996.4l-1.5 0.0M294.3 946.3l-0.3 0.3M265.1 1004.6l-0.8 0.6M279.2 1010.6l0.2 0.9M331.8 975.6l0.9 1.5M268.7 1028.5l1.6 0.3M346.2 1001.9l-0.6 2.7M340.5 986.4l2.5 1.7M353.6 1003.5l-1.5 2.3M339.4 927.0l0.1 0.2M260.5 930.1l0.9 0.3M336.6 1013.1l-0.6 0.7M360.1 927.3l2.0 0.8M309.1 976.3l-1.4 0.6M340.3 941.3l-1.3 2.6M290.4 1019.5l0.4 0.4M260.1 959.4l0.3 0.2M321.0 947.0l-1.4 1.5M273.4 1003.1l1.3 0.4M356.0 992.2l-0.4 1.4M285.3 951.5l1.6 0.0M305.4 955.6l-1.2 0.1M307.6 1013.4l0.3 0.4M338.5 1020.0l-0.3 0.1M332.5 942.2l-0.2 0.1M292.9 941.4l-0.8 0.8M346.8 992.1l-2.2 0.6M348.5 935.7l2.7 0.7M295.6 937.0l-0.9 2.7M271.4 942.9l-0.6 2.8" stroke="#ab96d8" stroke-width="4.8" opacity="0.5" filter="url(#hb)"/>
<g stroke="#5c48b2" opacity="0.72" filter="url(#cb)">
<path d="M261.6 946.1l1.3 0.3M358.7 1016.9l1.7 0.3M261.5 1027.5l-1.3 0.2M266.7 1015.4l1.7 2.3M256.0 960.8l-2.8 0.7M302.0 941.3l-0.6 2.0M340.4 976.5l-0.3 0.3M300.7 956.4l1.7 0.5M300.6 985.2l-1.6 0.0M286.1 963.4l0.7 2.6M325.0 980.2l0.3 2.8M326.9 1007.1l0.4 0.4M269.3 938.6l-1.2 1.4M309.5 974.7l0.3 0.8M360.5 931.9l1.7 0.2M302.8 994.1l-0.6 2.0M290.3 979.7l0.8 2.5M274.9 984.6l-2.8 0.0M322.2 959.1l1.0 0.1M321.1 997.1l1.0 1.8M273.6 1018.0l0.7 2.4M316.5 940.0l-0.7 0.3M291.0 993.8l-2.0 1.2M256.6 1004.9l0.8 0.9M277.2 941.5l-1.1 0.1M331.8 975.6l0.9 1.5M268.7 1028.5l1.6 0.3M360.1 927.3l2.0 0.8M309.1 976.3l-1.4 0.6M285.3 951.5l1.6 0.0M305.4 955.6l-1.2 0.1M307.6 1013.4l0.3 0.4M338.5 1020.0l-0.3 0.1M348.5 935.7l2.7 0.7" stroke-width="1.2"/>
<path d="M306.3 935.9l2.2 1.3M276.2 1018.4l-1.7 1.9M255.6 1020.7l1.6 1.8M294.5 963.4l0.1 1.8M328.9 980.4l-0.7 2.3M278.4 1025.6l2.8 0.3M273.2 966.2l0.3 2.6M319.0 974.6l-0.0 0.0M307.1 943.7l2.4 0.8M259.0 982.1l1.1 2.3M270.2 967.2l-2.3 1.7M322.5 956.2l0.9 0.2M277.2 933.9l-0.3 2.0M319.8 999.7l0.9 1.0M277.3 929.9l0.2 0.1M281.7 1002.1l-1.2 2.1M319.5 979.7l1.1 0.1M262.2 1001.3l-0.3 1.3M302.7 934.4l-0.1 1.8M294.6 1023.6l-1.6 0.8M253.7 977.9l0.2 0.1M319.5 964.1l0.1 0.1M283.7 974.3l0.8 1.0M351.9 954.8l-0.4 1.2M308.4 1015.4l0.1 0.0M263.4 1004.5l1.4 1.0M341.8 938.3l-1.5 0.9M256.4 988.1l-0.2 0.9M327.2 970.7l-0.7 0.8M313.9 985.0l0.4 0.7M350.9 991.0l-0.4 0.9M340.6 984.8l0.0 0.1M260.1 973.0l-0.7 2.9M294.8 1008.7l0.3 0.3M298.4 1005.1l0.7 1.0M337.1 1021.5l-0.2 2.3M315.7 957.9l-0.4 1.4M321.7 963.8l1.7 1.2M359.1 1011.0l0.2 0.1M340.5 986.4l2.5 1.7M353.6 1003.5l-1.5 2.3M336.6 1013.1l-0.6 0.7M260.1 959.4l0.3 0.2M321.0 947.0l-1.4 1.5M356.0 992.2l-0.4 1.4M346.8 992.1l-2.2 0.6" stroke-width="1.7"/>
<path d="M302.9 955.6l0.2 2.9M307.2 934.1l1.2 0.8M361.8 1019.9l1.9 0.7M301.0 991.4l1.6 2.3M305.2 954.4l1.9 1.3M257.9 963.0l-0.3 0.1M291.2 981.1l0.9 1.8M340.0 985.5l-0.0 0.1M267.2 960.5l0.3 0.3M319.1 933.9l1.8 1.0M299.9 1021.1l2.5 1.5M299.1 975.1l1.0 1.7M260.9 1018.4l-2.4 0.7M305.6 990.8l0.6 0.4M299.4 945.9l1.2 2.0M273.8 952.8l2.2 0.6M340.5 937.1l-0.3 0.7M300.9 949.2l-0.3 2.1M332.3 951.3l0.7 0.4M336.1 988.0l-0.2 1.7M301.1 938.2l-2.5 0.8M260.8 975.9l-0.9 0.0M266.7 958.2l-1.1 0.4M314.5 934.4l-0.3 0.2M349.2 939.3l-1.8 1.7M357.0 971.3l-0.0 0.2M314.9 1022.3l-1.2 1.7M364.6 996.0l0.7 2.5M356.2 980.0l-1.6 0.5M267.6 1022.2l-0.8 2.0M265.5 950.1l-2.4 0.6M343.3 1028.9l-0.3 1.6M275.9 1010.9l0.1 0.2M364.2 1017.7l1.2 2.0M278.7 957.9l-1.6 0.5M306.6 985.3l-2.0 1.4M256.8 983.2l0.9 0.3M290.3 996.4l-1.1 2.6M319.4 982.3l1.1 0.3M294.3 946.3l-0.3 0.3M279.2 1010.6l0.2 0.9M339.4 927.0l0.1 0.2M260.5 930.1l0.9 0.3M340.3 941.3l-1.3 2.6M290.4 1019.5l0.4 0.4M273.4 1003.1l1.3 0.4M332.5 942.2l-0.2 0.1" stroke-width="2.2"/>
<path d="M260.1 950.1l0.0 0.1M333.1 948.7l-0.0 0.0M304.1 1002.3l1.9 1.4M342.7 938.6l-1.1 0.9M308.3 928.8l0.6 2.6M340.1 977.8l0.6 0.8M342.7 966.3l0.3 1.2M256.6 988.4l0.6 0.3M324.1 944.2l-0.3 0.5M361.6 972.5l0.0 0.4M345.9 940.4l0.3 0.6M291.7 956.7l0.1 0.1M253.6 945.2l-1.4 2.3M358.4 929.3l0.0 0.2M262.7 1005.5l-1.9 0.8M356.8 967.3l-2.2 0.1M312.8 959.4l-2.1 0.6M311.6 996.4l-1.5 0.0M265.1 1004.6l-0.8 0.6M346.2 1001.9l-0.6 2.7M292.9 941.4l-0.8 0.8M295.6 937.0l-0.9 2.7M271.4 942.9l-0.6 2.8" stroke-width="2.8"/>
</g>
<path d="M327.0 949.6h0M273.1 934.1h0M277.7 958.9h0M260.9 1007.6h0M362.9 956.2h0M303.7 995.6h0M255.8 996.7h0M353.3 954.3h0M261.2 951.9h0M349.5 990.1h0M311.7 965.5h0M325.8 925.5h0M261.3 999.3h0M282.0 1005.0h0M288.3 959.0h0M340.9 963.0h0M331.8 952.9h0M311.5 966.6h0M255.9 956.7h0M266.2 1004.9h0M298.0 1004.9h0M298.1 976.7h0M356.3 951.7h0M328.0 1006.8h0M319.7 939.8h0M340.3 976.8h0M339.9 934.4h0M272.3 1013.0h0M363.7 982.4h0M275.3 929.8h0M309.3 936.7h0M322.0 939.1h0M279.0 954.1h0M302.5 948.9h0M312.0 975.2h0M339.2 943.7h0M283.6 1004.1h0M355.3 944.8h0M299.5 965.9h0M351.5 990.0h0M254.5 984.1h0M284.1 989.3h0M336.0 934.4h0M344.1 964.1h0M331.0 1006.1h0M350.7 968.7h0M327.2 926.3h0M358.8 997.4h0M298.3 1009.5h0M310.0 1017.4h0M303.1 995.1h0M281.7 991.6h0M257.0 983.7h0M306.4 941.0h0M288.5 1025.9h0M340.7 983.7h0M296.6 927.2h0M336.7 928.6h0M275.4 934.9h0M317.6 942.9h0M364.5 1012.3h0M306.9 994.0h0M256.2 948.8h0M278.2 982.7h0M331.8 933.1h0M257.8 967.8h0M337.5 984.5h0M324.5 990.2h0M356.2 982.2h0M258.1 1019.0h0M318.2 929.1h0M344.4 926.8h0M339.9 1028.1h0M269.4 987.7h0M322.6 969.0h0M276.7 954.3h0M313.9 987.5h0M351.2 1028.0h0M355.4 1003.1h0M326.3 952.8h0M281.4 968.3h0M264.6 973.8h0M322.6 992.4h0M319.6 1014.3h0M263.2 967.3h0M337.4 973.0h0M294.7 996.2h0M345.7 933.3h0M254.8 935.2h0M314.2 952.0h0M299.4 1022.9h0M302.1 960.0h0M298.2 982.9h0M276.2 942.2h0M260.1 973.1h0M298.6 979.0h0M301.4 1020.2h0M329.9 1011.4h0M301.3 972.3h0M330.5 994.4h0M305.2 1017.9h0M324.9 931.5h0M353.5 976.7h0M347.4 961.4h0M276.5 1015.4h0M281.3 956.0h0M274.5 1005.5h0M320.8 1012.7h0M359.5 1020.3h0M267.3 1004.5h0M346.2 947.7h0M358.5 942.2h0M275.3 1015.3h0M284.8 974.1h0M270.5 1003.4h0M277.5 943.3h0M315.7 957.3h0M286.0 958.3h0M268.9 1011.9h0M353.6 1012.0h0M316.6 984.9h0M339.4 970.6h0M321.6 983.5h0M319.6 1001.8h0M292.5 931.1h0M292.8 944.0h0M304.9 930.7h0M339.7 939.9h0M351.6 934.6h0M296.7 968.3h0M328.0 943.4h0M364.2 993.2h0M317.0 991.3h0M288.2 950.7h0M320.6 1026.4h0" stroke="#8d7cb6" stroke-width="0.9" opacity="0.45"/>
</g>
<clipPath id="tc20"><rect x="366.5" y="925.0" width="111.7" height="104.0"/></clipPath>
<rect x="366.5" y="925.0" width="111.7" height="104.0" fill="#cabdbd" />
<g clip-path="url(#tc20)" fill="none" stroke-linecap="round">
<path d="M419.7 990.5l0.3 1.8M469.3 926.8l0.7 2.0M445.1 1008.6l-0.6 2.6M389.0 1010.2l-0.5 0.8M383.0 1014.6l0.4 0.8M447.1 933.7l0.3 0.9M367.1 931.6l-0.6 0.7M421.6 989.9l-2.7 1.0M376.4 928.1l2.1 1.1M466.1 955.8l0.1 0.1M365.7 933.4l-1.0 1.3M420.9 943.6l1.2 2.4M422.6 991.5l1.4 0.5M390.8 950.5l0.3 0.1M447.2 1022.7l1.6 0.6M378.9 941.3l2.5 0.9M463.7 995.4l1.3 0.5M464.0 950.3l1.3 0.6M435.3 969.1l-0.3 1.6M445.7 942.7l0.8 0.4M446.7 935.0l1.9 0.5M465.2 995.9l-1.0 2.2M429.2 1011.6l0.4 1.7M419.3 995.0l-1.0 1.1M424.0 928.9l1.5 1.9M426.3 994.9l-0.9 2.1M458.4 1027.1l2.1 1.3M378.7 959.1l0.4 2.3M380.8 965.6l-0.5 1.8M381.7 968.4l-1.0 0.2M470.4 993.6l-1.1 1.9M385.7 1027.3l-0.0 0.0M443.8 974.6l0.3 0.2M375.7 955.9l-2.5 0.5M419.3 993.8l-1.7 0.7M422.3 994.7l-0.3 0.4M448.4 977.5l-1.0 0.5M449.9 977.1l0.0 0.0M425.2 929.9l-0.2 0.4M459.6 961.4l0.1 0.6M389.7 925.2l-1.3 1.2M383.1 1010.4l0.7 1.4M389.4 950.2l0.2 1.3M444.5 943.5l0.0 2.4M444.6 934.8l-1.3 0.4M434.9 972.4l-0.2 2.1M403.4 946.3l-1.0 0.7M395.5 1007.7l1.1 1.3M385.7 928.5l2.1 1.2M417.7 993.9l-0.0 0.0M439.4 946.2l-0.1 1.4M445.3 981.9l2.0 0.2M469.6 957.2l-1.3 0.3M385.6 927.4l0.1 1.0M406.4 1004.6l-0.3 2.5M394.5 1017.7l-2.3 1.5M450.8 932.6l2.6 1.0M370.7 978.0l-0.1 1.0M410.0 973.2l-1.1 0.7M369.3 965.5l-1.4 2.1M424.7 926.0l-0.0 2.0M389.7 927.5l-1.0 0.4M393.1 970.8l-1.3 1.1M474.9 982.3l0.5 2.0M380.2 969.9l0.1 0.1M396.7 977.0l0.3 1.2M459.5 977.7l-1.9 1.7M470.7 956.9l-0.0 1.5M408.8 974.2l0.3 0.0M471.3 975.1l-1.5 0.8M448.5 969.2l-0.2 0.0M450.6 967.2l-1.3 1.7M381.0 1002.2l1.1 0.9M447.3 933.1l-1.5 1.1M420.4 991.0l-0.5 0.1M424.5 998.4l-0.1 0.2M444.8 937.8l-0.1 0.6M417.2 1021.9l-0.9 1.5M443.8 931.2l-0.5 2.2M471.1 1017.2l2.5 0.6M417.0 989.6l1.7 0.9M390.8 1021.3l1.9 0.2M385.9 932.6l-0.3 0.6M409.2 928.2l0.4 0.2M411.2 975.2l-0.4 2.2M419.5 976.9l-1.2 1.5M386.0 929.6l-1.8 0.9M418.0 931.4l1.6 1.8M383.0 1011.8l-2.8 0.8M383.8 946.7l0.8 0.2M405.8 949.7l-0.8 0.8M440.7 937.9l-0.0 0.0M463.0 1008.2l-0.1 0.1M418.5 942.8l-2.0 0.2M434.2 937.2l-0.6 1.2M408.7 983.1l1.8 1.1M444.8 965.9l2.0 0.2M413.4 963.5l-0.3 2.1M385.1 1016.9l-2.4 0.7M458.8 961.4l1.4 2.0M406.1 947.1l-1.3 0.5M417.1 960.5l0.9 0.3M471.4 970.4l-0.3 0.5M419.8 1008.5l1.1 0.6M435.6 940.3l0.4 0.3M409.3 970.8l-0.3 0.8M434.2 939.5l2.2 0.1M391.0 970.9l-0.0 1.6M451.1 931.7l-0.1 0.9M368.5 936.1l-0.4 1.8M386.4 982.8l1.0 1.3M384.6 930.6l-1.3 0.6M380.2 975.4l1.8 0.3M448.5 991.2l-1.0 1.8M448.6 996.2l0.9 2.6M411.9 960.1l0.2 0.3M443.7 942.6l-0.1 0.4M383.9 969.6l-2.0 0.5M388.3 931.1l-1.1 0.0M438.9 951.6l-0.1 1.1M414.2 1023.8l-1.3 1.5M428.5 995.9l0.9 2.7M399.5 939.7l0.9 2.5M444.7 997.0l1.4 2.0M464.1 1012.2l-1.3 1.6M393.3 961.2l2.5 1.5M444.7 997.3l1.0 2.5M371.8 1003.5l-1.5 0.5M428.6 1023.9l-1.5 0.3M454.2 969.4l-1.6 1.3M431.2 941.8l1.3 2.3M469.0 933.8l2.3 0.7M407.9 934.1l-1.4 0.6M399.2 965.5l-0.2 0.9M443.5 936.2l-0.0 0.7M385.9 937.0l2.2 0.6M373.6 994.0l2.8 0.4M444.7 971.2l-0.4 0.4M414.4 963.9l-3.0 0.0M442.2 943.3l0.0 2.1M429.8 962.0l1.4 0.1M386.0 973.4l0.8 1.4M451.1 973.0l0.3 0.1M468.3 993.4l0.3 0.6M388.9 1005.6l0.6 0.3M398.9 991.4l0.9 2.7M462.7 1012.0l1.1 0.8M383.8 968.8l-0.2 1.4M422.0 991.0l-0.3 0.1M408.0 1001.5l-1.4 2.6" stroke="#ab96d8" stroke-width="4.8" opacity="0.5" filter="url(#hb)"/>
<g stroke="#5c48b2" opacity="0.72" filter="url(#cb)">
<path d="M367.1 931.6l-0.6 0.7M464.0 950.3l1.3 0.6M465.2 995.9l-1.0 2.2M419.3 995.0l-1.0 1.1M426.3 994.9l-0.9 2.1M439.4 946.2l-0.1 1.4M445.3 981.9l2.0 0.2M385.6 927.4l0.1 1.0M394.5 1017.7l-2.3 1.5M474.9 982.3l0.5 2.0M381.0 1002.2l1.1 0.9M444.8 937.8l-0.1 0.6M390.8 1021.3l1.9 0.2M385.9 932.6l-0.3 0.6M471.4 970.4l-0.3 0.5M409.3 970.8l-0.3 0.8M448.6 996.2l0.9 2.6M393.3 961.2l2.5 1.5M428.6 1023.9l-1.5 0.3M454.2 969.4l-1.6 1.3M469.0 933.8l2.3 0.7M429.8 962.0l1.4 0.1M398.9 991.4l0.9 2.7M422.0 991.0l-0.3 0.1" stroke-width="1.2"/>
<path d="M469.3 926.8l0.7 2.0M376.4 928.1l2.1 1.1M466.1 955.8l0.1 0.1M390.8 950.5l0.3 0.1M463.7 995.4l1.3 0.5M445.7 942.7l0.8 0.4M458.4 1027.1l2.1 1.3M375.7 955.9l-2.5 0.5M422.3 994.7l-0.3 0.4M459.6 961.4l0.1 0.6M389.7 925.2l-1.3 1.2M383.1 1010.4l0.7 1.4M389.4 950.2l0.2 1.3M444.5 943.5l0.0 2.4M434.9 972.4l-0.2 2.1M395.5 1007.7l1.1 1.3M417.7 993.9l-0.0 0.0M469.6 957.2l-1.3 0.3M410.0 973.2l-1.1 0.7M369.3 965.5l-1.4 2.1M380.2 969.9l0.1 0.1M471.3 975.1l-1.5 0.8M447.3 933.1l-1.5 1.1M424.5 998.4l-0.1 0.2M417.2 1021.9l-0.9 1.5M471.1 1017.2l2.5 0.6M440.7 937.9l-0.0 0.0M418.5 942.8l-2.0 0.2M385.1 1016.9l-2.4 0.7M458.8 961.4l1.4 2.0M434.2 939.5l2.2 0.1M391.0 970.9l-0.0 1.6M368.5 936.1l-0.4 1.8M386.4 982.8l1.0 1.3M448.5 991.2l-1.0 1.8M443.7 942.6l-0.1 0.4M399.5 939.7l0.9 2.5M444.7 997.3l1.0 2.5M431.2 941.8l1.3 2.3M443.5 936.2l-0.0 0.7M385.9 937.0l2.2 0.6M373.6 994.0l2.8 0.4M444.7 971.2l-0.4 0.4M468.3 993.4l0.3 0.6M462.7 1012.0l1.1 0.8" stroke-width="1.7"/>
<path d="M419.7 990.5l0.3 1.8M445.1 1008.6l-0.6 2.6M447.1 933.7l0.3 0.9M421.6 989.9l-2.7 1.0M420.9 943.6l1.2 2.4M422.6 991.5l1.4 0.5M447.2 1022.7l1.6 0.6M446.7 935.0l1.9 0.5M381.7 968.4l-1.0 0.2M385.7 1027.3l-0.0 0.0M443.8 974.6l0.3 0.2M419.3 993.8l-1.7 0.7M448.4 977.5l-1.0 0.5M449.9 977.1l0.0 0.0M425.2 929.9l-0.2 0.4M403.4 946.3l-1.0 0.7M406.4 1004.6l-0.3 2.5M370.7 978.0l-0.1 1.0M424.7 926.0l-0.0 2.0M389.7 927.5l-1.0 0.4M393.1 970.8l-1.3 1.1M396.7 977.0l0.3 1.2M459.5 977.7l-1.9 1.7M470.7 956.9l-0.0 1.5M408.8 974.2l0.3 0.0M448.5 969.2l-0.2 0.0M420.4 991.0l-0.5 0.1M443.8 931.2l-0.5 2.2M417.0 989.6l1.7 0.9M409.2 928.2l0.4 0.2M419.5 976.9l-1.2 1.5M386.0 929.6l-1.8 0.9M418.0 931.4l1.6 1.8M383.0 1011.8l-2.8 0.8M383.8 946.7l0.8 0.2M405.8 949.7l-0.8 0.8M463.0 1008.2l-0.1 0.1M434.2 937.2l-0.6 1.2M444.8 965.9l2.0 0.2M413.4 963.5l-0.3 2.1M406.1 947.1l-1.3 0.5M417.1 960.5l0.9 0.3M419.8 1008.5l1.1 0.6M435.6 940.3l0.4 0.3M384.6 930.6l-1.3 0.6M380.2 975.4l1.8 0.3M411.9 960.1l0.2 0.3M383.9 969.6l-2.0 0.5M388.3 931.1l-1.1 0.0M438.9 951.6l-0.1 1.1M414.2 1023.8l-1.3 1.5M371.8 1003.5l-1.5 0.5M407.9 934.1l-1.4 0.6M399.2 965.5l-0.2 0.9M386.0 973.4l0.8 1.4M451.1 973.0l0.3 0.1M383.8 968.8l-0.2 1.4" stroke-width="2.2"/>
<path d="M389.0 1010.2l-0.5 0.8M383.0 1014.6l0.4 0.8M365.7 933.4l-1.0 1.3M378.9 941.3l2.5 0.9M435.3 969.1l-0.3 1.6M429.2 1011.6l0.4 1.7M424.0 928.9l1.5 1.9M378.7 959.1l0.4 2.3M380.8 965.6l-0.5 1.8M470.4 993.6l-1.1 1.9M444.6 934.8l-1.3 0.4M385.7 928.5l2.1 1.2M450.8 932.6l2.6 1.0M450.6 967.2l-1.3 1.7M411.2 975.2l-0.4 2.2M408.7 983.1l1.8 1.1M451.1 931.7l-0.1 0.9M428.5 995.9l0.9 2.7M444.7 997.0l1.4 2.0M464.1 1012.2l-1.3 1.6M414.4 963.9l-3.0 0.0M442.2 943.3l0.0 2.1M388.9 1005.6l0.6 0.3M408.0 1001.5l-1.4 2.6" stroke-width="2.8"/>
</g>
<path d="M438.6 952.1h0M447.7 1026.1h0M462.3 1025.4h0M453.7 970.3h0M390.6 1022.9h0M403.1 958.7h0M366.9 929.8h0M366.7 989.7h0M466.7 929.2h0M373.8 975.8h0M473.1 992.8h0M443.8 1026.4h0M438.3 938.3h0M430.5 930.3h0M466.0 938.6h0M425.7 931.6h0M439.4 995.7h0M375.0 929.3h0M412.5 935.3h0M433.7 973.0h0M368.7 959.1h0M402.3 952.2h0M405.9 999.8h0M406.4 931.6h0M432.3 939.8h0M408.6 970.9h0M402.0 1021.6h0M381.3 954.4h0M462.6 948.8h0M409.6 1009.8h0M408.9 933.1h0M367.7 983.2h0M439.2 962.1h0M391.7 989.3h0M435.7 978.7h0M402.7 940.6h0M453.5 979.8h0M435.6 1015.8h0M453.4 1011.0h0M437.0 997.3h0M460.4 1028.2h0M415.4 999.0h0M465.7 938.9h0M458.6 995.2h0M440.0 981.9h0M393.6 939.5h0M463.0 926.9h0M376.3 975.8h0M418.5 975.4h0M467.3 974.4h0M454.5 946.5h0M421.1 1005.7h0M457.3 972.8h0M465.8 931.9h0M466.4 949.6h0M428.7 933.3h0M387.4 962.0h0M436.0 1015.2h0M473.2 961.8h0M473.1 931.4h0M455.0 946.2h0M399.0 983.3h0M382.6 1011.6h0M475.1 962.6h0M469.7 1022.8h0M374.9 1010.6h0M448.2 983.1h0M441.6 983.4h0M464.7 986.9h0M433.5 994.7h0M371.9 973.3h0M416.7 957.8h0M397.9 1006.3h0M409.7 944.3h0M410.2 992.6h0M412.8 946.6h0M474.2 960.4h0M376.8 973.7h0M418.9 956.2h0M441.1 940.9h0M445.0 1019.3h0M407.1 955.9h0M465.1 1010.4h0M473.8 982.9h0M432.9 1003.9h0M445.5 951.4h0M457.2 967.6h0M412.6 999.5h0M438.3 998.5h0M376.7 984.7h0M432.6 1025.3h0M385.3 947.3h0M466.6 962.4h0M396.1 928.6h0M426.6 992.4h0M418.2 929.9h0M434.1 993.7h0M459.1 990.0h0M438.3 929.2h0M420.3 932.7h0M463.9 930.4h0M432.5 969.5h0M418.3 957.5h0M467.0 957.7h0M382.7 946.8h0M435.8 980.1h0M384.2 1016.7h0M426.9 1002.6h0M417.8 984.8h0M426.7 973.1h0M411.4 941.7h0M396.4 1007.3h0M425.2 953.5h0M397.3 940.7h0M472.9 1002.8h0M441.3 1011.8h0M432.5 931.3h0M410.7 938.8h0M379.4 1008.0h0M434.8 969.6h0M461.9 1001.5h0M391.7 929.2h0M403.8 994.6h0M370.1 990.1h0M446.7 931.7h0M398.1 997.1h0M424.4 928.8h0M385.5 946.2h0M443.1 1004.8h0M384.0 957.8h0M386.4 935.3h0M451.4 948.6h0M468.9 971.8h0M416.8 991.3h0M392.1 934.8h0" stroke="#8d7cb6" stroke-width="0.9" opacity="0.45"/>
</g>
<text x="81.5" y="913.0" font-size="10.2" text-anchor="middle" fill="#222" textLength="35.5" lengthAdjust="spacingAndGlyphs" stroke="#222" stroke-width="0.14">Control</text>
<text x="81.5" y="920.9" font-size="10.2" text-anchor="middle" fill="#222" textLength="63.5" lengthAdjust="spacingAndGlyphs" stroke="#222" stroke-width="0.14">invaded cells</text>
<path d="M46.8 914.3Q44.1 917.6 46.8 920.9M115.5 914.3Q118.0 917.6 115.5 920.9" stroke="#333" stroke-width="0.75" fill="none"/>
<text x="197.3" y="913.0" font-size="10.2" text-anchor="middle" fill="#222" textLength="29.5" lengthAdjust="spacingAndGlyphs" stroke="#222" stroke-width="0.14">+rPF4</text>
<text x="197.3" y="920.9" font-size="10.2" text-anchor="middle" fill="#222" textLength="63.5" lengthAdjust="spacingAndGlyphs" stroke="#222" stroke-width="0.14">invaded cells</text>
<path d="M162.6 914.3Q160.0 917.6 162.6 920.9M231.2 914.3Q233.8 917.6 231.2 920.9" stroke="#333" stroke-width="0.75" fill="none"/>
<text x="311.5" y="913.0" font-size="10.2" text-anchor="middle" fill="#222" textLength="85.1" lengthAdjust="spacingAndGlyphs" stroke="#222" stroke-width="0.14">Sparc-KD1+rPF4</text>
<text x="309.0" y="920.9" font-size="10.2" text-anchor="middle" fill="#222" textLength="63.5" lengthAdjust="spacingAndGlyphs" stroke="#222" stroke-width="0.14">invaded cells</text>
<path d="M274.2 914.3Q271.6 917.6 274.2 920.9M342.9 914.3Q345.6 917.6 342.9 920.9" stroke="#333" stroke-width="0.75" fill="none"/>
<text x="424.3" y="913.0" font-size="10.2" text-anchor="middle" fill="#222" textLength="85.1" lengthAdjust="spacingAndGlyphs" stroke="#222" stroke-width="0.14">Sparc-KD2+rPF4</text>
<text x="421.8" y="920.9" font-size="10.2" text-anchor="middle" fill="#222" textLength="63.5" lengthAdjust="spacingAndGlyphs" stroke="#222" stroke-width="0.14">invaded cells</text>
<path d="M387.1 914.3Q384.4 917.6 387.1 920.9M455.8 914.3Q458.4 917.6 455.8 920.9" stroke="#333" stroke-width="0.75" fill="none"/>
<text x="19.5" y="986.0" font-size="11" text-anchor="middle" fill="#222" textLength="51.5" lengthAdjust="spacingAndGlyphs" stroke="#222" stroke-width="0.14" transform="rotate(-90 19.5 982.0)">OL-shPF4</text>
<path d="M543.1 974.7V967.8M536.3 967.8H550.0" stroke="#2f3368" stroke-width="1.4" fill="none"/>
<rect x="528.8" y="973.7" width="28.7" height="46.3" fill="#2f3368" />
<path d="M584.8 985.7V984.0M578.0 984.0H591.6" stroke="#e9282b" stroke-width="1.4" fill="none"/>
<rect x="570.6" y="984.7" width="28.4" height="35.3" fill="#e9282b" />
<path d="M626.4 977.6V972.7M619.5 972.7H633.2" stroke="#8c2329" stroke-width="1.4" fill="none"/>
<rect x="612.0" y="976.6" width="28.7" height="43.4" fill="#8c2329" />
<path d="M668.1 977.6V973.7M661.3 973.7H675.0" stroke="#c8692f" stroke-width="1.4" fill="none"/>
<rect x="653.8" y="976.6" width="28.7" height="43.4" fill="#c8692f" />
<path d="M514.8 926.9V1020.0H700.0" stroke="#111" stroke-width="1.65" fill="none"/>
<path d="M510.3 927.6H514.8" stroke="#111" stroke-width="1.5" fill="none"/>
<text x="511.0" y="930.7" font-size="8.6" text-anchor="end" fill="#222" textLength="12.4" lengthAdjust="spacingAndGlyphs" stroke="#222" stroke-width="0.14">2.0</text>
<path d="M510.3 950.7H514.8" stroke="#111" stroke-width="1.5" fill="none"/>
<text x="511.0" y="953.8" font-size="8.6" text-anchor="end" fill="#222" textLength="12.4" lengthAdjust="spacingAndGlyphs" stroke="#222" stroke-width="0.14">1.5</text>
<path d="M510.3 973.8H514.8" stroke="#111" stroke-width="1.5" fill="none"/>
<text x="511.0" y="976.9" font-size="8.6" text-anchor="end" fill="#222" textLength="12.4" lengthAdjust="spacingAndGlyphs" stroke="#222" stroke-width="0.14">1.0</text>
<path d="M510.3 996.9H514.8" stroke="#111" stroke-width="1.5" fill="none"/>
<text x="511.0" y="1000.0" font-size="8.6" text-anchor="end" fill="#222" textLength="12.4" lengthAdjust="spacingAndGlyphs" stroke="#222" stroke-width="0.14">0.5</text>
<path d="M510.3 1020.0H514.8" stroke="#111" stroke-width="1.5" fill="none"/>
<text x="511.0" y="1023.1" font-size="8.6" text-anchor="end" fill="#222" textLength="12.4" lengthAdjust="spacingAndGlyphs" stroke="#222" stroke-width="0.14">0.0</text>
<path d="M543.1 1020.0V1023.8" stroke="#111" stroke-width="1.5" fill="none"/>
<path d="M584.8 1020.0V1023.8" stroke="#111" stroke-width="1.5" fill="none"/>
<path d="M626.4 1020.0V1023.8" stroke="#111" stroke-width="1.5" fill="none"/>
<path d="M668.1 1020.0V1023.8" stroke="#111" stroke-width="1.5" fill="none"/>
<text x="489.7" y="978.2" font-size="8.6" text-anchor="middle" fill="#222" textLength="93.0" lengthAdjust="spacingAndGlyphs" stroke="#222" stroke-width="0.14" transform="rotate(-90 489.7 975.1)">Relative number of invaded cells</text>
<path d="M545.4 958V952H585.2" stroke="#111" stroke-width="1.1" fill="none"/>
<path d="M585.2 980.2V940.2H668.1V969.4" stroke="#111" stroke-width="1.1" fill="none"/>
<path d="M585.2 949.9H627.5V969.4" stroke="#111" stroke-width="1.1" fill="none"/>
<path d="M562.0 946.3l0.00 -2.90M562.0 946.3l2.76 -0.90M562.0 946.3l1.70 2.35M562.0 946.3l-1.70 2.35M562.0 946.3l-2.76 -0.90M569.0 946.3l0.00 -2.90M569.0 946.3l2.76 -0.90M569.0 946.3l1.70 2.35M569.0 946.3l-1.70 2.35M569.0 946.3l-2.76 -0.90" stroke="#1a1a1a" stroke-width="1.05" fill="none"/>
<path d="M607.0 946.1l0.00 -2.90M607.0 946.1l2.76 -0.90M607.0 946.1l1.70 2.35M607.0 946.1l-1.70 2.35M607.0 946.1l-2.76 -0.90" stroke="#1a1a1a" stroke-width="1.05" fill="none"/>
<path d="M628.5 934.4l0.00 -2.90M628.5 934.4l2.76 -0.90M628.5 934.4l1.70 2.35M628.5 934.4l-1.70 2.35M628.5 934.4l-2.76 -0.90" stroke="#1a1a1a" stroke-width="1.05" fill="none"/>
<text x="594.6" y="926.3" font-size="10.2" text-anchor="middle" fill="#1a1a1a" textLength="48.0" lengthAdjust="spacingAndGlyphs" stroke="#1a1a1a" stroke-width="0.14">OL-shPf4</text>
<text x="538.6" y="1031.6" font-size="9.0" text-anchor="middle" fill="#1a1a1a" textLength="29.4" lengthAdjust="spacingAndGlyphs" stroke="#1a1a1a" stroke-width="0.14">Control</text>
<text x="583.8" y="1031.6" font-size="9.0" text-anchor="middle" fill="#1a1a1a" textLength="25.2" lengthAdjust="spacingAndGlyphs" stroke="#1a1a1a" stroke-width="0.14">+rPF4</text>
<text x="621.5" y="1031.6" font-size="9.0" text-anchor="middle" fill="#1a1a1a" textLength="45.0" lengthAdjust="spacingAndGlyphs" stroke="#1a1a1a" stroke-width="0.14">KD1+rPF4</text>
<text x="674.8" y="1031.6" font-size="9.0" text-anchor="middle" fill="#1a1a1a" textLength="44.1" lengthAdjust="spacingAndGlyphs" stroke="#1a1a1a" stroke-width="0.14">KD2+rPF4</text></svg>
</body></html>
